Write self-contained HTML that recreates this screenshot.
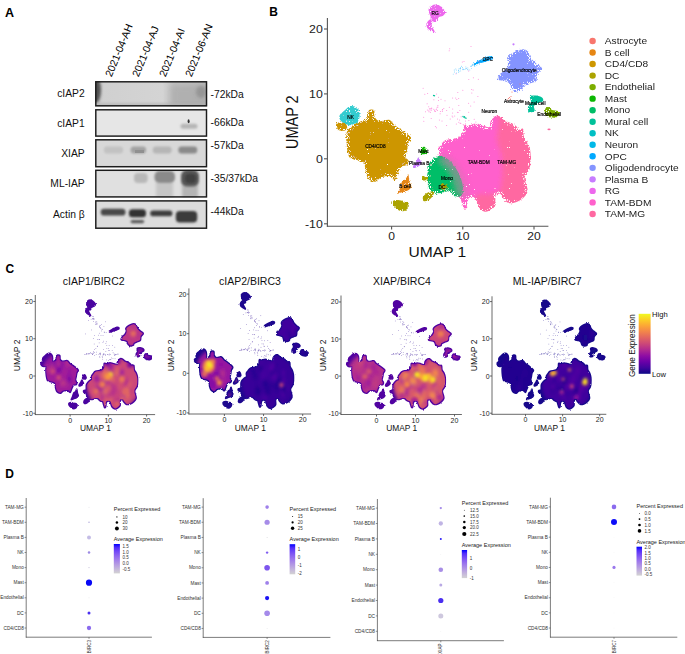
<!DOCTYPE html>
<html><head><meta charset="utf-8"><style>
html,body{margin:0;padding:0;background:#fff;}
body{width:685px;height:654px;overflow:hidden;}
svg{display:block;font-family:"Liberation Sans", sans-serif;}
</style></head><body>
<svg width="685" height="654" viewBox="0 0 685 654">
<defs><filter id="bl1" x="-50%" y="-50%" width="200%" height="200%"><feGaussianBlur stdDeviation="1.0"/></filter><filter id="bl2" x="-50%" y="-50%" width="200%" height="200%"><feGaussianBlur stdDeviation="2.5"/></filter><filter id="bl05" x="-50%" y="-50%" width="200%" height="200%"><feGaussianBlur stdDeviation="0.7"/></filter><linearGradient id="g1" x1="0" x2="1" y1="0" y2="0"><stop offset="0" stop-color="#cccccc"/><stop offset="0.06" stop-color="#d0d0d0"/><stop offset="0.6" stop-color="#d4d4d4"/><stop offset="0.7" stop-color="#c6c6c6"/><stop offset="1" stop-color="#bcbcbc"/></linearGradient><linearGradient id="gl" x1="0" x2="1" y1="0" y2="0"><stop offset="0" stop-color="#6a6a6a"/><stop offset="0.3" stop-color="#8a8a8a" stop-opacity="0.75"/><stop offset="1" stop-color="#c8c8c8" stop-opacity="0"/></linearGradient><filter id="bl15" x="-50%" y="-50%" width="200%" height="200%"><feGaussianBlur stdDeviation="1.5"/></filter><filter id="bl3" x="-50%" y="-50%" width="200%" height="200%"><feGaussianBlur stdDeviation="3"/></filter><filter id="rough" x="-5%" y="-5%" width="110%" height="110%"><feTurbulence type="fractalNoise" baseFrequency="0.7" numOctaves="2" seed="4" result="n"/><feDisplacementMap in="SourceGraphic" in2="n" scale="3.2" xChannelSelector="R" yChannelSelector="G" result="d"/><feMorphology in="d" operator="erode" radius="2.2" result="inner"/><feComposite in="d" in2="inner" operator="out" result="band"/><feTurbulence type="fractalNoise" baseFrequency="0.95" numOctaves="1" seed="9" result="t"/><feColorMatrix in="t" type="matrix" values="0 0 0 0 1  0 0 0 0 1  0 0 0 0 1  28 0 0 0 -20.6" result="spk"/><feComposite in="spk" in2="d" operator="in" result="spk2"/><feColorMatrix in="t" type="matrix" values="0 0 0 0 1  0 0 0 0 1  0 0 0 0 1  16 0 0 0 -9.0" result="spkb"/><feComposite in="spkb" in2="band" operator="in" result="spkb2"/><feMerge><feMergeNode in="d"/><feMergeNode in="spk2"/><feMergeNode in="spkb2"/></feMerge></filter><filter id="rough2" x="-20%" y="-20%" width="140%" height="140%"><feTurbulence type="fractalNoise" baseFrequency="0.8" numOctaves="2" seed="5" result="n"/><feDisplacementMap in="SourceGraphic" in2="n" scale="3.0" xChannelSelector="R" yChannelSelector="G" result="d"/><feTurbulence type="fractalNoise" baseFrequency="0.95" numOctaves="1" seed="12" result="t"/><feColorMatrix in="t" type="matrix" values="0 0 0 0 1  0 0 0 0 1  0 0 0 0 1  20 0 0 0 -13.2" result="spk"/><feComposite in="spk" in2="d" operator="in" result="spk2"/><feMerge><feMergeNode in="d"/><feMergeNode in="spk2"/></feMerge></filter><filter id="roughc" x="-10%" y="-10%" width="120%" height="120%"><feTurbulence type="fractalNoise" baseFrequency="0.22" numOctaves="2" seed="8" result="n"/><feDisplacementMap in="SourceGraphic" in2="n" scale="4.5" xChannelSelector="R" yChannelSelector="G"/></filter><mask id="cclip" maskUnits="userSpaceOnUse" x="0" y="-20" width="700" height="300"><g filter="url(#roughc)"><g fill="#fff" stroke="#fff" stroke-width="3.2" stroke-linejoin="round"><path d="M441.20,145.00 C442.53,143.35 443.18,141.32 446.00,140.10 C448.82,138.88 455.28,139.03 458.10,137.70 C460.92,136.37 461.97,134.23 462.90,132.10 C463.83,129.97 462.77,125.97 463.70,124.90 C464.63,123.83 466.62,125.83 468.50,125.70 C470.38,125.57 472.58,124.10 475.00,124.10 C477.42,124.10 480.60,125.17 483.00,125.70 C485.40,126.23 488.07,128.10 489.40,127.30 C490.73,126.50 489.93,122.77 491.00,120.90 C492.07,119.03 494.18,116.77 495.80,116.10 C497.42,115.43 499.08,116.10 500.70,116.90 C502.32,117.70 503.37,119.70 505.50,120.90 C507.63,122.10 511.23,122.77 513.50,124.10 C515.77,125.43 517.50,128.10 519.10,128.90 C520.70,129.70 522.28,127.55 523.10,128.90 C523.92,130.25 523.18,134.58 524.00,137.00 C524.82,139.42 526.93,141.00 528.00,143.40 C529.07,145.80 530.00,147.93 530.40,151.40 C530.80,154.87 530.63,161.07 530.40,164.20 C530.17,167.33 529.95,167.98 529.00,170.20 C528.05,172.42 525.05,174.82 524.70,177.50 C524.35,180.18 526.42,183.87 526.90,186.30 C527.38,188.73 528.22,190.15 527.60,192.10 C526.98,194.05 525.15,196.30 523.20,198.00 C521.25,199.70 518.33,201.45 515.90,202.30 C513.47,203.15 510.78,203.82 508.60,203.10 C506.42,202.38 504.25,199.58 502.80,198.00 C501.35,196.42 501.12,193.85 499.90,193.60 C498.68,193.35 496.23,194.55 495.50,196.50 C494.77,198.45 496.23,203.12 495.50,205.30 C494.77,207.48 492.80,208.52 491.10,209.60 C489.40,210.68 487.25,212.03 485.30,211.80 C483.35,211.57 480.98,210.27 479.40,208.20 C477.82,206.13 477.02,201.35 475.80,199.40 C474.58,197.45 473.45,196.50 472.10,196.50 C470.75,196.50 468.67,197.45 467.70,199.40 C466.73,201.35 466.90,206.62 466.30,208.20 C465.70,209.78 464.83,209.88 464.10,208.90 C463.37,207.92 462.52,204.12 461.90,202.30 C461.28,200.48 461.13,198.97 460.40,198.00 C459.67,197.03 458.40,197.83 457.50,196.50 C456.60,195.17 456.25,193.58 455.00,190.00 C453.75,186.42 452.33,180.00 450.00,175.00 C447.67,170.00 443.00,164.17 441.00,160.00 C439.00,155.83 437.97,152.50 438.00,150.00 C438.03,147.50 439.87,146.65 441.20,145.00Z"/><path d="M368.50,110.10 C369.63,109.63 372.97,108.95 374.00,110.10 C375.03,111.25 373.78,115.17 374.70,117.00 C375.62,118.83 377.08,120.63 379.50,121.10 C381.92,121.57 386.67,119.10 389.20,119.80 C391.73,120.50 392.42,123.47 394.70,125.30 C396.98,127.13 400.15,128.73 402.90,130.80 C405.65,132.87 410.28,135.63 411.20,137.70 C412.12,139.77 409.08,141.15 408.40,143.20 C407.72,145.25 407.55,147.72 407.10,150.00 C406.65,152.28 405.48,155.07 405.70,156.90 C405.92,158.73 408.17,159.62 408.40,161.00 C408.63,162.38 408.23,164.27 407.10,165.20 C405.97,166.13 403.22,165.00 401.60,166.60 C399.98,168.20 398.55,172.52 397.40,174.80 C396.25,177.08 396.07,180.07 394.70,180.30 C393.33,180.53 391.50,176.65 389.20,176.20 C386.90,175.75 383.20,176.68 380.90,177.60 C378.60,178.52 377.47,181.48 375.40,181.70 C373.33,181.92 370.10,180.50 368.50,178.90 C366.90,177.30 366.48,174.62 365.80,172.10 C365.12,169.58 365.32,165.65 364.40,163.80 C363.48,161.95 362.60,161.92 360.30,161.00 C358.00,160.08 352.67,159.67 350.60,158.30 C348.53,156.93 348.58,155.32 347.90,152.80 C347.22,150.28 346.73,146.42 346.50,143.20 C346.27,139.98 346.03,136.03 346.50,133.50 C346.97,130.97 347.92,129.60 349.30,128.00 C350.68,126.40 352.75,125.05 354.80,123.90 C356.85,122.75 359.65,122.02 361.60,121.10 C363.55,120.18 365.57,119.77 366.50,118.40 C367.43,117.03 366.87,114.28 367.20,112.90 C367.53,111.52 367.37,110.57 368.50,110.10Z"/><path d="M336.20,124.00 C336.70,122.83 339.37,122.50 341.00,122.50 C342.63,122.50 345.00,122.92 346.00,124.00 C347.00,125.08 347.50,127.87 347.00,129.00 C346.50,130.13 344.50,130.72 343.00,130.80 C341.50,130.88 339.13,130.63 338.00,129.50 C336.87,128.37 335.70,125.17 336.20,124.00Z"/><path d="M350.60,106.00 C352.67,105.65 356.00,106.40 357.50,108.00 C359.00,109.60 359.60,113.30 359.60,115.60 C359.60,117.90 359.22,120.18 357.50,121.80 C355.78,123.42 352.05,125.42 349.30,125.30 C346.55,125.18 342.62,122.72 341.00,121.10 C339.38,119.48 338.92,117.43 339.60,115.60 C340.28,113.77 343.27,111.70 345.10,110.10 C346.93,108.50 348.53,106.35 350.60,106.00Z"/><path d="M408.20,174.30 C408.82,174.72 408.98,179.57 409.50,181.60 C410.02,183.63 411.52,185.07 411.30,186.50 C411.08,187.93 409.93,189.18 408.20,190.20 C406.47,191.22 402.73,192.00 400.90,192.60 C399.07,193.20 397.40,194.42 397.20,193.80 C397.00,193.18 398.88,190.93 399.70,188.90 C400.52,186.87 401.08,183.23 402.10,181.60 C403.12,179.97 404.78,180.32 405.80,179.10 C406.82,177.88 407.58,173.88 408.20,174.30Z"/><path d="M393.00,201.00 C393.92,200.33 396.17,199.92 398.00,200.00 C399.83,200.08 402.25,201.00 404.00,201.50 C405.75,202.00 407.83,201.92 408.50,203.00 C409.17,204.08 408.75,206.67 408.00,208.00 C407.25,209.33 405.50,210.58 404.00,211.00 C402.50,211.42 400.50,211.17 399.00,210.50 C397.50,209.83 396.08,208.08 395.00,207.00 C393.92,205.92 392.83,205.00 392.50,204.00 C392.17,203.00 392.08,201.67 393.00,201.00Z"/><path d="M423.00,197.00 C423.58,195.67 425.67,193.92 427.00,193.00 C428.33,192.08 429.83,191.58 431.00,191.50 C432.17,191.42 433.83,191.58 434.00,192.50 C434.17,193.42 433.00,195.67 432.00,197.00 C431.00,198.33 429.42,199.83 428.00,200.50 C426.58,201.17 424.33,201.58 423.50,201.00 C422.67,200.42 422.42,198.33 423.00,197.00Z"/><path d="M422.00,177.50 C422.33,176.85 424.00,176.50 425.00,176.50 C426.00,176.50 427.67,176.92 428.00,177.50 C428.33,178.08 427.83,179.52 427.00,180.00 C426.17,180.48 423.83,180.82 423.00,180.40 C422.17,179.98 421.67,178.15 422.00,177.50Z"/><path d="M423.50,146.70 C424.67,146.45 426.67,150.77 427.00,152.00 C427.33,153.23 426.67,153.85 425.50,154.10 C424.33,154.35 420.33,154.73 420.00,153.50 C419.67,152.27 422.33,146.95 423.50,146.70Z"/><path d="M418.50,157.10 C419.17,156.77 419.47,159.02 420.00,160.00 C420.53,160.98 421.87,162.00 421.70,163.00 C421.53,164.00 420.28,165.15 419.00,166.00 C417.72,166.85 414.98,168.10 414.00,168.10 C413.02,168.10 412.77,167.02 413.10,166.00 C413.43,164.98 415.10,163.48 416.00,162.00 C416.90,160.52 417.83,157.43 418.50,157.10Z"/><path d="M428.00,165.00 C429.08,162.67 432.00,159.50 434.00,158.00 C436.00,156.50 438.00,156.00 440.00,156.00 C442.00,156.00 444.00,156.83 446.00,158.00 C448.00,159.17 450.00,160.67 452.00,163.00 C454.00,165.33 456.33,168.83 458.00,172.00 C459.67,175.17 461.17,178.67 462.00,182.00 C462.83,185.33 463.33,189.58 463.00,192.00 C462.67,194.42 461.33,195.83 460.00,196.50 C458.67,197.17 456.90,196.85 455.00,196.00 C453.10,195.15 451.50,191.77 448.60,191.40 C445.70,191.03 440.45,193.80 437.60,193.80 C434.75,193.80 433.23,193.23 431.50,191.40 C429.77,189.57 427.87,186.03 427.20,182.80 C426.53,179.57 427.37,174.97 427.50,172.00 C427.63,169.03 426.92,167.33 428.00,165.00Z"/><path d="M440.60,185.00 C440.93,184.05 442.93,183.72 444.00,183.80 C445.07,183.88 446.67,184.63 447.00,185.50 C447.33,186.37 446.83,188.33 446.00,189.00 C445.17,189.67 442.90,190.17 442.00,189.50 C441.10,188.83 440.27,185.95 440.60,185.00Z"/><path d="M430.30,6.10 C431.38,5.23 433.42,4.40 435.10,4.40 C436.78,4.40 438.93,5.23 440.40,6.10 C441.87,6.97 443.02,8.57 443.90,9.60 C444.78,10.63 445.85,11.27 445.70,12.30 C445.55,13.33 444.18,14.93 443.00,15.80 C441.82,16.67 439.92,16.33 438.60,17.50 C437.28,18.67 436.12,22.37 435.10,22.80 C434.08,23.23 433.43,21.57 432.50,20.10 C431.57,18.63 430.15,15.75 429.50,14.00 C428.85,12.25 428.47,10.92 428.60,9.60 C428.73,8.28 429.22,6.97 430.30,6.10Z"/><path d="M430.80,19.30 C430.07,19.30 428.83,20.13 428.10,21.00 C427.37,21.87 426.53,23.33 426.40,24.50 C426.27,25.67 426.57,26.97 427.30,28.00 C428.03,29.03 429.63,29.97 430.80,30.70 C431.97,31.43 433.43,31.97 434.30,32.40 C435.17,32.83 436.15,33.88 436.00,33.30 C435.85,32.72 434.13,30.22 433.40,28.90 C432.67,27.58 431.75,26.72 431.60,25.40 C431.45,24.08 432.63,22.02 432.50,21.00 C432.37,19.98 431.53,19.30 430.80,19.30Z"/><path d="M509.40,55.20 C510.97,53.93 514.07,52.08 516.40,51.10 C518.73,50.12 521.45,49.20 523.40,49.30 C525.35,49.40 526.93,50.33 528.10,51.70 C529.27,53.07 529.05,55.55 530.40,57.50 C531.75,59.45 534.25,61.65 536.20,63.40 C538.15,65.15 541.90,66.25 542.10,68.00 C542.30,69.75 538.38,71.75 537.40,73.90 C536.42,76.05 537.37,79.35 536.20,80.90 C535.03,82.45 532.53,82.23 530.40,83.20 C528.27,84.17 524.77,85.53 523.40,86.70 C522.03,87.87 523.37,89.42 522.20,90.20 C521.03,90.98 518.15,91.60 516.40,91.40 C514.65,91.20 512.87,90.37 511.70,89.00 C510.53,87.63 510.77,84.55 509.40,83.20 C508.03,81.85 505.45,81.48 503.50,80.90 C501.55,80.32 498.28,80.87 497.70,79.70 C497.12,78.53 498.83,75.45 500.00,73.90 C501.17,72.35 503.33,72.15 504.70,70.40 C506.07,68.65 507.82,65.35 508.20,63.40 C508.58,61.45 506.80,60.07 507.00,58.70 C507.20,57.33 507.83,56.47 509.40,55.20Z"/><path d="M474.00,63.50 C474.83,62.67 478.17,60.95 480.00,60.00 C481.83,59.05 483.50,58.42 485.00,57.80 C486.50,57.18 487.67,56.43 489.00,56.30 C490.33,56.17 492.50,56.45 493.00,57.00 C493.50,57.55 493.17,58.85 492.00,59.60 C490.83,60.35 488.00,60.88 486.00,61.50 C484.00,62.12 481.83,62.72 480.00,63.30 C478.17,63.88 476.00,64.97 475.00,65.00 C474.00,65.03 473.17,64.33 474.00,63.50Z"/><path d="M530.00,96.50 C530.83,95.42 534.00,95.33 536.00,95.50 C538.00,95.67 540.83,96.58 542.00,97.50 C543.17,98.42 543.67,100.00 543.00,101.00 C542.33,102.00 539.50,102.67 538.00,103.50 C536.50,104.33 534.58,104.75 534.00,106.00 C533.42,107.25 535.33,110.00 534.50,111.00 C533.67,112.00 530.08,112.67 529.00,112.00 C527.92,111.33 527.67,108.67 528.00,107.00 C528.33,105.33 530.67,103.75 531.00,102.00 C531.33,100.25 529.17,97.58 530.00,96.50Z"/><path d="M545.40,108.50 C546.07,107.33 547.90,106.75 549.00,107.00 C550.10,107.25 550.50,109.33 552.00,110.00 C553.50,110.67 556.77,110.33 558.00,111.00 C559.23,111.67 559.73,112.93 559.40,114.00 C559.07,115.07 557.73,116.90 556.00,117.40 C554.27,117.90 550.83,117.57 549.00,117.00 C547.17,116.43 545.60,115.42 545.00,114.00 C544.40,112.58 544.73,109.67 545.40,108.50Z"/></g></g></mask><filter id="erode" x="-10%" y="-10%" width="120%" height="120%"><feMorphology operator="erode" radius="2.6"/><feGaussianBlur stdDeviation="1.2"/></filter><mask id="cinner" maskUnits="userSpaceOnUse" x="0" y="-20" width="700" height="300"><g filter="url(#erode)" fill="#fff" stroke="#fff" stroke-width="3.2" stroke-linejoin="round"><path d="M441.20,145.00 C442.53,143.35 443.18,141.32 446.00,140.10 C448.82,138.88 455.28,139.03 458.10,137.70 C460.92,136.37 461.97,134.23 462.90,132.10 C463.83,129.97 462.77,125.97 463.70,124.90 C464.63,123.83 466.62,125.83 468.50,125.70 C470.38,125.57 472.58,124.10 475.00,124.10 C477.42,124.10 480.60,125.17 483.00,125.70 C485.40,126.23 488.07,128.10 489.40,127.30 C490.73,126.50 489.93,122.77 491.00,120.90 C492.07,119.03 494.18,116.77 495.80,116.10 C497.42,115.43 499.08,116.10 500.70,116.90 C502.32,117.70 503.37,119.70 505.50,120.90 C507.63,122.10 511.23,122.77 513.50,124.10 C515.77,125.43 517.50,128.10 519.10,128.90 C520.70,129.70 522.28,127.55 523.10,128.90 C523.92,130.25 523.18,134.58 524.00,137.00 C524.82,139.42 526.93,141.00 528.00,143.40 C529.07,145.80 530.00,147.93 530.40,151.40 C530.80,154.87 530.63,161.07 530.40,164.20 C530.17,167.33 529.95,167.98 529.00,170.20 C528.05,172.42 525.05,174.82 524.70,177.50 C524.35,180.18 526.42,183.87 526.90,186.30 C527.38,188.73 528.22,190.15 527.60,192.10 C526.98,194.05 525.15,196.30 523.20,198.00 C521.25,199.70 518.33,201.45 515.90,202.30 C513.47,203.15 510.78,203.82 508.60,203.10 C506.42,202.38 504.25,199.58 502.80,198.00 C501.35,196.42 501.12,193.85 499.90,193.60 C498.68,193.35 496.23,194.55 495.50,196.50 C494.77,198.45 496.23,203.12 495.50,205.30 C494.77,207.48 492.80,208.52 491.10,209.60 C489.40,210.68 487.25,212.03 485.30,211.80 C483.35,211.57 480.98,210.27 479.40,208.20 C477.82,206.13 477.02,201.35 475.80,199.40 C474.58,197.45 473.45,196.50 472.10,196.50 C470.75,196.50 468.67,197.45 467.70,199.40 C466.73,201.35 466.90,206.62 466.30,208.20 C465.70,209.78 464.83,209.88 464.10,208.90 C463.37,207.92 462.52,204.12 461.90,202.30 C461.28,200.48 461.13,198.97 460.40,198.00 C459.67,197.03 458.40,197.83 457.50,196.50 C456.60,195.17 456.25,193.58 455.00,190.00 C453.75,186.42 452.33,180.00 450.00,175.00 C447.67,170.00 443.00,164.17 441.00,160.00 C439.00,155.83 437.97,152.50 438.00,150.00 C438.03,147.50 439.87,146.65 441.20,145.00Z"/><path d="M368.50,110.10 C369.63,109.63 372.97,108.95 374.00,110.10 C375.03,111.25 373.78,115.17 374.70,117.00 C375.62,118.83 377.08,120.63 379.50,121.10 C381.92,121.57 386.67,119.10 389.20,119.80 C391.73,120.50 392.42,123.47 394.70,125.30 C396.98,127.13 400.15,128.73 402.90,130.80 C405.65,132.87 410.28,135.63 411.20,137.70 C412.12,139.77 409.08,141.15 408.40,143.20 C407.72,145.25 407.55,147.72 407.10,150.00 C406.65,152.28 405.48,155.07 405.70,156.90 C405.92,158.73 408.17,159.62 408.40,161.00 C408.63,162.38 408.23,164.27 407.10,165.20 C405.97,166.13 403.22,165.00 401.60,166.60 C399.98,168.20 398.55,172.52 397.40,174.80 C396.25,177.08 396.07,180.07 394.70,180.30 C393.33,180.53 391.50,176.65 389.20,176.20 C386.90,175.75 383.20,176.68 380.90,177.60 C378.60,178.52 377.47,181.48 375.40,181.70 C373.33,181.92 370.10,180.50 368.50,178.90 C366.90,177.30 366.48,174.62 365.80,172.10 C365.12,169.58 365.32,165.65 364.40,163.80 C363.48,161.95 362.60,161.92 360.30,161.00 C358.00,160.08 352.67,159.67 350.60,158.30 C348.53,156.93 348.58,155.32 347.90,152.80 C347.22,150.28 346.73,146.42 346.50,143.20 C346.27,139.98 346.03,136.03 346.50,133.50 C346.97,130.97 347.92,129.60 349.30,128.00 C350.68,126.40 352.75,125.05 354.80,123.90 C356.85,122.75 359.65,122.02 361.60,121.10 C363.55,120.18 365.57,119.77 366.50,118.40 C367.43,117.03 366.87,114.28 367.20,112.90 C367.53,111.52 367.37,110.57 368.50,110.10Z"/><path d="M336.20,124.00 C336.70,122.83 339.37,122.50 341.00,122.50 C342.63,122.50 345.00,122.92 346.00,124.00 C347.00,125.08 347.50,127.87 347.00,129.00 C346.50,130.13 344.50,130.72 343.00,130.80 C341.50,130.88 339.13,130.63 338.00,129.50 C336.87,128.37 335.70,125.17 336.20,124.00Z"/><path d="M350.60,106.00 C352.67,105.65 356.00,106.40 357.50,108.00 C359.00,109.60 359.60,113.30 359.60,115.60 C359.60,117.90 359.22,120.18 357.50,121.80 C355.78,123.42 352.05,125.42 349.30,125.30 C346.55,125.18 342.62,122.72 341.00,121.10 C339.38,119.48 338.92,117.43 339.60,115.60 C340.28,113.77 343.27,111.70 345.10,110.10 C346.93,108.50 348.53,106.35 350.60,106.00Z"/><path d="M408.20,174.30 C408.82,174.72 408.98,179.57 409.50,181.60 C410.02,183.63 411.52,185.07 411.30,186.50 C411.08,187.93 409.93,189.18 408.20,190.20 C406.47,191.22 402.73,192.00 400.90,192.60 C399.07,193.20 397.40,194.42 397.20,193.80 C397.00,193.18 398.88,190.93 399.70,188.90 C400.52,186.87 401.08,183.23 402.10,181.60 C403.12,179.97 404.78,180.32 405.80,179.10 C406.82,177.88 407.58,173.88 408.20,174.30Z"/><path d="M393.00,201.00 C393.92,200.33 396.17,199.92 398.00,200.00 C399.83,200.08 402.25,201.00 404.00,201.50 C405.75,202.00 407.83,201.92 408.50,203.00 C409.17,204.08 408.75,206.67 408.00,208.00 C407.25,209.33 405.50,210.58 404.00,211.00 C402.50,211.42 400.50,211.17 399.00,210.50 C397.50,209.83 396.08,208.08 395.00,207.00 C393.92,205.92 392.83,205.00 392.50,204.00 C392.17,203.00 392.08,201.67 393.00,201.00Z"/><path d="M423.00,197.00 C423.58,195.67 425.67,193.92 427.00,193.00 C428.33,192.08 429.83,191.58 431.00,191.50 C432.17,191.42 433.83,191.58 434.00,192.50 C434.17,193.42 433.00,195.67 432.00,197.00 C431.00,198.33 429.42,199.83 428.00,200.50 C426.58,201.17 424.33,201.58 423.50,201.00 C422.67,200.42 422.42,198.33 423.00,197.00Z"/><path d="M422.00,177.50 C422.33,176.85 424.00,176.50 425.00,176.50 C426.00,176.50 427.67,176.92 428.00,177.50 C428.33,178.08 427.83,179.52 427.00,180.00 C426.17,180.48 423.83,180.82 423.00,180.40 C422.17,179.98 421.67,178.15 422.00,177.50Z"/><path d="M423.50,146.70 C424.67,146.45 426.67,150.77 427.00,152.00 C427.33,153.23 426.67,153.85 425.50,154.10 C424.33,154.35 420.33,154.73 420.00,153.50 C419.67,152.27 422.33,146.95 423.50,146.70Z"/><path d="M418.50,157.10 C419.17,156.77 419.47,159.02 420.00,160.00 C420.53,160.98 421.87,162.00 421.70,163.00 C421.53,164.00 420.28,165.15 419.00,166.00 C417.72,166.85 414.98,168.10 414.00,168.10 C413.02,168.10 412.77,167.02 413.10,166.00 C413.43,164.98 415.10,163.48 416.00,162.00 C416.90,160.52 417.83,157.43 418.50,157.10Z"/><path d="M428.00,165.00 C429.08,162.67 432.00,159.50 434.00,158.00 C436.00,156.50 438.00,156.00 440.00,156.00 C442.00,156.00 444.00,156.83 446.00,158.00 C448.00,159.17 450.00,160.67 452.00,163.00 C454.00,165.33 456.33,168.83 458.00,172.00 C459.67,175.17 461.17,178.67 462.00,182.00 C462.83,185.33 463.33,189.58 463.00,192.00 C462.67,194.42 461.33,195.83 460.00,196.50 C458.67,197.17 456.90,196.85 455.00,196.00 C453.10,195.15 451.50,191.77 448.60,191.40 C445.70,191.03 440.45,193.80 437.60,193.80 C434.75,193.80 433.23,193.23 431.50,191.40 C429.77,189.57 427.87,186.03 427.20,182.80 C426.53,179.57 427.37,174.97 427.50,172.00 C427.63,169.03 426.92,167.33 428.00,165.00Z"/><path d="M440.60,185.00 C440.93,184.05 442.93,183.72 444.00,183.80 C445.07,183.88 446.67,184.63 447.00,185.50 C447.33,186.37 446.83,188.33 446.00,189.00 C445.17,189.67 442.90,190.17 442.00,189.50 C441.10,188.83 440.27,185.95 440.60,185.00Z"/><path d="M430.30,6.10 C431.38,5.23 433.42,4.40 435.10,4.40 C436.78,4.40 438.93,5.23 440.40,6.10 C441.87,6.97 443.02,8.57 443.90,9.60 C444.78,10.63 445.85,11.27 445.70,12.30 C445.55,13.33 444.18,14.93 443.00,15.80 C441.82,16.67 439.92,16.33 438.60,17.50 C437.28,18.67 436.12,22.37 435.10,22.80 C434.08,23.23 433.43,21.57 432.50,20.10 C431.57,18.63 430.15,15.75 429.50,14.00 C428.85,12.25 428.47,10.92 428.60,9.60 C428.73,8.28 429.22,6.97 430.30,6.10Z"/><path d="M430.80,19.30 C430.07,19.30 428.83,20.13 428.10,21.00 C427.37,21.87 426.53,23.33 426.40,24.50 C426.27,25.67 426.57,26.97 427.30,28.00 C428.03,29.03 429.63,29.97 430.80,30.70 C431.97,31.43 433.43,31.97 434.30,32.40 C435.17,32.83 436.15,33.88 436.00,33.30 C435.85,32.72 434.13,30.22 433.40,28.90 C432.67,27.58 431.75,26.72 431.60,25.40 C431.45,24.08 432.63,22.02 432.50,21.00 C432.37,19.98 431.53,19.30 430.80,19.30Z"/><path d="M509.40,55.20 C510.97,53.93 514.07,52.08 516.40,51.10 C518.73,50.12 521.45,49.20 523.40,49.30 C525.35,49.40 526.93,50.33 528.10,51.70 C529.27,53.07 529.05,55.55 530.40,57.50 C531.75,59.45 534.25,61.65 536.20,63.40 C538.15,65.15 541.90,66.25 542.10,68.00 C542.30,69.75 538.38,71.75 537.40,73.90 C536.42,76.05 537.37,79.35 536.20,80.90 C535.03,82.45 532.53,82.23 530.40,83.20 C528.27,84.17 524.77,85.53 523.40,86.70 C522.03,87.87 523.37,89.42 522.20,90.20 C521.03,90.98 518.15,91.60 516.40,91.40 C514.65,91.20 512.87,90.37 511.70,89.00 C510.53,87.63 510.77,84.55 509.40,83.20 C508.03,81.85 505.45,81.48 503.50,80.90 C501.55,80.32 498.28,80.87 497.70,79.70 C497.12,78.53 498.83,75.45 500.00,73.90 C501.17,72.35 503.33,72.15 504.70,70.40 C506.07,68.65 507.82,65.35 508.20,63.40 C508.58,61.45 506.80,60.07 507.00,58.70 C507.20,57.33 507.83,56.47 509.40,55.20Z"/><path d="M474.00,63.50 C474.83,62.67 478.17,60.95 480.00,60.00 C481.83,59.05 483.50,58.42 485.00,57.80 C486.50,57.18 487.67,56.43 489.00,56.30 C490.33,56.17 492.50,56.45 493.00,57.00 C493.50,57.55 493.17,58.85 492.00,59.60 C490.83,60.35 488.00,60.88 486.00,61.50 C484.00,62.12 481.83,62.72 480.00,63.30 C478.17,63.88 476.00,64.97 475.00,65.00 C474.00,65.03 473.17,64.33 474.00,63.50Z"/><path d="M530.00,96.50 C530.83,95.42 534.00,95.33 536.00,95.50 C538.00,95.67 540.83,96.58 542.00,97.50 C543.17,98.42 543.67,100.00 543.00,101.00 C542.33,102.00 539.50,102.67 538.00,103.50 C536.50,104.33 534.58,104.75 534.00,106.00 C533.42,107.25 535.33,110.00 534.50,111.00 C533.67,112.00 530.08,112.67 529.00,112.00 C527.92,111.33 527.67,108.67 528.00,107.00 C528.33,105.33 530.67,103.75 531.00,102.00 C531.33,100.25 529.17,97.58 530.00,96.50Z"/><path d="M545.40,108.50 C546.07,107.33 547.90,106.75 549.00,107.00 C550.10,107.25 550.50,109.33 552.00,110.00 C553.50,110.67 556.77,110.33 558.00,111.00 C559.23,111.67 559.73,112.93 559.40,114.00 C559.07,115.07 557.73,116.90 556.00,117.40 C554.27,117.90 550.83,117.57 549.00,117.00 C547.17,116.43 545.60,115.42 545.00,114.00 C544.40,112.58 544.73,109.67 545.40,108.50Z"/></g></mask><filter id="hb" x="-50%" y="-50%" width="200%" height="200%"><feGaussianBlur stdDeviation="3.6"/></filter><filter id="hb2" x="-50%" y="-50%" width="200%" height="200%"><feGaussianBlur stdDeviation="2.8"/></filter><linearGradient id="gexp" x1="0" x2="0" y1="1" y2="0"><stop offset="0.0" stop-color="#0D0887"/><stop offset="0.1" stop-color="#41049D"/><stop offset="0.2" stop-color="#6A00A8"/><stop offset="0.3" stop-color="#8F0DA4"/><stop offset="0.4" stop-color="#B12A90"/><stop offset="0.5" stop-color="#CC4778"/><stop offset="0.6" stop-color="#E16462"/><stop offset="0.7" stop-color="#F2844B"/><stop offset="0.8" stop-color="#FCA636"/><stop offset="0.9" stop-color="#FCCE25"/><stop offset="1.0" stop-color="#F0F921"/></linearGradient><linearGradient id="gavg" x1="0" x2="0" y1="1" y2="0"><stop offset="0.000" stop-color="#D3D3D3"/><stop offset="0.125" stop-color="#C8BCDA"/><stop offset="0.250" stop-color="#BBA5E0"/><stop offset="0.375" stop-color="#AD8EE6"/><stop offset="0.500" stop-color="#9D77EC"/><stop offset="0.625" stop-color="#8A60F1"/><stop offset="0.750" stop-color="#7248F6"/><stop offset="0.875" stop-color="#522DFB"/><stop offset="1.000" stop-color="#0000FF"/></linearGradient></defs>
<rect width="685" height="654" fill="#fff"/>
<text x="5.00" y="16.70" font-size="12.50" text-anchor="start" font-weight="bold" fill="#000" >A</text>
<text transform="translate(111.50,77.6) rotate(-67.5)" font-size="10.4" fill="#000">2021-04-AH</text>
<text transform="translate(138.50,77.6) rotate(-67.5)" font-size="10.4" fill="#000">2021-04-AJ</text>
<text transform="translate(165.50,77.6) rotate(-67.5)" font-size="10.4" fill="#000">2021-04-AI</text>
<text transform="translate(191.50,77.6) rotate(-67.5)" font-size="10.4" fill="#000">2021-06-AN</text>
<rect x="95.20" y="81.20" width="111.90" height="25.20" fill="url(#g1)"/>
<text x="84.70" y="97.40" font-size="10.30" text-anchor="end" font-weight="normal" fill="#111" >cIAP2</text>
<text x="210.50" y="98.20" font-size="10.30" text-anchor="start" font-weight="normal" fill="#111" >-72kDa</text>
<rect x="95.20" y="109.20" width="111.90" height="27.50" fill="#e6e6e6"/>
<text x="84.70" y="126.55" font-size="10.30" text-anchor="end" font-weight="normal" fill="#111" >cIAP1</text>
<text x="210.50" y="125.90" font-size="10.30" text-anchor="start" font-weight="normal" fill="#111" >-66kDa</text>
<rect x="95.20" y="139.20" width="111.90" height="28.10" fill="#d8d8d8"/>
<text x="84.70" y="156.85" font-size="10.30" text-anchor="end" font-weight="normal" fill="#111" >XIAP</text>
<text x="210.50" y="149.20" font-size="10.30" text-anchor="start" font-weight="normal" fill="#111" >-57kDa</text>
<rect x="95.20" y="169.70" width="111.90" height="27.80" fill="#e0e0e0"/>
<text x="84.70" y="187.20" font-size="10.30" text-anchor="end" font-weight="normal" fill="#111" >ML-IAP</text>
<text x="210.50" y="181.50" font-size="10.30" text-anchor="start" font-weight="normal" fill="#111" >-35/37kDa</text>
<rect x="95.20" y="200.30" width="111.90" height="28.50" fill="#dcdcdc"/>
<text x="84.70" y="218.15" font-size="10.30" text-anchor="end" font-weight="normal" fill="#111" >Actin β</text>
<text x="210.50" y="214.80" font-size="10.30" text-anchor="start" font-weight="normal" fill="#111" >-44kDa</text>
<g><clipPath id="c1clip"><rect x="95.2" y="81.2" width="111.9" height="25.2"/></clipPath><g clip-path="url(#c1clip)"><ellipse cx="95.5" cy="90" rx="5.5" ry="13" fill="#505050" filter="url(#bl15)"/><rect x="170" y="84" width="40" height="24" fill="#a8a8a8" opacity="0.7" filter="url(#bl3)"/><ellipse cx="201" cy="92" rx="5" ry="6" fill="#909090" opacity="0.8" filter="url(#bl15)"/><rect x="95" y="103" width="112" height="4" fill="#b0b0b0" opacity="0.6" filter="url(#bl1)"/></g><rect x="180.5" y="123.8" width="17" height="5" rx="2.5" fill="#b6b6b6" filter="url(#bl1)"/><ellipse cx="188.6" cy="121.2" rx="1" ry="2" fill="#333" filter="url(#bl05)"/><rect x="104.0" y="146.6" width="19.0" height="7" rx="3" fill="#c2c2c2" filter="url(#bl1)"/><rect x="130.6" y="146.6" width="15.4" height="7" rx="3" fill="#a2a2a2" filter="url(#bl1)"/><rect x="152.8" y="146.6" width="18.8" height="7" rx="3" fill="#b6b6b6" filter="url(#bl1)"/><rect x="178.4" y="146.6" width="18.8" height="7" rx="3" fill="#8a8a8a" filter="url(#bl1)"/><rect x="135" y="150" width="9" height="3" fill="#909090" filter="url(#bl05)"/><clipPath id="c4clip"><rect x="95.2" y="169.7" width="111.9" height="27.8"/></clipPath><g clip-path="url(#c4clip)"><rect x="156" y="182" width="17" height="16" fill="#c6c6c6" filter="url(#bl15)"/><rect x="182" y="184" width="16" height="14" fill="#b4b4b4" filter="url(#bl15)"/><rect x="134" y="172.9" width="13.7" height="10" rx="4" fill="#b8b8b8" filter="url(#bl1)"/><rect x="154.5" y="171" width="20.5" height="12" rx="5" fill="#8a8a8a" filter="url(#bl1)"/><rect x="181" y="170" width="18" height="16.5" rx="6" fill="#565656" filter="url(#bl1)"/><rect x="185" y="174" width="11" height="9" rx="4" fill="#404040" filter="url(#bl1)"/></g><rect x="100.7" y="208.8" width="24.8" height="6.8" rx="3.4" fill="#484848" filter="url(#bl1)"/><rect x="128.9" y="209.3" width="17.1" height="8" rx="3.5" fill="#303030" filter="url(#bl1)"/><rect x="130.6" y="219.9" width="13.6" height="3.4" rx="1.7" fill="#5a5a5a" filter="url(#bl1)"/><rect x="150.2" y="210.5" width="22.2" height="5.7" rx="2.8" fill="#3c3c3c" filter="url(#bl1)"/><rect x="175.8" y="211" width="21.4" height="11.5" rx="4" fill="#3a3a3a" filter="url(#bl1)"/></g>
<rect x="95.80" y="81.80" width="110.70" height="24.00" fill="none" stroke="#1c1c1c" stroke-width="1.45"/>
<rect x="95.80" y="109.80" width="110.70" height="26.30" fill="none" stroke="#1c1c1c" stroke-width="1.45"/>
<rect x="95.80" y="139.80" width="110.70" height="26.90" fill="none" stroke="#1c1c1c" stroke-width="1.45"/>
<rect x="95.80" y="170.30" width="110.70" height="26.60" fill="none" stroke="#1c1c1c" stroke-width="1.45"/>
<rect x="95.80" y="200.90" width="110.70" height="27.30" fill="none" stroke="#1c1c1c" stroke-width="1.45"/>
<text x="269.30" y="15.90" font-size="12.00" text-anchor="start" font-weight="bold" fill="#000" >B</text>
<line x1="327.40" y1="17.9" x2="327.40" y2="226.85" stroke="#555" stroke-width="1.1"/>
<line x1="326.85" y1="226.30" x2="548.4" y2="226.30" stroke="#555" stroke-width="1.1"/>
<line x1="324.00" y1="29.00" x2="327.40" y2="29.00" stroke="#555" stroke-width="1.1"/>
<text transform="translate(322.80,33.00) scale(1.100,1)" font-size="11.20" text-anchor="end" font-weight="normal" fill="#222" >20</text>
<line x1="324.00" y1="93.90" x2="327.40" y2="93.90" stroke="#555" stroke-width="1.1"/>
<text transform="translate(322.80,97.90) scale(1.100,1)" font-size="11.20" text-anchor="end" font-weight="normal" fill="#222" >10</text>
<line x1="324.00" y1="158.80" x2="327.40" y2="158.80" stroke="#555" stroke-width="1.1"/>
<text transform="translate(322.80,162.80) scale(1.100,1)" font-size="11.20" text-anchor="end" font-weight="normal" fill="#222" >0</text>
<line x1="324.00" y1="223.80" x2="327.40" y2="223.80" stroke="#555" stroke-width="1.1"/>
<text transform="translate(322.80,227.80) scale(1.100,1)" font-size="11.20" text-anchor="end" font-weight="normal" fill="#222" >-10</text>
<line x1="391.60" y1="226.30" x2="391.60" y2="229.50" stroke="#555" stroke-width="1.1"/>
<text transform="translate(391.60,240.30) scale(1.100,1)" font-size="11.00" text-anchor="middle" font-weight="normal" fill="#222" >0</text>
<line x1="462.80" y1="226.30" x2="462.80" y2="229.50" stroke="#555" stroke-width="1.1"/>
<text transform="translate(462.80,240.30) scale(1.100,1)" font-size="11.00" text-anchor="middle" font-weight="normal" fill="#222" >10</text>
<line x1="534.00" y1="226.30" x2="534.00" y2="229.50" stroke="#555" stroke-width="1.1"/>
<text transform="translate(534.00,240.30) scale(1.100,1)" font-size="11.00" text-anchor="middle" font-weight="normal" fill="#222" >20</text>
<text transform="translate(437.40,256.70) scale(1.130,1)" font-size="13.80" text-anchor="middle" font-weight="normal" fill="#111" >UMAP 1</text>
<text transform="translate(297.8,122.2) rotate(-90) scale(1,1.15)" font-size="14.5" text-anchor="middle" fill="#111">UMAP 2</text>
<g id="umapB"><clipPath id="pinkclip"><path d="M441.20,145.00 C442.53,143.35 443.18,141.32 446.00,140.10 C448.82,138.88 455.28,139.03 458.10,137.70 C460.92,136.37 461.97,134.23 462.90,132.10 C463.83,129.97 462.77,125.97 463.70,124.90 C464.63,123.83 466.62,125.83 468.50,125.70 C470.38,125.57 472.58,124.10 475.00,124.10 C477.42,124.10 480.60,125.17 483.00,125.70 C485.40,126.23 488.07,128.10 489.40,127.30 C490.73,126.50 489.93,122.77 491.00,120.90 C492.07,119.03 494.18,116.77 495.80,116.10 C497.42,115.43 499.08,116.10 500.70,116.90 C502.32,117.70 503.37,119.70 505.50,120.90 C507.63,122.10 511.23,122.77 513.50,124.10 C515.77,125.43 517.50,128.10 519.10,128.90 C520.70,129.70 522.28,127.55 523.10,128.90 C523.92,130.25 523.18,134.58 524.00,137.00 C524.82,139.42 526.93,141.00 528.00,143.40 C529.07,145.80 530.00,147.93 530.40,151.40 C530.80,154.87 530.63,161.07 530.40,164.20 C530.17,167.33 529.95,167.98 529.00,170.20 C528.05,172.42 525.05,174.82 524.70,177.50 C524.35,180.18 526.42,183.87 526.90,186.30 C527.38,188.73 528.22,190.15 527.60,192.10 C526.98,194.05 525.15,196.30 523.20,198.00 C521.25,199.70 518.33,201.45 515.90,202.30 C513.47,203.15 510.78,203.82 508.60,203.10 C506.42,202.38 504.25,199.58 502.80,198.00 C501.35,196.42 501.12,193.85 499.90,193.60 C498.68,193.35 496.23,194.55 495.50,196.50 C494.77,198.45 496.23,203.12 495.50,205.30 C494.77,207.48 492.80,208.52 491.10,209.60 C489.40,210.68 487.25,212.03 485.30,211.80 C483.35,211.57 480.98,210.27 479.40,208.20 C477.82,206.13 477.02,201.35 475.80,199.40 C474.58,197.45 473.45,196.50 472.10,196.50 C470.75,196.50 468.67,197.45 467.70,199.40 C466.73,201.35 466.90,206.62 466.30,208.20 C465.70,209.78 464.83,209.88 464.10,208.90 C463.37,207.92 462.52,204.12 461.90,202.30 C461.28,200.48 461.13,198.97 460.40,198.00 C459.67,197.03 458.40,197.83 457.50,196.50 C456.60,195.17 456.25,193.58 455.00,190.00 C453.75,186.42 452.33,180.00 450.00,175.00 C447.67,170.00 443.00,164.17 441.00,160.00 C439.00,155.83 437.97,152.50 438.00,150.00 C438.03,147.50 439.87,146.65 441.20,145.00Z"/></clipPath><clipPath id="pinkclip2"><path d="M441.20,145.00 C442.53,143.35 443.18,141.32 446.00,140.10 C448.82,138.88 455.28,139.03 458.10,137.70 C460.92,136.37 461.97,134.23 462.90,132.10 C463.83,129.97 462.77,125.97 463.70,124.90 C464.63,123.83 466.62,125.83 468.50,125.70 C470.38,125.57 472.58,124.10 475.00,124.10 C477.42,124.10 480.60,125.17 483.00,125.70 C485.40,126.23 488.07,128.10 489.40,127.30 C490.73,126.50 489.93,122.77 491.00,120.90 C492.07,119.03 494.18,116.77 495.80,116.10 C497.42,115.43 499.08,116.10 500.70,116.90 C502.32,117.70 503.37,119.70 505.50,120.90 C507.63,122.10 511.23,122.77 513.50,124.10 C515.77,125.43 517.50,128.10 519.10,128.90 C520.70,129.70 522.28,127.55 523.10,128.90 C523.92,130.25 523.18,134.58 524.00,137.00 C524.82,139.42 526.93,141.00 528.00,143.40 C529.07,145.80 530.00,147.93 530.40,151.40 C530.80,154.87 530.63,161.07 530.40,164.20 C530.17,167.33 529.95,167.98 529.00,170.20 C528.05,172.42 525.05,174.82 524.70,177.50 C524.35,180.18 526.42,183.87 526.90,186.30 C527.38,188.73 528.22,190.15 527.60,192.10 C526.98,194.05 525.15,196.30 523.20,198.00 C521.25,199.70 518.33,201.45 515.90,202.30 C513.47,203.15 510.78,203.82 508.60,203.10 C506.42,202.38 504.25,199.58 502.80,198.00 C501.35,196.42 501.12,193.85 499.90,193.60 C498.68,193.35 496.23,194.55 495.50,196.50 C494.77,198.45 496.23,203.12 495.50,205.30 C494.77,207.48 492.80,208.52 491.10,209.60 C489.40,210.68 487.25,212.03 485.30,211.80 C483.35,211.57 480.98,210.27 479.40,208.20 C477.82,206.13 477.02,201.35 475.80,199.40 C474.58,197.45 473.45,196.50 472.10,196.50 C470.75,196.50 468.67,197.45 467.70,199.40 C466.73,201.35 466.90,206.62 466.30,208.20 C465.70,209.78 464.83,209.88 464.10,208.90 C463.37,207.92 462.52,204.12 461.90,202.30 C461.28,200.48 461.13,198.97 460.40,198.00 C459.67,197.03 458.40,197.83 457.50,196.50 C456.60,195.17 456.25,193.58 455.00,190.00 C453.75,186.42 452.33,180.00 450.00,175.00 C447.67,170.00 443.00,164.17 441.00,160.00 C439.00,155.83 437.97,152.50 438.00,150.00 C438.03,147.50 439.87,146.65 441.20,145.00Z"/><path d="M428.00,165.00 C429.08,162.67 432.00,159.50 434.00,158.00 C436.00,156.50 438.00,156.00 440.00,156.00 C442.00,156.00 444.00,156.83 446.00,158.00 C448.00,159.17 450.00,160.67 452.00,163.00 C454.00,165.33 456.33,168.83 458.00,172.00 C459.67,175.17 461.17,178.67 462.00,182.00 C462.83,185.33 463.33,189.58 463.00,192.00 C462.67,194.42 461.33,195.83 460.00,196.50 C458.67,197.17 456.90,196.85 455.00,196.00 C453.10,195.15 451.50,191.77 448.60,191.40 C445.70,191.03 440.45,193.80 437.60,193.80 C434.75,193.80 433.23,193.23 431.50,191.40 C429.77,189.57 427.87,186.03 427.20,182.80 C426.53,179.57 427.37,174.97 427.50,172.00 C427.63,169.03 426.92,167.33 428.00,165.00Z"/></clipPath><g filter="url(#rough)"><path d="M441.20,145.00 C442.53,143.35 443.18,141.32 446.00,140.10 C448.82,138.88 455.28,139.03 458.10,137.70 C460.92,136.37 461.97,134.23 462.90,132.10 C463.83,129.97 462.77,125.97 463.70,124.90 C464.63,123.83 466.62,125.83 468.50,125.70 C470.38,125.57 472.58,124.10 475.00,124.10 C477.42,124.10 480.60,125.17 483.00,125.70 C485.40,126.23 488.07,128.10 489.40,127.30 C490.73,126.50 489.93,122.77 491.00,120.90 C492.07,119.03 494.18,116.77 495.80,116.10 C497.42,115.43 499.08,116.10 500.70,116.90 C502.32,117.70 503.37,119.70 505.50,120.90 C507.63,122.10 511.23,122.77 513.50,124.10 C515.77,125.43 517.50,128.10 519.10,128.90 C520.70,129.70 522.28,127.55 523.10,128.90 C523.92,130.25 523.18,134.58 524.00,137.00 C524.82,139.42 526.93,141.00 528.00,143.40 C529.07,145.80 530.00,147.93 530.40,151.40 C530.80,154.87 530.63,161.07 530.40,164.20 C530.17,167.33 529.95,167.98 529.00,170.20 C528.05,172.42 525.05,174.82 524.70,177.50 C524.35,180.18 526.42,183.87 526.90,186.30 C527.38,188.73 528.22,190.15 527.60,192.10 C526.98,194.05 525.15,196.30 523.20,198.00 C521.25,199.70 518.33,201.45 515.90,202.30 C513.47,203.15 510.78,203.82 508.60,203.10 C506.42,202.38 504.25,199.58 502.80,198.00 C501.35,196.42 501.12,193.85 499.90,193.60 C498.68,193.35 496.23,194.55 495.50,196.50 C494.77,198.45 496.23,203.12 495.50,205.30 C494.77,207.48 492.80,208.52 491.10,209.60 C489.40,210.68 487.25,212.03 485.30,211.80 C483.35,211.57 480.98,210.27 479.40,208.20 C477.82,206.13 477.02,201.35 475.80,199.40 C474.58,197.45 473.45,196.50 472.10,196.50 C470.75,196.50 468.67,197.45 467.70,199.40 C466.73,201.35 466.90,206.62 466.30,208.20 C465.70,209.78 464.83,209.88 464.10,208.90 C463.37,207.92 462.52,204.12 461.90,202.30 C461.28,200.48 461.13,198.97 460.40,198.00 C459.67,197.03 458.40,197.83 457.50,196.50 C456.60,195.17 456.25,193.58 455.00,190.00 C453.75,186.42 452.33,180.00 450.00,175.00 C447.67,170.00 443.00,164.17 441.00,160.00 C439.00,155.83 437.97,152.50 438.00,150.00 C438.03,147.50 439.87,146.65 441.20,145.00Z" fill="#FF68A1"/><g clip-path="url(#pinkclip)"><path d="M430.00,112.00 C440.50,94.67 481.83,107.33 493.00,112.00 C504.17,116.67 495.50,132.00 497.00,140.00 C498.50,148.00 501.50,151.67 502.00,160.00 C502.50,168.33 502.00,184.33 500.00,190.00 C498.00,195.67 494.00,193.00 490.00,194.00 C486.00,195.00 479.33,192.33 476.00,196.00 C472.67,199.67 477.67,212.67 470.00,216.00 C462.33,219.33 436.67,233.33 430.00,216.00 C423.33,198.67 419.50,129.33 430.00,112.00Z" fill="#FF61CC" filter="url(#bl2)"/></g><path d="M368.50,110.10 C369.63,109.63 372.97,108.95 374.00,110.10 C375.03,111.25 373.78,115.17 374.70,117.00 C375.62,118.83 377.08,120.63 379.50,121.10 C381.92,121.57 386.67,119.10 389.20,119.80 C391.73,120.50 392.42,123.47 394.70,125.30 C396.98,127.13 400.15,128.73 402.90,130.80 C405.65,132.87 410.28,135.63 411.20,137.70 C412.12,139.77 409.08,141.15 408.40,143.20 C407.72,145.25 407.55,147.72 407.10,150.00 C406.65,152.28 405.48,155.07 405.70,156.90 C405.92,158.73 408.17,159.62 408.40,161.00 C408.63,162.38 408.23,164.27 407.10,165.20 C405.97,166.13 403.22,165.00 401.60,166.60 C399.98,168.20 398.55,172.52 397.40,174.80 C396.25,177.08 396.07,180.07 394.70,180.30 C393.33,180.53 391.50,176.65 389.20,176.20 C386.90,175.75 383.20,176.68 380.90,177.60 C378.60,178.52 377.47,181.48 375.40,181.70 C373.33,181.92 370.10,180.50 368.50,178.90 C366.90,177.30 366.48,174.62 365.80,172.10 C365.12,169.58 365.32,165.65 364.40,163.80 C363.48,161.95 362.60,161.92 360.30,161.00 C358.00,160.08 352.67,159.67 350.60,158.30 C348.53,156.93 348.58,155.32 347.90,152.80 C347.22,150.28 346.73,146.42 346.50,143.20 C346.27,139.98 346.03,136.03 346.50,133.50 C346.97,130.97 347.92,129.60 349.30,128.00 C350.68,126.40 352.75,125.05 354.80,123.90 C356.85,122.75 359.65,122.02 361.60,121.10 C363.55,120.18 365.57,119.77 366.50,118.40 C367.43,117.03 366.87,114.28 367.20,112.90 C367.53,111.52 367.37,110.57 368.50,110.10Z" fill="#CD9600"/><path d="M428.00,165.00 C429.08,162.67 432.00,159.50 434.00,158.00 C436.00,156.50 438.00,156.00 440.00,156.00 C442.00,156.00 444.00,156.83 446.00,158.00 C448.00,159.17 450.00,160.67 452.00,163.00 C454.00,165.33 456.33,168.83 458.00,172.00 C459.67,175.17 461.17,178.67 462.00,182.00 C462.83,185.33 463.33,189.58 463.00,192.00 C462.67,194.42 461.33,195.83 460.00,196.50 C458.67,197.17 456.90,196.85 455.00,196.00 C453.10,195.15 451.50,191.77 448.60,191.40 C445.70,191.03 440.45,193.80 437.60,193.80 C434.75,193.80 433.23,193.23 431.50,191.40 C429.77,189.57 427.87,186.03 427.20,182.80 C426.53,179.57 427.37,174.97 427.50,172.00 C427.63,169.03 426.92,167.33 428.00,165.00Z" fill="#00BE67"/><path d="M440.60,185.00 C440.93,184.05 442.93,183.72 444.00,183.80 C445.07,183.88 446.67,184.63 447.00,185.50 C447.33,186.37 446.83,188.33 446.00,189.00 C445.17,189.67 442.90,190.17 442.00,189.50 C441.10,188.83 440.27,185.95 440.60,185.00Z" fill="#ABA300"/><path d="M509.40,55.20 C510.97,53.93 514.07,52.08 516.40,51.10 C518.73,50.12 521.45,49.20 523.40,49.30 C525.35,49.40 526.93,50.33 528.10,51.70 C529.27,53.07 529.05,55.55 530.40,57.50 C531.75,59.45 534.25,61.65 536.20,63.40 C538.15,65.15 541.90,66.25 542.10,68.00 C542.30,69.75 538.38,71.75 537.40,73.90 C536.42,76.05 537.37,79.35 536.20,80.90 C535.03,82.45 532.53,82.23 530.40,83.20 C528.27,84.17 524.77,85.53 523.40,86.70 C522.03,87.87 523.37,89.42 522.20,90.20 C521.03,90.98 518.15,91.60 516.40,91.40 C514.65,91.20 512.87,90.37 511.70,89.00 C510.53,87.63 510.77,84.55 509.40,83.20 C508.03,81.85 505.45,81.48 503.50,80.90 C501.55,80.32 498.28,80.87 497.70,79.70 C497.12,78.53 498.83,75.45 500.00,73.90 C501.17,72.35 503.33,72.15 504.70,70.40 C506.07,68.65 507.82,65.35 508.20,63.40 C508.58,61.45 506.80,60.07 507.00,58.70 C507.20,57.33 507.83,56.47 509.40,55.20Z" fill="#8494FF"/><g clip-path="url(#pinkclip2)"><path d="M440,158 L451,167 L457,180 L461,196" stroke="#b0909e" stroke-width="9" fill="none" opacity="0.55" filter="url(#bl2)"/><path d="M446,158 L457,167 L463,180 L467,196" stroke="#e070b8" stroke-width="6" fill="none" opacity="0.5" filter="url(#bl2)"/></g></g><g filter="url(#rough2)"><path d="M336.20,124.00 C336.70,122.83 339.37,122.50 341.00,122.50 C342.63,122.50 345.00,122.92 346.00,124.00 C347.00,125.08 347.50,127.87 347.00,129.00 C346.50,130.13 344.50,130.72 343.00,130.80 C341.50,130.88 339.13,130.63 338.00,129.50 C336.87,128.37 335.70,125.17 336.20,124.00Z" fill="#CD9600"/><path d="M350.60,106.00 C352.67,105.65 356.00,106.40 357.50,108.00 C359.00,109.60 359.60,113.30 359.60,115.60 C359.60,117.90 359.22,120.18 357.50,121.80 C355.78,123.42 352.05,125.42 349.30,125.30 C346.55,125.18 342.62,122.72 341.00,121.10 C339.38,119.48 338.92,117.43 339.60,115.60 C340.28,113.77 343.27,111.70 345.10,110.10 C346.93,108.50 348.53,106.35 350.60,106.00Z" fill="#00BFC4" opacity="0.8"/><path d="M408.20,174.30 C408.82,174.72 408.98,179.57 409.50,181.60 C410.02,183.63 411.52,185.07 411.30,186.50 C411.08,187.93 409.93,189.18 408.20,190.20 C406.47,191.22 402.73,192.00 400.90,192.60 C399.07,193.20 397.40,194.42 397.20,193.80 C397.00,193.18 398.88,190.93 399.70,188.90 C400.52,186.87 401.08,183.23 402.10,181.60 C403.12,179.97 404.78,180.32 405.80,179.10 C406.82,177.88 407.58,173.88 408.20,174.30Z" fill="#E68613"/><path d="M393.00,201.00 C393.92,200.33 396.17,199.92 398.00,200.00 C399.83,200.08 402.25,201.00 404.00,201.50 C405.75,202.00 407.83,201.92 408.50,203.00 C409.17,204.08 408.75,206.67 408.00,208.00 C407.25,209.33 405.50,210.58 404.00,211.00 C402.50,211.42 400.50,211.17 399.00,210.50 C397.50,209.83 396.08,208.08 395.00,207.00 C393.92,205.92 392.83,205.00 392.50,204.00 C392.17,203.00 392.08,201.67 393.00,201.00Z" fill="#ABA300"/><path d="M423.00,197.00 C423.58,195.67 425.67,193.92 427.00,193.00 C428.33,192.08 429.83,191.58 431.00,191.50 C432.17,191.42 433.83,191.58 434.00,192.50 C434.17,193.42 433.00,195.67 432.00,197.00 C431.00,198.33 429.42,199.83 428.00,200.50 C426.58,201.17 424.33,201.58 423.50,201.00 C422.67,200.42 422.42,198.33 423.00,197.00Z" fill="#ABA300"/><path d="M422.00,177.50 C422.33,176.85 424.00,176.50 425.00,176.50 C426.00,176.50 427.67,176.92 428.00,177.50 C428.33,178.08 427.83,179.52 427.00,180.00 C426.17,180.48 423.83,180.82 423.00,180.40 C422.17,179.98 421.67,178.15 422.00,177.50Z" fill="#ABA300"/><path d="M423.50,146.70 C424.67,146.45 426.67,150.77 427.00,152.00 C427.33,153.23 426.67,153.85 425.50,154.10 C424.33,154.35 420.33,154.73 420.00,153.50 C419.67,152.27 422.33,146.95 423.50,146.70Z" fill="#0CB702"/><path d="M418.50,157.10 C419.17,156.77 419.47,159.02 420.00,160.00 C420.53,160.98 421.87,162.00 421.70,163.00 C421.53,164.00 420.28,165.15 419.00,166.00 C417.72,166.85 414.98,168.10 414.00,168.10 C413.02,168.10 412.77,167.02 413.10,166.00 C413.43,164.98 415.10,163.48 416.00,162.00 C416.90,160.52 417.83,157.43 418.50,157.10Z" fill="#C77CFF"/><path d="M430.30,6.10 C431.38,5.23 433.42,4.40 435.10,4.40 C436.78,4.40 438.93,5.23 440.40,6.10 C441.87,6.97 443.02,8.57 443.90,9.60 C444.78,10.63 445.85,11.27 445.70,12.30 C445.55,13.33 444.18,14.93 443.00,15.80 C441.82,16.67 439.92,16.33 438.60,17.50 C437.28,18.67 436.12,22.37 435.10,22.80 C434.08,23.23 433.43,21.57 432.50,20.10 C431.57,18.63 430.15,15.75 429.50,14.00 C428.85,12.25 428.47,10.92 428.60,9.60 C428.73,8.28 429.22,6.97 430.30,6.10Z" fill="#ED68ED"/><path d="M430.80,19.30 C430.07,19.30 428.83,20.13 428.10,21.00 C427.37,21.87 426.53,23.33 426.40,24.50 C426.27,25.67 426.57,26.97 427.30,28.00 C428.03,29.03 429.63,29.97 430.80,30.70 C431.97,31.43 433.43,31.97 434.30,32.40 C435.17,32.83 436.15,33.88 436.00,33.30 C435.85,32.72 434.13,30.22 433.40,28.90 C432.67,27.58 431.75,26.72 431.60,25.40 C431.45,24.08 432.63,22.02 432.50,21.00 C432.37,19.98 431.53,19.30 430.80,19.30Z" fill="#ED68ED"/><path d="M474.00,63.50 C474.83,62.67 478.17,60.95 480.00,60.00 C481.83,59.05 483.50,58.42 485.00,57.80 C486.50,57.18 487.67,56.43 489.00,56.30 C490.33,56.17 492.50,56.45 493.00,57.00 C493.50,57.55 493.17,58.85 492.00,59.60 C490.83,60.35 488.00,60.88 486.00,61.50 C484.00,62.12 481.83,62.72 480.00,63.30 C478.17,63.88 476.00,64.97 475.00,65.00 C474.00,65.03 473.17,64.33 474.00,63.50Z" fill="#00A9FF"/><path d="M530.00,96.50 C530.83,95.42 534.00,95.33 536.00,95.50 C538.00,95.67 540.83,96.58 542.00,97.50 C543.17,98.42 543.67,100.00 543.00,101.00 C542.33,102.00 539.50,102.67 538.00,103.50 C536.50,104.33 534.58,104.75 534.00,106.00 C533.42,107.25 535.33,110.00 534.50,111.00 C533.67,112.00 530.08,112.67 529.00,112.00 C527.92,111.33 527.67,108.67 528.00,107.00 C528.33,105.33 530.67,103.75 531.00,102.00 C531.33,100.25 529.17,97.58 530.00,96.50Z" fill="#00C19A"/><path d="M545.40,108.50 C546.07,107.33 547.90,106.75 549.00,107.00 C550.10,107.25 550.50,109.33 552.00,110.00 C553.50,110.67 556.77,110.33 558.00,111.00 C559.23,111.67 559.73,112.93 559.40,114.00 C559.07,115.07 557.73,116.90 556.00,117.40 C554.27,117.90 550.83,117.57 549.00,117.00 C547.17,116.43 545.60,115.42 545.00,114.00 C544.40,112.58 544.73,109.67 545.40,108.50Z" fill="#7CAE00"/></g><circle cx="436.6" cy="108.9" r="0.5" fill="#FF61CC" opacity="0.75"/><circle cx="457.4" cy="112.3" r="0.5" fill="#FF61CC" opacity="0.75"/><circle cx="423.8" cy="121.2" r="0.5" fill="#FF61CC" opacity="0.75"/><circle cx="436.4" cy="127.8" r="0.5" fill="#FF61CC" opacity="0.75"/><circle cx="470.7" cy="106.0" r="0.5" fill="#FF61CC" opacity="0.75"/><circle cx="452.8" cy="117.1" r="0.5" fill="#FF61CC" opacity="0.75"/><circle cx="463.7" cy="124.7" r="0.5" fill="#FF61CC" opacity="0.75"/><circle cx="473.1" cy="90.1" r="0.5" fill="#FF61CC" opacity="0.75"/><circle cx="435.4" cy="126.6" r="0.5" fill="#FF61CC" opacity="0.75"/><circle cx="458.7" cy="98.6" r="0.5" fill="#FF61CC" opacity="0.75"/><circle cx="445.0" cy="100.7" r="0.5" fill="#FF61CC" opacity="0.75"/><circle cx="456.3" cy="124.0" r="0.5" fill="#FF61CC" opacity="0.75"/><circle cx="475.9" cy="122.0" r="0.5" fill="#FF61CC" opacity="0.75"/><circle cx="478.0" cy="124.0" r="0.5" fill="#FF61CC" opacity="0.75"/><circle cx="455.7" cy="98.0" r="0.5" fill="#FF61CC" opacity="0.75"/><circle cx="471.7" cy="127.6" r="0.5" fill="#FF61CC" opacity="0.75"/><circle cx="468.6" cy="103.2" r="0.5" fill="#FF61CC" opacity="0.75"/><circle cx="425.5" cy="111.8" r="0.5" fill="#FF61CC" opacity="0.75"/><circle cx="424.8" cy="94.3" r="0.5" fill="#FF61CC" opacity="0.75"/><circle cx="457.8" cy="92.6" r="0.5" fill="#FF61CC" opacity="0.75"/><circle cx="474.1" cy="101.9" r="0.5" fill="#FF61CC" opacity="0.75"/><circle cx="452.6" cy="113.0" r="0.5" fill="#FF61CC" opacity="0.75"/><circle cx="452.7" cy="109.0" r="0.5" fill="#FF61CC" opacity="0.75"/><circle cx="446.7" cy="110.4" r="0.5" fill="#FF61CC" opacity="0.75"/><circle cx="458.1" cy="112.6" r="0.5" fill="#FF61CC" opacity="0.75"/><circle cx="458.8" cy="105.6" r="0.5" fill="#FF61CC" opacity="0.75"/><circle cx="477.9" cy="96.5" r="0.5" fill="#FF61CC" opacity="0.75"/><circle cx="456.8" cy="99.4" r="0.5" fill="#FF61CC" opacity="0.75"/><circle cx="436.6" cy="93.9" r="0.5" fill="#FF61CC" opacity="0.75"/><circle cx="462.8" cy="90.3" r="0.5" fill="#FF61CC" opacity="0.75"/><circle cx="442.0" cy="121.0" r="0.5" fill="#FF61CC" opacity="0.75"/><circle cx="471.8" cy="93.1" r="0.5" fill="#FF61CC" opacity="0.75"/><circle cx="460.1" cy="123.2" r="0.5" fill="#FF61CC" opacity="0.75"/><circle cx="459.6" cy="119.9" r="0.5" fill="#FF61CC" opacity="0.75"/><circle cx="438.5" cy="100.5" r="0.5" fill="#FF61CC" opacity="0.75"/><circle cx="473.2" cy="127.5" r="0.5" fill="#FF61CC" opacity="0.75"/><circle cx="477.2" cy="124.9" r="0.5" fill="#FF61CC" opacity="0.75"/><circle cx="465.5" cy="121.1" r="0.5" fill="#FF61CC" opacity="0.75"/><circle cx="452.6" cy="98.1" r="0.5" fill="#FF61CC" opacity="0.75"/><circle cx="439.4" cy="120.0" r="0.5" fill="#FF61CC" opacity="0.75"/><circle cx="474.1" cy="123.8" r="0.5" fill="#FF61CC" opacity="0.75"/><circle cx="423.7" cy="117.3" r="0.5" fill="#FF61CC" opacity="0.75"/><circle cx="440.1" cy="113.8" r="0.5" fill="#FF61CC" opacity="0.75"/><circle cx="446.6" cy="125.4" r="0.5" fill="#FF61CC" opacity="0.75"/><circle cx="450.2" cy="118.9" r="0.5" fill="#FF61CC" opacity="0.75"/><circle cx="468.9" cy="120.6" r="0.5" fill="#FF61CC" opacity="0.75"/><circle cx="458.8" cy="122.2" r="0.5" fill="#FF61CC" opacity="0.75"/><circle cx="438.5" cy="97.3" r="0.5" fill="#FF61CC" opacity="0.75"/><circle cx="423.1" cy="88.3" r="0.5" fill="#FF61CC" opacity="0.75"/><circle cx="471.7" cy="89.6" r="0.5" fill="#FF61CC" opacity="0.75"/><circle cx="441.0" cy="99.2" r="0.5" fill="#FF61CC" opacity="0.75"/><circle cx="459.9" cy="110.6" r="0.5" fill="#FF61CC" opacity="0.75"/><circle cx="433.9" cy="99.8" r="0.5" fill="#FF61CC" opacity="0.75"/><circle cx="454.7" cy="116.1" r="0.5" fill="#FF61CC" opacity="0.75"/><circle cx="427.6" cy="93.5" r="0.5" fill="#FF61CC" opacity="0.75"/><circle cx="457.5" cy="118.9" r="0.5" fill="#FF61CC" opacity="0.75"/><circle cx="468.7" cy="112.2" r="0.5" fill="#FF61CC" opacity="0.75"/><circle cx="447.0" cy="115.2" r="0.5" fill="#FF61CC" opacity="0.75"/><circle cx="427.1" cy="103.8" r="0.5" fill="#FF61CC" opacity="0.75"/><circle cx="473.1" cy="125.3" r="0.5" fill="#FF61CC" opacity="0.75"/><circle cx="474.2" cy="119.2" r="0.5" fill="#FF61CC" opacity="0.75"/><circle cx="460.8" cy="123.3" r="0.5" fill="#FF61CC" opacity="0.75"/><circle cx="461.1" cy="116.8" r="0.5" fill="#FF61CC" opacity="0.75"/><circle cx="428.9" cy="110.7" r="0.5" fill="#FF61CC" opacity="0.75"/><circle cx="431.2" cy="118.5" r="0.5" fill="#FF61CC" opacity="0.75"/><circle cx="470.7" cy="126.0" r="0.5" fill="#FF61CC" opacity="0.75"/><circle cx="452.1" cy="116.0" r="0.5" fill="#FF61CC" opacity="0.75"/><circle cx="465.7" cy="125.3" r="0.5" fill="#FF61CC" opacity="0.75"/><circle cx="431.1" cy="110.6" r="0.5" fill="#FF61CC" opacity="0.75"/><circle cx="440.4" cy="111.4" r="0.5" fill="#FF61CC" opacity="0.75"/><circle cx="443.8" cy="108.5" r="0.5" fill="#FF61CC" opacity="0.75"/><circle cx="434.9" cy="111.2" r="0.5" fill="#FF61CC" opacity="0.75"/><circle cx="433.8" cy="109.3" r="0.5" fill="#FF61CC" opacity="0.75"/><circle cx="437.5" cy="110.4" r="0.5" fill="#FF61CC" opacity="0.75"/><circle cx="449.3" cy="107.2" r="0.5" fill="#FF61CC" opacity="0.75"/><circle cx="429.0" cy="111.7" r="0.5" fill="#FF61CC" opacity="0.75"/><circle cx="442.3" cy="110.1" r="0.5" fill="#FF61CC" opacity="0.75"/><circle cx="437.9" cy="107.0" r="0.5" fill="#FF61CC" opacity="0.75"/><circle cx="437.1" cy="107.3" r="0.5" fill="#FF61CC" opacity="0.75"/><circle cx="428.7" cy="106.7" r="0.5" fill="#FF61CC" opacity="0.75"/><circle cx="427.4" cy="109.9" r="0.5" fill="#FF61CC" opacity="0.75"/><circle cx="437.9" cy="105.5" r="0.5" fill="#FF61CC" opacity="0.75"/><circle cx="436.1" cy="109.8" r="0.5" fill="#FF61CC" opacity="0.75"/><circle cx="431.7" cy="108.7" r="0.5" fill="#FF61CC" opacity="0.75"/><circle cx="430.0" cy="108.5" r="0.5" fill="#FF61CC" opacity="0.75"/><circle cx="430.8" cy="109.1" r="0.5" fill="#FF61CC" opacity="0.75"/><circle cx="442.3" cy="111.6" r="0.5" fill="#FF61CC" opacity="0.75"/><circle cx="442.6" cy="109.5" r="0.5" fill="#FF61CC" opacity="0.75"/><circle cx="435.3" cy="111.6" r="0.5" fill="#FF61CC" opacity="0.75"/><circle cx="431.7" cy="107.9" r="0.5" fill="#FF61CC" opacity="0.75"/><circle cx="430.4" cy="112.3" r="0.5" fill="#FF61CC" opacity="0.75"/><circle cx="434.6" cy="110.3" r="0.5" fill="#FF61CC" opacity="0.75"/><circle cx="429.3" cy="108.9" r="0.5" fill="#FF61CC" opacity="0.75"/><circle cx="471.0" cy="46.6" r="0.5" fill="#FF61CC" opacity="0.75"/><circle cx="479.6" cy="62.1" r="0.5" fill="#FF61CC" opacity="0.75"/><circle cx="464.0" cy="61.5" r="0.5" fill="#FF61CC" opacity="0.75"/><circle cx="473.4" cy="77.8" r="0.5" fill="#FF61CC" opacity="0.75"/><circle cx="462.3" cy="62.1" r="0.5" fill="#FF61CC" opacity="0.75"/><circle cx="468.8" cy="79.4" r="0.5" fill="#FF61CC" opacity="0.75"/><circle cx="456.0" cy="73.7" r="0.5" fill="#FF61CC" opacity="0.75"/><circle cx="478.4" cy="61.5" r="0.5" fill="#FF61CC" opacity="0.75"/><circle cx="449.2" cy="50.8" r="0.5" fill="#FF61CC" opacity="0.75"/><circle cx="468.7" cy="71.1" r="0.5" fill="#FF61CC" opacity="0.75"/><circle cx="478.3" cy="79.3" r="0.5" fill="#FF61CC" opacity="0.75"/><circle cx="449.7" cy="48.7" r="0.5" fill="#FF61CC" opacity="0.75"/><circle cx="433.6" cy="95.5" r="0.7" fill="#00C19A"/><circle cx="434.5" cy="95.8" r="0.7" fill="#00C19A"/><circle cx="463.0" cy="116.5" r="0.7" fill="#00C19A"/><circle cx="464.0" cy="117.2" r="0.7" fill="#00C19A"/><circle cx="465.0" cy="117.8" r="0.7" fill="#00C19A"/><circle cx="466.0" cy="118.2" r="0.7" fill="#00C19A"/><circle cx="464.5" cy="116.8" r="0.7" fill="#00C19A"/><circle cx="473.6" cy="62.5" r="0.45" fill="#00A9FF" opacity="0.8"/><circle cx="468.0" cy="69.9" r="0.45" fill="#00A9FF" opacity="0.8"/><circle cx="458.5" cy="70.1" r="0.45" fill="#00A9FF" opacity="0.8"/><circle cx="474.3" cy="65.2" r="0.45" fill="#00A9FF" opacity="0.8"/><circle cx="467.5" cy="69.4" r="0.45" fill="#00A9FF" opacity="0.8"/><circle cx="472.9" cy="65.5" r="0.45" fill="#00A9FF" opacity="0.8"/><circle cx="455.8" cy="68.9" r="0.45" fill="#00A9FF" opacity="0.8"/><circle cx="465.8" cy="68.8" r="0.45" fill="#00A9FF" opacity="0.8"/><circle cx="469.8" cy="69.9" r="0.45" fill="#00A9FF" opacity="0.8"/><circle cx="471.5" cy="68.6" r="0.45" fill="#00A9FF" opacity="0.8"/><circle cx="476.7" cy="63.4" r="0.45" fill="#00A9FF" opacity="0.8"/><circle cx="464.9" cy="69.4" r="0.45" fill="#00A9FF" opacity="0.8"/><circle cx="476.8" cy="65.4" r="0.45" fill="#00A9FF" opacity="0.8"/><circle cx="473.0" cy="64.1" r="0.45" fill="#00A9FF" opacity="0.8"/><circle cx="458.7" cy="70.2" r="0.45" fill="#00A9FF" opacity="0.8"/><circle cx="459.1" cy="68.7" r="0.45" fill="#00A9FF" opacity="0.8"/><circle cx="472.5" cy="64.5" r="0.45" fill="#00A9FF" opacity="0.8"/><circle cx="476.4" cy="63.4" r="0.45" fill="#00A9FF" opacity="0.8"/><circle cx="467.9" cy="67.9" r="0.45" fill="#00A9FF" opacity="0.8"/><circle cx="471.0" cy="66.4" r="0.45" fill="#00A9FF" opacity="0.8"/><circle cx="479.4" cy="64.6" r="0.45" fill="#00A9FF" opacity="0.8"/><circle cx="454.4" cy="72.0" r="0.45" fill="#00A9FF" opacity="0.8"/><circle cx="465.9" cy="66.9" r="0.45" fill="#00A9FF" opacity="0.8"/><circle cx="462.6" cy="67.8" r="0.45" fill="#00A9FF" opacity="0.8"/><circle cx="474.7" cy="65.8" r="0.45" fill="#00A9FF" opacity="0.8"/><circle cx="456.5" cy="73.0" r="0.45" fill="#00A9FF" opacity="0.8"/><circle cx="471.7" cy="66.1" r="0.45" fill="#00A9FF" opacity="0.8"/><circle cx="460.3" cy="68.9" r="0.45" fill="#00A9FF" opacity="0.8"/><circle cx="461.5" cy="66.3" r="0.45" fill="#00A9FF" opacity="0.8"/><circle cx="453.2" cy="74.1" r="0.45" fill="#00A9FF" opacity="0.8"/><circle cx="454.2" cy="70.0" r="0.45" fill="#00A9FF" opacity="0.8"/><circle cx="466.4" cy="68.2" r="0.45" fill="#00A9FF" opacity="0.8"/><circle cx="459.0" cy="71.4" r="0.45" fill="#00A9FF" opacity="0.8"/><circle cx="460.5" cy="68.5" r="0.45" fill="#00A9FF" opacity="0.8"/><circle cx="460.7" cy="70.9" r="0.45" fill="#00A9FF" opacity="0.8"/><circle cx="470.8" cy="66.1" r="0.45" fill="#00A9FF" opacity="0.8"/><circle cx="474.8" cy="66.4" r="0.45" fill="#00A9FF" opacity="0.8"/><circle cx="456.3" cy="70.1" r="0.45" fill="#00A9FF" opacity="0.8"/><circle cx="474.2" cy="64.8" r="0.45" fill="#00A9FF" opacity="0.8"/><circle cx="463.0" cy="69.7" r="0.45" fill="#00A9FF" opacity="0.8"/><circle cx="460.4" cy="67.6" r="0.45" fill="#00A9FF" opacity="0.8"/><circle cx="463.0" cy="69.3" r="0.45" fill="#00A9FF" opacity="0.8"/><circle cx="458.7" cy="72.4" r="0.45" fill="#00A9FF" opacity="0.8"/><circle cx="472.0" cy="65.3" r="0.45" fill="#00A9FF" opacity="0.8"/><circle cx="463.2" cy="69.1" r="0.45" fill="#00A9FF" opacity="0.8"/><ellipse cx="549" cy="129.3" rx="1.6" ry="0.9" fill="#FF68A1"/><circle cx="513.5" cy="44.3" r="1.1" fill="#C77CFF"/><circle cx="508.5" cy="98.5" r="0.6" fill="#F8766D"/><circle cx="509.5" cy="97.5" r="0.6" fill="#F8766D"/><circle cx="510.5" cy="99.0" r="0.6" fill="#F8766D"/><circle cx="507.5" cy="100.0" r="0.6" fill="#F8766D"/><circle cx="511.0" cy="96.5" r="0.6" fill="#F8766D"/><circle cx="520.0" cy="84.0" r="0.6" fill="#F8766D"/><circle cx="512.0" cy="92.0" r="0.6" fill="#F8766D"/></g>
<text x="375.40" y="147.50" font-size="4.80" text-anchor="middle" font-weight="normal" fill="#000" stroke="#000" stroke-width="0.18">CD4/CD8</text>
<text x="350.60" y="118.70" font-size="4.80" text-anchor="middle" font-weight="normal" fill="#000" stroke="#000" stroke-width="0.18">NK</text>
<text x="478.70" y="163.60" font-size="4.80" text-anchor="middle" font-weight="normal" fill="#000" stroke="#000" stroke-width="0.18">TAM-BDM</text>
<text x="506.70" y="163.60" font-size="4.80" text-anchor="middle" font-weight="normal" fill="#000" stroke="#000" stroke-width="0.18">TAM-MG</text>
<text x="447.00" y="179.50" font-size="4.80" text-anchor="middle" font-weight="normal" fill="#000" stroke="#000" stroke-width="0.18">Mono</text>
<text x="441.90" y="188.80" font-size="4.80" text-anchor="middle" font-weight="normal" fill="#000" stroke="#000" stroke-width="0.18">DC</text>
<text x="405.00" y="188.00" font-size="4.80" text-anchor="middle" font-weight="normal" fill="#000" stroke="#000" stroke-width="0.18">B cell</text>
<text x="419.30" y="164.60" font-size="4.80" text-anchor="middle" font-weight="normal" fill="#000" stroke="#000" stroke-width="0.18">Plasma B</text>
<text x="423.50" y="153.30" font-size="4.80" text-anchor="middle" font-weight="normal" fill="#000" stroke="#000" stroke-width="0.18">Mast</text>
<text x="435.10" y="14.80" font-size="4.80" text-anchor="middle" font-weight="normal" fill="#000" stroke="#000" stroke-width="0.18">RG</text>
<text x="487.80" y="61.00" font-size="4.80" text-anchor="middle" font-weight="normal" fill="#000" stroke="#000" stroke-width="0.18">OPC</text>
<text x="519.30" y="71.50" font-size="4.80" text-anchor="middle" font-weight="normal" fill="#000" stroke="#000" stroke-width="0.18">Oligodendrocyte</text>
<text x="514.00" y="102.60" font-size="4.80" text-anchor="middle" font-weight="normal" fill="#000" stroke="#000" stroke-width="0.18">Astrocyte</text>
<text x="535.20" y="105.00" font-size="4.80" text-anchor="middle" font-weight="normal" fill="#000" stroke="#000" stroke-width="0.18">Mural cell</text>
<text x="549.20" y="116.30" font-size="4.80" text-anchor="middle" font-weight="normal" fill="#000" stroke="#000" stroke-width="0.18">Endothelial</text>
<text x="489.30" y="112.70" font-size="4.80" text-anchor="middle" font-weight="normal" fill="#000" stroke="#000" stroke-width="0.18">Neuron</text>
<circle cx="592.6" cy="41.00" r="3.2" fill="#F8766D"/>
<text transform="translate(604.80,44.20) scale(1.140,1)" font-size="8.90" text-anchor="start" font-weight="normal" fill="#222" >Astrocyte</text>
<circle cx="592.6" cy="52.53" r="3.2" fill="#E68613"/>
<text transform="translate(604.80,55.73) scale(1.140,1)" font-size="8.90" text-anchor="start" font-weight="normal" fill="#222" >B cell</text>
<circle cx="592.6" cy="64.06" r="3.2" fill="#CD9600"/>
<text transform="translate(604.80,67.26) scale(1.140,1)" font-size="8.90" text-anchor="start" font-weight="normal" fill="#222" >CD4/CD8</text>
<circle cx="592.6" cy="75.59" r="3.2" fill="#ABA300"/>
<text transform="translate(604.80,78.79) scale(1.140,1)" font-size="8.90" text-anchor="start" font-weight="normal" fill="#222" >DC</text>
<circle cx="592.6" cy="87.12" r="3.2" fill="#7CAE00"/>
<text transform="translate(604.80,90.32) scale(1.140,1)" font-size="8.90" text-anchor="start" font-weight="normal" fill="#222" >Endothelial</text>
<circle cx="592.6" cy="98.65" r="3.2" fill="#0CB702"/>
<text transform="translate(604.80,101.85) scale(1.140,1)" font-size="8.90" text-anchor="start" font-weight="normal" fill="#222" >Mast</text>
<circle cx="592.6" cy="110.18" r="3.2" fill="#00BE67"/>
<text transform="translate(604.80,113.38) scale(1.140,1)" font-size="8.90" text-anchor="start" font-weight="normal" fill="#222" >Mono</text>
<circle cx="592.6" cy="121.71" r="3.2" fill="#00C19A"/>
<text transform="translate(604.80,124.91) scale(1.140,1)" font-size="8.90" text-anchor="start" font-weight="normal" fill="#222" >Mural cell</text>
<circle cx="592.6" cy="133.24" r="3.2" fill="#00BFC4"/>
<text transform="translate(604.80,136.44) scale(1.140,1)" font-size="8.90" text-anchor="start" font-weight="normal" fill="#222" >NK</text>
<circle cx="592.6" cy="144.77" r="3.2" fill="#00B8E7"/>
<text transform="translate(604.80,147.97) scale(1.140,1)" font-size="8.90" text-anchor="start" font-weight="normal" fill="#222" >Neuron</text>
<circle cx="592.6" cy="156.30" r="3.2" fill="#00A9FF"/>
<text transform="translate(604.80,159.50) scale(1.140,1)" font-size="8.90" text-anchor="start" font-weight="normal" fill="#222" >OPC</text>
<circle cx="592.6" cy="167.83" r="3.2" fill="#8494FF"/>
<text transform="translate(604.80,171.03) scale(1.140,1)" font-size="8.90" text-anchor="start" font-weight="normal" fill="#222" >Oligodendrocyte</text>
<circle cx="592.6" cy="179.36" r="3.2" fill="#C77CFF"/>
<text transform="translate(604.80,182.56) scale(1.140,1)" font-size="8.90" text-anchor="start" font-weight="normal" fill="#222" >Plasma B</text>
<circle cx="592.6" cy="190.89" r="3.2" fill="#ED68ED"/>
<text transform="translate(604.80,194.09) scale(1.140,1)" font-size="8.90" text-anchor="start" font-weight="normal" fill="#222" >RG</text>
<circle cx="592.6" cy="202.42" r="3.2" fill="#FF61CC"/>
<text transform="translate(604.80,205.62) scale(1.140,1)" font-size="8.90" text-anchor="start" font-weight="normal" fill="#222" >TAM-BDM</text>
<circle cx="592.6" cy="213.95" r="3.2" fill="#FF68A1"/>
<text transform="translate(604.80,217.15) scale(1.140,1)" font-size="8.90" text-anchor="start" font-weight="normal" fill="#222" >TAM-MG</text>
<text x="5.50" y="273.40" font-size="12.00" text-anchor="start" font-weight="bold" fill="#000" >C</text>
<line x1="35.30" y1="295.00" x2="35.30" y2="415.00" stroke="#444" stroke-width="0.8"/>
<line x1="34.90" y1="414.60" x2="155.10" y2="414.60" stroke="#444" stroke-width="0.8"/>
<line x1="33.30" y1="301.46" x2="35.30" y2="301.46" stroke="#444" stroke-width="0.8"/>
<text x="32.90" y="303.96" font-size="7.00" text-anchor="end" font-weight="normal" fill="#222" >20</text>
<line x1="33.30" y1="338.73" x2="35.30" y2="338.73" stroke="#444" stroke-width="0.8"/>
<text x="32.90" y="341.23" font-size="7.00" text-anchor="end" font-weight="normal" fill="#222" >10</text>
<line x1="33.30" y1="376.00" x2="35.30" y2="376.00" stroke="#444" stroke-width="0.8"/>
<text x="32.90" y="378.50" font-size="7.00" text-anchor="end" font-weight="normal" fill="#222" >0</text>
<line x1="33.30" y1="413.27" x2="35.30" y2="413.27" stroke="#444" stroke-width="0.8"/>
<text x="32.90" y="415.77" font-size="7.00" text-anchor="end" font-weight="normal" fill="#222" >-10</text>
<line x1="70.10" y1="414.60" x2="70.10" y2="416.60" stroke="#444" stroke-width="0.8"/>
<text x="70.10" y="422.70" font-size="7.00" text-anchor="middle" font-weight="normal" fill="#222" >0</text>
<line x1="108.35" y1="414.60" x2="108.35" y2="416.60" stroke="#444" stroke-width="0.8"/>
<text x="108.35" y="422.70" font-size="7.00" text-anchor="middle" font-weight="normal" fill="#222" >10</text>
<line x1="146.60" y1="414.60" x2="146.60" y2="416.60" stroke="#444" stroke-width="0.8"/>
<text x="146.60" y="422.70" font-size="7.00" text-anchor="middle" font-weight="normal" fill="#222" >20</text>
<text x="93.70" y="285.30" font-size="10.50" text-anchor="middle" font-weight="normal" fill="#111" >cIAP1/BIRC2</text>
<text x="95.50" y="431.30" font-size="8.40" text-anchor="middle" font-weight="normal" fill="#111" >UMAP 1</text>
<text transform="translate(19.80,355.3) rotate(-90)" font-size="8.6" text-anchor="middle" fill="#111">UMAP 2</text>
<g transform="matrix(0.49687,0,0,0.52409,-126.084,297.901)"><g mask="url(#cclip)"><rect x="320" y="0" width="250" height="220" fill="#49039F"/><g mask="url(#cinner)"><g filter="url(#hb)"><ellipse cx="376.0" cy="146.0" rx="38.0" ry="40.0" fill="#A01C9A"/><circle cx="386.9" cy="161.0" r="5.5" fill="#B8318A"/><circle cx="374.0" cy="127.7" r="4.9" fill="#BA3488"/><circle cx="391.7" cy="155.1" r="6.3" fill="#7303A7"/><circle cx="390.6" cy="140.7" r="5.7" fill="#8E0DA4"/><circle cx="379.2" cy="157.3" r="4.2" fill="#8108A5"/><circle cx="357.7" cy="126.4" r="6.3" fill="#8409A5"/><circle cx="352.3" cy="136.9" r="3.6" fill="#BC3587"/><circle cx="370.4" cy="138.1" r="4.4" fill="#6E02A8"/><circle cx="378.9" cy="125.2" r="5.9" fill="#8208A5"/><circle cx="387.1" cy="139.0" r="5.2" fill="#9B179D"/><circle cx="383.7" cy="140.3" r="6.4" fill="#A52097"/><circle cx="358.6" cy="131.0" r="4.8" fill="#B8328A"/><circle cx="370.9" cy="166.8" r="4.2" fill="#A31E98"/><circle cx="385.8" cy="132.6" r="5.7" fill="#9E1A9B"/><circle cx="385.8" cy="121.7" r="3.9" fill="#AE2892"/><circle cx="390.6" cy="124.1" r="5.7" fill="#B42D8E"/><circle cx="357.4" cy="144.3" r="3.5" fill="#A82295"/><circle cx="364.9" cy="122.8" r="5.6" fill="#7F07A6"/><circle cx="373.5" cy="136.6" r="5.1" fill="#7303A7"/><circle cx="378.9" cy="161.3" r="5.3" fill="#AC2593"/><circle cx="375.8" cy="124.9" r="3.0" fill="#900EA3"/><circle cx="384.8" cy="154.1" r="5.5" fill="#A21E99"/><circle cx="380.2" cy="162.9" r="4.4" fill="#C43F7F"/><circle cx="371.2" cy="124.6" r="4.7" fill="#AF2891"/><ellipse cx="482.0" cy="164.0" rx="54.0" ry="52.0" fill="#CC4778"/><circle cx="451.6" cy="155.5" r="5.8" fill="#A52097"/><circle cx="487.7" cy="158.3" r="3.9" fill="#AA2494"/><circle cx="493.7" cy="171.6" r="3.4" fill="#D8576C"/><circle cx="515.6" cy="178.4" r="4.9" fill="#C13C81"/><circle cx="460.1" cy="167.5" r="3.7" fill="#C7427C"/><circle cx="465.4" cy="155.2" r="3.7" fill="#A31E98"/><circle cx="450.9" cy="182.3" r="6.4" fill="#D4526F"/><circle cx="466.3" cy="174.8" r="3.7" fill="#DE5F65"/><circle cx="505.6" cy="163.7" r="3.9" fill="#B32C8E"/><circle cx="469.7" cy="197.2" r="5.0" fill="#F1834C"/><circle cx="482.4" cy="167.6" r="4.0" fill="#9A169E"/><circle cx="463.3" cy="141.5" r="5.9" fill="#E87158"/><circle cx="463.4" cy="187.9" r="5.5" fill="#C6417D"/><circle cx="497.0" cy="196.9" r="5.2" fill="#9210A2"/><circle cx="461.7" cy="190.1" r="6.1" fill="#A31E99"/><circle cx="514.4" cy="164.6" r="4.8" fill="#DD5F66"/><circle cx="492.7" cy="184.0" r="3.7" fill="#C6417D"/><circle cx="500.4" cy="192.3" r="3.9" fill="#D04D74"/><circle cx="460.8" cy="143.5" r="5.0" fill="#A21D99"/><circle cx="471.1" cy="157.9" r="6.0" fill="#B6308B"/><circle cx="466.3" cy="155.8" r="4.6" fill="#C13B82"/><circle cx="472.9" cy="131.4" r="3.2" fill="#9B179D"/><circle cx="477.0" cy="165.8" r="3.4" fill="#A41F98"/><circle cx="507.4" cy="179.2" r="5.0" fill="#9C189C"/><circle cx="495.8" cy="161.1" r="5.0" fill="#E26561"/><circle cx="499.7" cy="195.1" r="4.3" fill="#E06263"/><circle cx="491.3" cy="156.4" r="5.9" fill="#E76F5A"/><circle cx="509.0" cy="187.2" r="6.2" fill="#E3685F"/><circle cx="475.6" cy="194.7" r="4.2" fill="#E3685F"/><circle cx="486.4" cy="164.9" r="4.9" fill="#CD4877"/><circle cx="503.2" cy="184.4" r="4.7" fill="#9613A0"/><circle cx="465.0" cy="162.9" r="6.2" fill="#9513A0"/><circle cx="499.4" cy="141.7" r="4.8" fill="#9310A2"/><circle cx="514.2" cy="156.7" r="3.1" fill="#DC5D67"/><circle cx="465.9" cy="155.7" r="3.0" fill="#F1824C"/><circle cx="488.0" cy="197.6" r="4.1" fill="#9F1B9A"/><circle cx="469.7" cy="196.1" r="6.3" fill="#DC5E67"/><circle cx="486.0" cy="174.1" r="5.7" fill="#BB3587"/><circle cx="455.2" cy="140.0" r="3.3" fill="#DE6065"/><circle cx="475.2" cy="179.1" r="5.3" fill="#B32C8E"/><circle cx="451.2" cy="175.0" r="6.2" fill="#910FA3"/><circle cx="499.1" cy="190.7" r="3.1" fill="#E77059"/><circle cx="446.0" cy="154.5" r="4.7" fill="#900EA3"/><circle cx="461.2" cy="174.2" r="3.6" fill="#A92494"/><circle cx="480.2" cy="180.9" r="6.2" fill="#B62F8C"/><circle cx="500.3" cy="158.2" r="3.9" fill="#9310A2"/><circle cx="491.8" cy="152.0" r="3.3" fill="#DA5A6A"/><circle cx="472.7" cy="176.0" r="4.3" fill="#D6556E"/><circle cx="486.1" cy="138.1" r="3.1" fill="#C23C81"/><circle cx="485.9" cy="157.9" r="6.5" fill="#CC4778"/><circle cx="487.7" cy="143.0" r="3.9" fill="#ED7B51"/><circle cx="457.0" cy="150.5" r="4.0" fill="#DF6165"/><circle cx="464.8" cy="176.4" r="5.6" fill="#EC7A52"/><circle cx="464.2" cy="191.0" r="3.9" fill="#D6556E"/><circle cx="470.2" cy="164.1" r="3.3" fill="#AC2693"/><circle cx="507.9" cy="177.9" r="5.9" fill="#E66E5B"/><circle cx="489.1" cy="198.8" r="5.4" fill="#BA3488"/><circle cx="460.5" cy="149.8" r="6.1" fill="#DC5D67"/><circle cx="473.0" cy="139.5" r="5.6" fill="#E97258"/><circle cx="455.6" cy="189.6" r="3.1" fill="#C23C81"/><circle cx="517.7" cy="156.0" r="5.6" fill="#CF4B75"/><circle cx="478.0" cy="153.2" r="5.2" fill="#E46A5E"/><circle cx="507.5" cy="158.6" r="5.7" fill="#B42D8D"/><circle cx="448.6" cy="152.9" r="5.4" fill="#9512A1"/><circle cx="495.6" cy="155.6" r="4.7" fill="#9B189D"/><circle cx="464.9" cy="140.2" r="4.2" fill="#CE4A75"/><circle cx="472.8" cy="128.9" r="4.4" fill="#CD4877"/><circle cx="497.6" cy="161.0" r="5.9" fill="#D14E72"/><circle cx="490.2" cy="133.5" r="4.6" fill="#DB5C68"/><circle cx="483.5" cy="163.7" r="4.6" fill="#C43E7F"/><circle cx="477.9" cy="144.9" r="4.6" fill="#AA2494"/><circle cx="464.0" cy="144.0" r="4.7" fill="#E97457"/><circle cx="490.4" cy="192.0" r="3.1" fill="#C03A83"/><circle cx="471.8" cy="171.1" r="6.2" fill="#D8576C"/><circle cx="478.0" cy="128.6" r="5.9" fill="#A21E99"/><circle cx="483.6" cy="146.2" r="3.6" fill="#C9447B"/><circle cx="472.0" cy="188.6" r="4.4" fill="#C03A83"/><circle cx="474.5" cy="134.9" r="5.0" fill="#9F1A9B"/><circle cx="483.2" cy="157.6" r="3.1" fill="#E16462"/><circle cx="461.0" cy="173.8" r="3.3" fill="#920FA2"/><ellipse cx="520.0" cy="70.0" rx="25.0" ry="24.0" fill="#BE3884"/><circle cx="515.6" cy="62.4" r="3.6" fill="#C03A83"/><circle cx="507.4" cy="59.2" r="4.3" fill="#CC4778"/><circle cx="530.0" cy="67.4" r="4.5" fill="#B32C8F"/><circle cx="530.8" cy="69.0" r="4.9" fill="#B32C8E"/><circle cx="510.0" cy="58.9" r="5.4" fill="#CA457A"/><ellipse cx="543.0" cy="106.0" rx="16.0" ry="10.0" fill="#880AA5"/><circle cx="536.7" cy="108.4" r="4.7" fill="#99159E"/><circle cx="543.5" cy="101.8" r="4.4" fill="#7604A7"/></g><g filter="url(#hb2)"><circle cx="470.0" cy="124.0" r="6.0" fill="#6A00A8"/><circle cx="490.0" cy="121.0" r="6.0" fill="#7103A7"/><circle cx="455.0" cy="135.0" r="5.0" fill="#7C06A6"/><circle cx="515.0" cy="128.0" r="5.0" fill="#7C06A6"/><circle cx="476.0" cy="146.0" r="5.0" fill="#F6E423"/><circle cx="471.0" cy="150.0" r="7.0" fill="#F79540"/><circle cx="460.0" cy="165.0" r="6.0" fill="#EF7E50"/><circle cx="499.0" cy="155.0" r="6.0" fill="#EB7754"/><circle cx="447.0" cy="178.0" r="6.0" fill="#E46A5D"/><circle cx="505.0" cy="180.0" r="6.0" fill="#E16462"/><circle cx="489.0" cy="202.0" r="5.0" fill="#E16462"/><circle cx="522.0" cy="68.0" r="6.0" fill="#E46A5D"/><circle cx="360.0" cy="140.0" r="5.0" fill="#CC4778"/><circle cx="372.0" cy="152.0" r="5.0" fill="#CC4778"/></g></g></g><rect x="445.5" y="47.2" width="1.2" height="1.0" fill="#2A0693" opacity="0.85"/><rect x="447.0" y="48.8" width="1.2" height="1.0" fill="#2A0693" opacity="0.85"/><rect x="439.1" y="39.8" width="1.2" height="1.0" fill="#2A0693" opacity="0.85"/><rect x="459.3" y="60.1" width="1.2" height="1.0" fill="#2A0693" opacity="0.85"/><rect x="439.4" y="34.8" width="1.2" height="1.0" fill="#2A0693" opacity="0.85"/><rect x="441.0" y="34.9" width="1.2" height="1.0" fill="#2A0693" opacity="0.85"/><rect x="453.7" y="54.3" width="1.2" height="1.0" fill="#2A0693" opacity="0.85"/><rect x="435.9" y="34.4" width="1.2" height="1.0" fill="#2A0693" opacity="0.85"/><rect x="441.3" y="40.5" width="1.2" height="1.0" fill="#2A0693" opacity="0.85"/><rect x="446.3" y="49.9" width="1.2" height="1.0" fill="#2A0693" opacity="0.85"/><rect x="449.4" y="49.2" width="1.2" height="1.0" fill="#2A0693" opacity="0.85"/><rect x="453.4" y="55.5" width="1.2" height="1.0" fill="#2A0693" opacity="0.85"/><rect x="466.8" y="65.8" width="1.2" height="1.0" fill="#2A0693" opacity="0.85"/><rect x="455.4" y="57.6" width="1.2" height="1.0" fill="#2A0693" opacity="0.85"/><rect x="446.4" y="44.3" width="1.2" height="1.0" fill="#2A0693" opacity="0.85"/><rect x="448.1" y="45.6" width="1.2" height="1.0" fill="#2A0693" opacity="0.85"/><rect x="462.9" y="64.6" width="1.2" height="1.0" fill="#2A0693" opacity="0.85"/><rect x="443.3" y="39.8" width="1.2" height="1.0" fill="#2A0693" opacity="0.85"/><rect x="463.0" y="65.7" width="1.2" height="1.0" fill="#2A0693" opacity="0.85"/><rect x="453.8" y="53.0" width="1.2" height="1.0" fill="#2A0693" opacity="0.85"/><rect x="436.5" y="40.1" width="1.2" height="1.0" fill="#2A0693" opacity="0.85"/><rect x="458.1" y="59.0" width="1.2" height="1.0" fill="#2A0693" opacity="0.85"/><rect x="441.3" y="38.2" width="1.2" height="1.0" fill="#2A0693" opacity="0.85"/><rect x="439.5" y="39.1" width="1.2" height="1.0" fill="#2A0693" opacity="0.85"/><rect x="441.2" y="39.3" width="1.2" height="1.0" fill="#2A0693" opacity="0.85"/><rect x="455.2" y="55.6" width="1.2" height="1.0" fill="#2A0693" opacity="0.85"/><rect x="441.5" y="44.8" width="1.2" height="1.0" fill="#2A0693" opacity="0.85"/><rect x="457.5" y="62.6" width="1.2" height="1.0" fill="#2A0693" opacity="0.85"/><rect x="435.7" y="104.0" width="1.2" height="1.0" fill="#2A0693" opacity="0.85"/><rect x="465.9" y="109.3" width="1.2" height="1.0" fill="#2A0693" opacity="0.85"/><rect x="428.0" y="107.3" width="1.2" height="1.0" fill="#2A0693" opacity="0.85"/><rect x="439.1" y="106.5" width="1.2" height="1.0" fill="#2A0693" opacity="0.85"/><rect x="475.1" y="107.0" width="1.2" height="1.0" fill="#2A0693" opacity="0.85"/><rect x="426.1" y="107.3" width="1.2" height="1.0" fill="#2A0693" opacity="0.85"/><rect x="427.3" y="105.2" width="1.2" height="1.0" fill="#2A0693" opacity="0.85"/><rect x="463.1" y="106.7" width="1.2" height="1.0" fill="#2A0693" opacity="0.85"/><rect x="447.0" y="102.9" width="1.2" height="1.0" fill="#2A0693" opacity="0.85"/><rect x="454.9" y="108.2" width="1.2" height="1.0" fill="#2A0693" opacity="0.85"/><rect x="461.2" y="107.9" width="1.2" height="1.0" fill="#2A0693" opacity="0.85"/><rect x="431.8" y="105.6" width="1.2" height="1.0" fill="#2A0693" opacity="0.85"/><rect x="484.6" y="108.4" width="1.2" height="1.0" fill="#2A0693" opacity="0.85"/><rect x="434.3" y="105.3" width="1.2" height="1.0" fill="#2A0693" opacity="0.85"/><rect x="472.8" y="108.5" width="1.2" height="1.0" fill="#2A0693" opacity="0.85"/><rect x="487.5" y="107.6" width="1.2" height="1.0" fill="#2A0693" opacity="0.85"/><rect x="482.8" y="106.5" width="1.2" height="1.0" fill="#2A0693" opacity="0.85"/><rect x="428.3" y="105.2" width="1.2" height="1.0" fill="#2A0693" opacity="0.85"/><rect x="423.7" y="107.2" width="1.2" height="1.0" fill="#2A0693" opacity="0.85"/><rect x="470.3" y="107.2" width="1.2" height="1.0" fill="#2A0693" opacity="0.85"/><rect x="439.0" y="107.5" width="1.2" height="1.0" fill="#2A0693" opacity="0.85"/><rect x="441.5" y="104.7" width="1.2" height="1.0" fill="#2A0693" opacity="0.85"/><rect x="433.3" y="106.3" width="1.2" height="1.0" fill="#2A0693" opacity="0.85"/><rect x="437.0" y="105.9" width="1.2" height="1.0" fill="#2A0693" opacity="0.85"/><rect x="460.2" y="108.5" width="1.2" height="1.0" fill="#2A0693" opacity="0.85"/><rect x="440.6" y="104.8" width="1.2" height="1.0" fill="#2A0693" opacity="0.85"/><rect x="485.2" y="108.0" width="1.2" height="1.0" fill="#2A0693" opacity="0.85"/><rect x="439.8" y="106.8" width="1.2" height="1.0" fill="#2A0693" opacity="0.85"/><rect x="452.2" y="107.9" width="1.2" height="1.0" fill="#2A0693" opacity="0.85"/><rect x="446.8" y="107.1" width="1.2" height="1.0" fill="#2A0693" opacity="0.85"/><rect x="461.1" y="108.2" width="1.2" height="1.0" fill="#2A0693" opacity="0.85"/><rect x="483.4" y="109.0" width="1.2" height="1.0" fill="#2A0693" opacity="0.85"/><rect x="489.6" y="106.7" width="1.2" height="1.0" fill="#2A0693" opacity="0.85"/><rect x="461.9" y="105.2" width="1.2" height="1.0" fill="#2A0693" opacity="0.85"/><rect x="430.8" y="106.6" width="1.2" height="1.0" fill="#2A0693" opacity="0.85"/><rect x="484.7" y="108.0" width="1.2" height="1.0" fill="#2A0693" opacity="0.85"/><rect x="470.1" y="107.8" width="1.2" height="1.0" fill="#2A0693" opacity="0.85"/><rect x="465.5" y="107.3" width="1.2" height="1.0" fill="#2A0693" opacity="0.85"/><rect x="454.8" y="106.8" width="1.2" height="1.0" fill="#2A0693" opacity="0.85"/><rect x="491.0" y="106.7" width="1.2" height="1.0" fill="#2A0693" opacity="0.85"/><rect x="443.4" y="98.4" width="1.2" height="1.0" fill="#2A0693" opacity="0.85"/><rect x="473.2" y="116.8" width="1.2" height="1.0" fill="#2A0693" opacity="0.85"/><rect x="473.2" y="106.6" width="1.2" height="1.0" fill="#2A0693" opacity="0.85"/><rect x="475.7" y="117.6" width="1.2" height="1.0" fill="#2A0693" opacity="0.85"/><rect x="455.8" y="105.6" width="1.2" height="1.0" fill="#2A0693" opacity="0.85"/><rect x="480.5" y="115.3" width="1.2" height="1.0" fill="#2A0693" opacity="0.85"/><rect x="458.8" y="111.1" width="1.2" height="1.0" fill="#2A0693" opacity="0.85"/><rect x="478.9" y="99.8" width="1.2" height="1.0" fill="#2A0693" opacity="0.85"/><rect x="468.1" y="89.9" width="1.2" height="1.0" fill="#2A0693" opacity="0.85"/><rect x="466.2" y="101.7" width="1.2" height="1.0" fill="#2A0693" opacity="0.85"/><rect x="443.6" y="103.2" width="1.2" height="1.0" fill="#2A0693" opacity="0.85"/><rect x="484.7" y="115.7" width="1.2" height="1.0" fill="#2A0693" opacity="0.85"/><rect x="472.8" y="90.2" width="1.2" height="1.0" fill="#2A0693" opacity="0.85"/><rect x="473.1" y="100.2" width="1.2" height="1.0" fill="#2A0693" opacity="0.85"/><rect x="459.8" y="113.6" width="1.2" height="1.0" fill="#2A0693" opacity="0.85"/><rect x="443.8" y="109.0" width="1.2" height="1.0" fill="#2A0693" opacity="0.85"/><rect x="441.3" y="101.3" width="1.2" height="1.0" fill="#2A0693" opacity="0.85"/><rect x="461.6" y="82.0" width="1.2" height="1.0" fill="#2A0693" opacity="0.85"/><rect x="471.4" y="95.9" width="1.2" height="1.0" fill="#2A0693" opacity="0.85"/><rect x="467.7" y="117.9" width="1.2" height="1.0" fill="#2A0693" opacity="0.85"/><rect x="451.5" y="70.6" width="1.2" height="1.0" fill="#2A0693" opacity="0.85"/><rect x="453.5" y="105.3" width="1.2" height="1.0" fill="#2A0693" opacity="0.85"/><rect x="449.1" y="78.8" width="1.2" height="1.0" fill="#2A0693" opacity="0.85"/><rect x="480.8" y="104.3" width="1.2" height="1.0" fill="#2A0693" opacity="0.85"/><rect x="459.9" y="116.4" width="1.2" height="1.0" fill="#2A0693" opacity="0.85"/><rect x="454.7" y="104.6" width="1.2" height="1.0" fill="#2A0693" opacity="0.85"/><rect x="448.9" y="92.4" width="1.2" height="1.0" fill="#2A0693" opacity="0.85"/><rect x="476.3" y="117.5" width="1.2" height="1.0" fill="#2A0693" opacity="0.85"/><rect x="479.6" y="90.0" width="1.2" height="1.0" fill="#2A0693" opacity="0.85"/><rect x="466.2" y="86.5" width="1.2" height="1.0" fill="#2A0693" opacity="0.85"/><rect x="446.1" y="95.8" width="1.2" height="1.0" fill="#2A0693" opacity="0.85"/><rect x="477.7" y="114.1" width="1.2" height="1.0" fill="#2A0693" opacity="0.85"/><rect x="472.0" y="119.4" width="1.2" height="1.0" fill="#2A0693" opacity="0.85"/><rect x="452.5" y="78.8" width="1.2" height="1.0" fill="#2A0693" opacity="0.85"/><rect x="460.3" y="84.3" width="1.2" height="1.0" fill="#2A0693" opacity="0.85"/><rect x="449.6" y="91.5" width="1.2" height="1.0" fill="#2A0693" opacity="0.85"/><rect x="468.2" y="95.7" width="1.2" height="1.0" fill="#2A0693" opacity="0.85"/><rect x="454.2" y="113.6" width="1.2" height="1.0" fill="#2A0693" opacity="0.85"/><rect x="484.2" y="93.5" width="1.2" height="1.0" fill="#2A0693" opacity="0.85"/><rect x="443.4" y="71.6" width="1.2" height="1.0" fill="#2A0693" opacity="0.85"/><rect x="479.3" y="72.2" width="1.2" height="1.0" fill="#2A0693" opacity="0.85"/><rect x="471.9" y="99.7" width="1.2" height="1.0" fill="#2A0693" opacity="0.85"/><rect x="453.9" y="111.2" width="1.2" height="1.0" fill="#2A0693" opacity="0.85"/><rect x="440.9" y="77.1" width="1.2" height="1.0" fill="#2A0693" opacity="0.85"/><rect x="460.5" y="71.3" width="1.2" height="1.0" fill="#2A0693" opacity="0.85"/><rect x="462.3" y="54.2" width="1.2" height="1.0" fill="#2A0693" opacity="0.85"/><rect x="431.3" y="42.8" width="1.2" height="1.0" fill="#2A0693" opacity="0.85"/><rect x="453.3" y="66.8" width="1.2" height="1.0" fill="#2A0693" opacity="0.85"/><rect x="453.3" y="79.3" width="1.2" height="1.0" fill="#2A0693" opacity="0.85"/><rect x="461.3" y="97.5" width="1.2" height="1.0" fill="#2A0693" opacity="0.85"/><rect x="455.8" y="52.0" width="1.2" height="1.0" fill="#2A0693" opacity="0.85"/><rect x="446.4" y="50.7" width="1.2" height="1.0" fill="#2A0693" opacity="0.85"/><rect x="425.5" y="68.3" width="1.2" height="1.0" fill="#2A0693" opacity="0.85"/><rect x="457.1" y="50.7" width="1.2" height="1.0" fill="#2A0693" opacity="0.85"/><rect x="437.3" y="60.7" width="1.2" height="1.0" fill="#2A0693" opacity="0.85"/><rect x="456.4" y="71.2" width="1.2" height="1.0" fill="#2A0693" opacity="0.85"/><rect x="452.7" y="85.4" width="1.2" height="1.0" fill="#2A0693" opacity="0.85"/><rect x="442.7" y="87.5" width="1.2" height="1.0" fill="#2A0693" opacity="0.85"/><rect x="465.8" y="45.2" width="1.2" height="1.0" fill="#2A0693" opacity="0.85"/><rect x="467.0" y="83.3" width="1.2" height="1.0" fill="#2A0693" opacity="0.85"/></g>
<line x1="188.90" y1="288.40" x2="188.90" y2="414.40" stroke="#444" stroke-width="0.8"/>
<line x1="188.50" y1="414.00" x2="311.10" y2="414.00" stroke="#444" stroke-width="0.8"/>
<line x1="186.90" y1="294.10" x2="188.90" y2="294.10" stroke="#444" stroke-width="0.8"/>
<text x="186.50" y="296.60" font-size="7.00" text-anchor="end" font-weight="normal" fill="#222" >20</text>
<line x1="186.90" y1="333.70" x2="188.90" y2="333.70" stroke="#444" stroke-width="0.8"/>
<text x="186.50" y="336.20" font-size="7.00" text-anchor="end" font-weight="normal" fill="#222" >10</text>
<line x1="186.90" y1="373.30" x2="188.90" y2="373.30" stroke="#444" stroke-width="0.8"/>
<text x="186.50" y="375.80" font-size="7.00" text-anchor="end" font-weight="normal" fill="#222" >0</text>
<line x1="186.90" y1="412.90" x2="188.90" y2="412.90" stroke="#444" stroke-width="0.8"/>
<text x="186.50" y="415.40" font-size="7.00" text-anchor="end" font-weight="normal" fill="#222" >-10</text>
<line x1="224.40" y1="414.00" x2="224.40" y2="416.00" stroke="#444" stroke-width="0.8"/>
<text x="224.40" y="422.10" font-size="7.00" text-anchor="middle" font-weight="normal" fill="#222" >0</text>
<line x1="263.55" y1="414.00" x2="263.55" y2="416.00" stroke="#444" stroke-width="0.8"/>
<text x="263.55" y="422.10" font-size="7.00" text-anchor="middle" font-weight="normal" fill="#222" >10</text>
<line x1="302.70" y1="414.00" x2="302.70" y2="416.00" stroke="#444" stroke-width="0.8"/>
<text x="302.70" y="422.10" font-size="7.00" text-anchor="middle" font-weight="normal" fill="#222" >20</text>
<text x="249.90" y="285.30" font-size="10.50" text-anchor="middle" font-weight="normal" fill="#111" >cIAP2/BIRC3</text>
<text x="250.30" y="431.30" font-size="8.40" text-anchor="middle" font-weight="normal" fill="#111" >UMAP 1</text>
<text transform="translate(173.60,355.3) rotate(-90)" font-size="8.6" text-anchor="middle" fill="#111">UMAP 2</text>
<g transform="matrix(0.50856,0,0,0.55686,23.600,290.318)"><g mask="url(#cclip)"><rect x="320" y="0" width="250" height="220" fill="#1D078E"/><g mask="url(#cinner)"><g filter="url(#hb)"><ellipse cx="376.0" cy="146.0" rx="38.0" ry="40.0" fill="#9613A0"/><circle cx="365.8" cy="140.0" r="6.2" fill="#B52E8D"/><circle cx="354.8" cy="150.7" r="3.8" fill="#8108A5"/><circle cx="370.7" cy="168.6" r="6.4" fill="#8108A6"/><circle cx="386.6" cy="151.3" r="5.7" fill="#7805A6"/><circle cx="363.8" cy="160.3" r="5.2" fill="#8A0BA5"/><circle cx="366.0" cy="153.3" r="4.1" fill="#910FA3"/><circle cx="394.5" cy="162.3" r="5.3" fill="#A21D99"/><circle cx="388.4" cy="134.2" r="4.5" fill="#8D0CA4"/><circle cx="358.0" cy="158.9" r="4.6" fill="#7203A7"/><circle cx="360.7" cy="142.4" r="5.5" fill="#7303A7"/><circle cx="395.9" cy="147.2" r="3.1" fill="#7D07A6"/><circle cx="378.9" cy="152.5" r="5.4" fill="#7D07A6"/><circle cx="373.8" cy="129.3" r="4.7" fill="#A01C9A"/><circle cx="351.1" cy="146.3" r="6.0" fill="#880BA5"/><circle cx="368.0" cy="124.4" r="3.3" fill="#7203A7"/><circle cx="391.3" cy="149.3" r="6.1" fill="#B32D8E"/><ellipse cx="482.0" cy="164.0" rx="54.0" ry="52.0" fill="#370599"/><circle cx="488.9" cy="153.3" r="5.7" fill="#43049E"/><circle cx="494.2" cy="133.8" r="3.6" fill="#20078F"/><circle cx="490.6" cy="133.8" r="4.6" fill="#4C03A0"/><circle cx="492.9" cy="155.3" r="6.1" fill="#4F03A1"/><circle cx="476.9" cy="172.1" r="5.4" fill="#3A059A"/><circle cx="476.7" cy="171.0" r="5.9" fill="#290693"/><circle cx="512.8" cy="183.0" r="3.7" fill="#270692"/><circle cx="510.5" cy="187.4" r="4.1" fill="#4D03A0"/><circle cx="507.2" cy="180.6" r="3.0" fill="#4C03A0"/><circle cx="458.5" cy="139.0" r="5.0" fill="#340598"/><circle cx="488.2" cy="147.2" r="5.3" fill="#280693"/><circle cx="455.8" cy="155.4" r="6.3" fill="#2C0694"/><circle cx="474.6" cy="193.1" r="4.4" fill="#4C03A0"/><circle cx="498.7" cy="169.7" r="3.5" fill="#1C078D"/><circle cx="498.1" cy="178.6" r="4.6" fill="#2E0595"/><circle cx="466.2" cy="138.2" r="4.3" fill="#42049D"/><circle cx="467.4" cy="141.0" r="4.9" fill="#1F078F"/><circle cx="469.1" cy="191.2" r="3.8" fill="#44049E"/><circle cx="458.6" cy="173.7" r="3.1" fill="#2A0693"/><circle cx="517.8" cy="175.1" r="4.5" fill="#45049E"/><circle cx="472.2" cy="147.7" r="6.3" fill="#43049E"/><circle cx="485.7" cy="139.4" r="6.2" fill="#5102A1"/><circle cx="504.7" cy="172.4" r="4.0" fill="#340597"/><circle cx="471.3" cy="154.8" r="6.0" fill="#45049E"/><circle cx="511.1" cy="175.4" r="5.2" fill="#280692"/><circle cx="468.5" cy="130.5" r="4.2" fill="#47039F"/><circle cx="480.2" cy="150.2" r="4.5" fill="#43049E"/><circle cx="480.2" cy="181.7" r="5.8" fill="#250691"/><circle cx="497.0" cy="174.0" r="3.6" fill="#230690"/><circle cx="478.4" cy="136.3" r="6.2" fill="#41049D"/><circle cx="475.0" cy="166.2" r="4.8" fill="#230690"/><circle cx="474.2" cy="129.9" r="3.8" fill="#370599"/><circle cx="451.5" cy="144.6" r="6.3" fill="#2C0694"/><circle cx="505.6" cy="148.3" r="3.5" fill="#350598"/><circle cx="487.9" cy="168.7" r="5.5" fill="#3E049C"/><circle cx="511.3" cy="162.8" r="4.4" fill="#5102A1"/><circle cx="488.1" cy="170.6" r="4.9" fill="#290693"/><circle cx="502.5" cy="162.3" r="5.5" fill="#260692"/><circle cx="460.4" cy="181.5" r="6.0" fill="#21068F"/><circle cx="510.7" cy="148.7" r="4.2" fill="#4E03A1"/><ellipse cx="520.0" cy="70.0" rx="25.0" ry="24.0" fill="#41049D"/><circle cx="529.5" cy="71.9" r="4.6" fill="#5102A1"/><circle cx="522.1" cy="76.2" r="4.5" fill="#300596"/><circle cx="534.7" cy="62.9" r="5.6" fill="#4C03A0"/><circle cx="525.6" cy="83.8" r="4.8" fill="#330597"/><circle cx="536.2" cy="73.3" r="5.1" fill="#2E0595"/><ellipse cx="543.0" cy="106.0" rx="16.0" ry="10.0" fill="#2C0694"/><circle cx="538.3" cy="101.2" r="4.3" fill="#320597"/><circle cx="545.8" cy="99.5" r="6.4" fill="#300596"/></g><g filter="url(#hb2)"><circle cx="364.0" cy="136.0" r="12.0" fill="#F48B47"/><circle cx="366.0" cy="133.0" r="6.0" fill="#F4EC22"/><circle cx="360.0" cy="142.0" r="6.0" fill="#FCBA2E"/><circle cx="372.0" cy="128.0" r="5.0" fill="#F2844B"/><circle cx="385.0" cy="166.0" r="5.0" fill="#F48B47"/><circle cx="380.0" cy="158.0" r="4.0" fill="#E46A5D"/><circle cx="356.0" cy="150.0" r="6.0" fill="#E46A5D"/><circle cx="507.0" cy="170.0" r="4.0" fill="#CC4778"/><circle cx="405.0" cy="188.0" r="3.0" fill="#A01C9A"/><circle cx="418.0" cy="162.0" r="3.0" fill="#BE3884"/></g></g></g><rect x="445.5" y="47.2" width="1.2" height="1.0" fill="#2A0693" opacity="0.85"/><rect x="447.0" y="48.8" width="1.2" height="1.0" fill="#2A0693" opacity="0.85"/><rect x="439.1" y="39.8" width="1.2" height="1.0" fill="#2A0693" opacity="0.85"/><rect x="459.3" y="60.1" width="1.2" height="1.0" fill="#2A0693" opacity="0.85"/><rect x="439.4" y="34.8" width="1.2" height="1.0" fill="#2A0693" opacity="0.85"/><rect x="441.0" y="34.9" width="1.2" height="1.0" fill="#2A0693" opacity="0.85"/><rect x="453.7" y="54.3" width="1.2" height="1.0" fill="#2A0693" opacity="0.85"/><rect x="435.9" y="34.4" width="1.2" height="1.0" fill="#2A0693" opacity="0.85"/><rect x="441.3" y="40.5" width="1.2" height="1.0" fill="#2A0693" opacity="0.85"/><rect x="446.3" y="49.9" width="1.2" height="1.0" fill="#2A0693" opacity="0.85"/><rect x="449.4" y="49.2" width="1.2" height="1.0" fill="#2A0693" opacity="0.85"/><rect x="453.4" y="55.5" width="1.2" height="1.0" fill="#2A0693" opacity="0.85"/><rect x="466.8" y="65.8" width="1.2" height="1.0" fill="#2A0693" opacity="0.85"/><rect x="455.4" y="57.6" width="1.2" height="1.0" fill="#2A0693" opacity="0.85"/><rect x="446.4" y="44.3" width="1.2" height="1.0" fill="#2A0693" opacity="0.85"/><rect x="448.1" y="45.6" width="1.2" height="1.0" fill="#2A0693" opacity="0.85"/><rect x="462.9" y="64.6" width="1.2" height="1.0" fill="#2A0693" opacity="0.85"/><rect x="443.3" y="39.8" width="1.2" height="1.0" fill="#2A0693" opacity="0.85"/><rect x="463.0" y="65.7" width="1.2" height="1.0" fill="#2A0693" opacity="0.85"/><rect x="453.8" y="53.0" width="1.2" height="1.0" fill="#2A0693" opacity="0.85"/><rect x="436.5" y="40.1" width="1.2" height="1.0" fill="#2A0693" opacity="0.85"/><rect x="458.1" y="59.0" width="1.2" height="1.0" fill="#2A0693" opacity="0.85"/><rect x="441.3" y="38.2" width="1.2" height="1.0" fill="#2A0693" opacity="0.85"/><rect x="439.5" y="39.1" width="1.2" height="1.0" fill="#2A0693" opacity="0.85"/><rect x="441.2" y="39.3" width="1.2" height="1.0" fill="#2A0693" opacity="0.85"/><rect x="455.2" y="55.6" width="1.2" height="1.0" fill="#2A0693" opacity="0.85"/><rect x="441.5" y="44.8" width="1.2" height="1.0" fill="#2A0693" opacity="0.85"/><rect x="457.5" y="62.6" width="1.2" height="1.0" fill="#2A0693" opacity="0.85"/><rect x="435.7" y="104.0" width="1.2" height="1.0" fill="#2A0693" opacity="0.85"/><rect x="465.9" y="109.3" width="1.2" height="1.0" fill="#2A0693" opacity="0.85"/><rect x="428.0" y="107.3" width="1.2" height="1.0" fill="#2A0693" opacity="0.85"/><rect x="439.1" y="106.5" width="1.2" height="1.0" fill="#2A0693" opacity="0.85"/><rect x="475.1" y="107.0" width="1.2" height="1.0" fill="#2A0693" opacity="0.85"/><rect x="426.1" y="107.3" width="1.2" height="1.0" fill="#2A0693" opacity="0.85"/><rect x="427.3" y="105.2" width="1.2" height="1.0" fill="#2A0693" opacity="0.85"/><rect x="463.1" y="106.7" width="1.2" height="1.0" fill="#2A0693" opacity="0.85"/><rect x="447.0" y="102.9" width="1.2" height="1.0" fill="#2A0693" opacity="0.85"/><rect x="454.9" y="108.2" width="1.2" height="1.0" fill="#2A0693" opacity="0.85"/><rect x="461.2" y="107.9" width="1.2" height="1.0" fill="#2A0693" opacity="0.85"/><rect x="431.8" y="105.6" width="1.2" height="1.0" fill="#2A0693" opacity="0.85"/><rect x="484.6" y="108.4" width="1.2" height="1.0" fill="#2A0693" opacity="0.85"/><rect x="434.3" y="105.3" width="1.2" height="1.0" fill="#2A0693" opacity="0.85"/><rect x="472.8" y="108.5" width="1.2" height="1.0" fill="#2A0693" opacity="0.85"/><rect x="487.5" y="107.6" width="1.2" height="1.0" fill="#2A0693" opacity="0.85"/><rect x="482.8" y="106.5" width="1.2" height="1.0" fill="#2A0693" opacity="0.85"/><rect x="428.3" y="105.2" width="1.2" height="1.0" fill="#2A0693" opacity="0.85"/><rect x="423.7" y="107.2" width="1.2" height="1.0" fill="#2A0693" opacity="0.85"/><rect x="470.3" y="107.2" width="1.2" height="1.0" fill="#2A0693" opacity="0.85"/><rect x="439.0" y="107.5" width="1.2" height="1.0" fill="#2A0693" opacity="0.85"/><rect x="441.5" y="104.7" width="1.2" height="1.0" fill="#2A0693" opacity="0.85"/><rect x="433.3" y="106.3" width="1.2" height="1.0" fill="#2A0693" opacity="0.85"/><rect x="437.0" y="105.9" width="1.2" height="1.0" fill="#2A0693" opacity="0.85"/><rect x="460.2" y="108.5" width="1.2" height="1.0" fill="#2A0693" opacity="0.85"/><rect x="440.6" y="104.8" width="1.2" height="1.0" fill="#2A0693" opacity="0.85"/><rect x="485.2" y="108.0" width="1.2" height="1.0" fill="#2A0693" opacity="0.85"/><rect x="439.8" y="106.8" width="1.2" height="1.0" fill="#2A0693" opacity="0.85"/><rect x="452.2" y="107.9" width="1.2" height="1.0" fill="#2A0693" opacity="0.85"/><rect x="446.8" y="107.1" width="1.2" height="1.0" fill="#2A0693" opacity="0.85"/><rect x="461.1" y="108.2" width="1.2" height="1.0" fill="#2A0693" opacity="0.85"/><rect x="483.4" y="109.0" width="1.2" height="1.0" fill="#2A0693" opacity="0.85"/><rect x="489.6" y="106.7" width="1.2" height="1.0" fill="#2A0693" opacity="0.85"/><rect x="461.9" y="105.2" width="1.2" height="1.0" fill="#2A0693" opacity="0.85"/><rect x="430.8" y="106.6" width="1.2" height="1.0" fill="#2A0693" opacity="0.85"/><rect x="484.7" y="108.0" width="1.2" height="1.0" fill="#2A0693" opacity="0.85"/><rect x="470.1" y="107.8" width="1.2" height="1.0" fill="#2A0693" opacity="0.85"/><rect x="465.5" y="107.3" width="1.2" height="1.0" fill="#2A0693" opacity="0.85"/><rect x="454.8" y="106.8" width="1.2" height="1.0" fill="#2A0693" opacity="0.85"/><rect x="491.0" y="106.7" width="1.2" height="1.0" fill="#2A0693" opacity="0.85"/><rect x="443.4" y="98.4" width="1.2" height="1.0" fill="#2A0693" opacity="0.85"/><rect x="473.2" y="116.8" width="1.2" height="1.0" fill="#2A0693" opacity="0.85"/><rect x="473.2" y="106.6" width="1.2" height="1.0" fill="#2A0693" opacity="0.85"/><rect x="475.7" y="117.6" width="1.2" height="1.0" fill="#2A0693" opacity="0.85"/><rect x="455.8" y="105.6" width="1.2" height="1.0" fill="#2A0693" opacity="0.85"/><rect x="480.5" y="115.3" width="1.2" height="1.0" fill="#2A0693" opacity="0.85"/><rect x="458.8" y="111.1" width="1.2" height="1.0" fill="#2A0693" opacity="0.85"/><rect x="478.9" y="99.8" width="1.2" height="1.0" fill="#2A0693" opacity="0.85"/><rect x="468.1" y="89.9" width="1.2" height="1.0" fill="#2A0693" opacity="0.85"/><rect x="466.2" y="101.7" width="1.2" height="1.0" fill="#2A0693" opacity="0.85"/><rect x="443.6" y="103.2" width="1.2" height="1.0" fill="#2A0693" opacity="0.85"/><rect x="484.7" y="115.7" width="1.2" height="1.0" fill="#2A0693" opacity="0.85"/><rect x="472.8" y="90.2" width="1.2" height="1.0" fill="#2A0693" opacity="0.85"/><rect x="473.1" y="100.2" width="1.2" height="1.0" fill="#2A0693" opacity="0.85"/><rect x="459.8" y="113.6" width="1.2" height="1.0" fill="#2A0693" opacity="0.85"/><rect x="443.8" y="109.0" width="1.2" height="1.0" fill="#2A0693" opacity="0.85"/><rect x="441.3" y="101.3" width="1.2" height="1.0" fill="#2A0693" opacity="0.85"/><rect x="461.6" y="82.0" width="1.2" height="1.0" fill="#2A0693" opacity="0.85"/><rect x="471.4" y="95.9" width="1.2" height="1.0" fill="#2A0693" opacity="0.85"/><rect x="467.7" y="117.9" width="1.2" height="1.0" fill="#2A0693" opacity="0.85"/><rect x="451.5" y="70.6" width="1.2" height="1.0" fill="#2A0693" opacity="0.85"/><rect x="453.5" y="105.3" width="1.2" height="1.0" fill="#2A0693" opacity="0.85"/><rect x="449.1" y="78.8" width="1.2" height="1.0" fill="#2A0693" opacity="0.85"/><rect x="480.8" y="104.3" width="1.2" height="1.0" fill="#2A0693" opacity="0.85"/><rect x="459.9" y="116.4" width="1.2" height="1.0" fill="#2A0693" opacity="0.85"/><rect x="454.7" y="104.6" width="1.2" height="1.0" fill="#2A0693" opacity="0.85"/><rect x="448.9" y="92.4" width="1.2" height="1.0" fill="#2A0693" opacity="0.85"/><rect x="476.3" y="117.5" width="1.2" height="1.0" fill="#2A0693" opacity="0.85"/><rect x="479.6" y="90.0" width="1.2" height="1.0" fill="#2A0693" opacity="0.85"/><rect x="466.2" y="86.5" width="1.2" height="1.0" fill="#2A0693" opacity="0.85"/><rect x="446.1" y="95.8" width="1.2" height="1.0" fill="#2A0693" opacity="0.85"/><rect x="477.7" y="114.1" width="1.2" height="1.0" fill="#2A0693" opacity="0.85"/><rect x="472.0" y="119.4" width="1.2" height="1.0" fill="#2A0693" opacity="0.85"/><rect x="452.5" y="78.8" width="1.2" height="1.0" fill="#2A0693" opacity="0.85"/><rect x="460.3" y="84.3" width="1.2" height="1.0" fill="#2A0693" opacity="0.85"/><rect x="449.6" y="91.5" width="1.2" height="1.0" fill="#2A0693" opacity="0.85"/><rect x="468.2" y="95.7" width="1.2" height="1.0" fill="#2A0693" opacity="0.85"/><rect x="454.2" y="113.6" width="1.2" height="1.0" fill="#2A0693" opacity="0.85"/><rect x="484.2" y="93.5" width="1.2" height="1.0" fill="#2A0693" opacity="0.85"/><rect x="443.4" y="71.6" width="1.2" height="1.0" fill="#2A0693" opacity="0.85"/><rect x="479.3" y="72.2" width="1.2" height="1.0" fill="#2A0693" opacity="0.85"/><rect x="471.9" y="99.7" width="1.2" height="1.0" fill="#2A0693" opacity="0.85"/><rect x="453.9" y="111.2" width="1.2" height="1.0" fill="#2A0693" opacity="0.85"/><rect x="440.9" y="77.1" width="1.2" height="1.0" fill="#2A0693" opacity="0.85"/><rect x="460.5" y="71.3" width="1.2" height="1.0" fill="#2A0693" opacity="0.85"/><rect x="462.3" y="54.2" width="1.2" height="1.0" fill="#2A0693" opacity="0.85"/><rect x="431.3" y="42.8" width="1.2" height="1.0" fill="#2A0693" opacity="0.85"/><rect x="453.3" y="66.8" width="1.2" height="1.0" fill="#2A0693" opacity="0.85"/><rect x="453.3" y="79.3" width="1.2" height="1.0" fill="#2A0693" opacity="0.85"/><rect x="461.3" y="97.5" width="1.2" height="1.0" fill="#2A0693" opacity="0.85"/><rect x="455.8" y="52.0" width="1.2" height="1.0" fill="#2A0693" opacity="0.85"/><rect x="446.4" y="50.7" width="1.2" height="1.0" fill="#2A0693" opacity="0.85"/><rect x="425.5" y="68.3" width="1.2" height="1.0" fill="#2A0693" opacity="0.85"/><rect x="457.1" y="50.7" width="1.2" height="1.0" fill="#2A0693" opacity="0.85"/><rect x="437.3" y="60.7" width="1.2" height="1.0" fill="#2A0693" opacity="0.85"/><rect x="456.4" y="71.2" width="1.2" height="1.0" fill="#2A0693" opacity="0.85"/><rect x="452.7" y="85.4" width="1.2" height="1.0" fill="#2A0693" opacity="0.85"/><rect x="442.7" y="87.5" width="1.2" height="1.0" fill="#2A0693" opacity="0.85"/><rect x="465.8" y="45.2" width="1.2" height="1.0" fill="#2A0693" opacity="0.85"/><rect x="467.0" y="83.3" width="1.2" height="1.0" fill="#2A0693" opacity="0.85"/></g>
<line x1="341.00" y1="295.50" x2="341.00" y2="414.90" stroke="#444" stroke-width="0.8"/>
<line x1="340.60" y1="414.50" x2="461.90" y2="414.50" stroke="#444" stroke-width="0.8"/>
<line x1="339.00" y1="301.96" x2="341.00" y2="301.96" stroke="#444" stroke-width="0.8"/>
<text x="338.60" y="304.46" font-size="7.00" text-anchor="end" font-weight="normal" fill="#222" >20</text>
<line x1="339.00" y1="339.03" x2="341.00" y2="339.03" stroke="#444" stroke-width="0.8"/>
<text x="338.60" y="341.53" font-size="7.00" text-anchor="end" font-weight="normal" fill="#222" >10</text>
<line x1="339.00" y1="376.10" x2="341.00" y2="376.10" stroke="#444" stroke-width="0.8"/>
<text x="338.60" y="378.60" font-size="7.00" text-anchor="end" font-weight="normal" fill="#222" >0</text>
<line x1="339.00" y1="413.17" x2="341.00" y2="413.17" stroke="#444" stroke-width="0.8"/>
<text x="338.60" y="415.67" font-size="7.00" text-anchor="end" font-weight="normal" fill="#222" >-10</text>
<line x1="376.50" y1="414.50" x2="376.50" y2="416.50" stroke="#444" stroke-width="0.8"/>
<text x="376.50" y="422.60" font-size="7.00" text-anchor="middle" font-weight="normal" fill="#222" >0</text>
<line x1="415.50" y1="414.50" x2="415.50" y2="416.50" stroke="#444" stroke-width="0.8"/>
<text x="415.50" y="422.60" font-size="7.00" text-anchor="middle" font-weight="normal" fill="#222" >10</text>
<line x1="454.50" y1="414.50" x2="454.50" y2="416.50" stroke="#444" stroke-width="0.8"/>
<text x="454.50" y="422.60" font-size="7.00" text-anchor="middle" font-weight="normal" fill="#222" >20</text>
<text x="402.00" y="285.30" font-size="10.50" text-anchor="middle" font-weight="normal" fill="#111" >XIAP/BIRC4</text>
<text x="401.75" y="431.30" font-size="8.40" text-anchor="middle" font-weight="normal" fill="#111" >UMAP 1</text>
<text transform="translate(326.00,355.3) rotate(-90)" font-size="8.6" text-anchor="middle" fill="#111">UMAP 2</text>
<g transform="matrix(0.50661,0,0,0.52128,176.469,298.420)"><g mask="url(#cclip)"><rect x="320" y="0" width="250" height="220" fill="#5102A1"/><g mask="url(#cinner)"><g filter="url(#hb)"><ellipse cx="376.0" cy="146.0" rx="38.0" ry="40.0" fill="#B6308B"/><circle cx="388.5" cy="163.6" r="5.5" fill="#98159E"/><circle cx="363.2" cy="135.1" r="5.0" fill="#BF3983"/><circle cx="394.7" cy="151.5" r="4.8" fill="#BF3A83"/><circle cx="392.6" cy="129.5" r="3.8" fill="#AC2693"/><circle cx="392.6" cy="164.2" r="5.1" fill="#C53F7E"/><circle cx="358.4" cy="153.1" r="4.9" fill="#9D199C"/><circle cx="388.8" cy="163.5" r="5.3" fill="#C03A82"/><circle cx="376.2" cy="154.5" r="5.4" fill="#A82295"/><circle cx="353.0" cy="144.5" r="4.4" fill="#B12A90"/><circle cx="385.1" cy="139.7" r="5.1" fill="#9C189C"/><circle cx="364.1" cy="132.5" r="4.5" fill="#BB3587"/><circle cx="363.7" cy="123.0" r="5.2" fill="#CE4A76"/><circle cx="350.6" cy="151.1" r="5.2" fill="#B22C8F"/><circle cx="390.9" cy="129.0" r="5.6" fill="#AD2792"/><circle cx="355.4" cy="130.2" r="4.9" fill="#C03A83"/><circle cx="395.1" cy="142.7" r="6.3" fill="#AE2892"/><circle cx="386.4" cy="142.0" r="6.0" fill="#8F0DA4"/><circle cx="388.2" cy="134.3" r="5.4" fill="#A01C9A"/><circle cx="387.4" cy="141.3" r="5.3" fill="#B22C8F"/><circle cx="379.1" cy="163.7" r="4.7" fill="#9613A0"/><circle cx="377.0" cy="153.9" r="3.5" fill="#AD2792"/><circle cx="383.6" cy="153.4" r="4.1" fill="#B02991"/><circle cx="373.7" cy="128.1" r="3.7" fill="#9F1B9A"/><circle cx="369.3" cy="169.1" r="4.6" fill="#9B189D"/><ellipse cx="482.0" cy="164.0" rx="54.0" ry="52.0" fill="#D6566D"/><circle cx="494.0" cy="132.9" r="5.9" fill="#D35170"/><circle cx="470.7" cy="150.5" r="3.6" fill="#AD2693"/><circle cx="487.9" cy="142.0" r="6.4" fill="#EF7F4E"/><circle cx="504.6" cy="151.9" r="4.0" fill="#A11C99"/><circle cx="487.9" cy="192.8" r="6.2" fill="#E66E5B"/><circle cx="471.7" cy="129.7" r="4.7" fill="#E26661"/><circle cx="492.3" cy="147.7" r="5.5" fill="#EB7854"/><circle cx="488.2" cy="157.4" r="6.3" fill="#B8318A"/><circle cx="497.9" cy="183.0" r="4.7" fill="#DF6164"/><circle cx="508.8" cy="139.5" r="3.5" fill="#C8437B"/><circle cx="503.9" cy="151.5" r="3.5" fill="#BE3884"/><circle cx="510.8" cy="165.6" r="4.9" fill="#C23C81"/><circle cx="505.4" cy="152.4" r="3.2" fill="#F58F44"/><circle cx="483.7" cy="132.4" r="3.1" fill="#F58F44"/><circle cx="453.8" cy="162.9" r="4.6" fill="#DF6164"/><circle cx="476.8" cy="198.2" r="5.5" fill="#F2844B"/><circle cx="509.2" cy="157.1" r="5.4" fill="#AB2594"/><circle cx="507.9" cy="183.3" r="3.7" fill="#E36760"/><circle cx="487.7" cy="171.7" r="6.4" fill="#B7308B"/><circle cx="486.9" cy="197.9" r="4.2" fill="#B22B8F"/><circle cx="459.7" cy="167.8" r="3.8" fill="#F69043"/><circle cx="465.0" cy="165.7" r="5.4" fill="#AF2891"/><circle cx="468.0" cy="185.5" r="3.3" fill="#E66D5C"/><circle cx="511.5" cy="174.1" r="3.1" fill="#F79441"/><circle cx="446.0" cy="174.7" r="6.5" fill="#EF7F4F"/><circle cx="445.4" cy="157.5" r="4.7" fill="#A82296"/><circle cx="495.6" cy="145.4" r="4.6" fill="#D24F72"/><circle cx="457.2" cy="186.5" r="3.8" fill="#F69143"/><circle cx="467.1" cy="193.3" r="5.9" fill="#E97357"/><circle cx="467.0" cy="132.3" r="5.2" fill="#F0804E"/><circle cx="479.7" cy="174.4" r="6.0" fill="#F1824C"/><circle cx="497.1" cy="152.2" r="6.3" fill="#E97358"/><circle cx="483.6" cy="169.4" r="3.8" fill="#B6308B"/><circle cx="467.4" cy="134.2" r="5.4" fill="#EE7D50"/><circle cx="518.9" cy="159.1" r="6.2" fill="#D14E72"/><circle cx="478.4" cy="146.3" r="3.6" fill="#DE5F65"/><circle cx="454.4" cy="183.3" r="4.9" fill="#A11D99"/><circle cx="463.5" cy="171.6" r="4.8" fill="#A92395"/><circle cx="476.1" cy="173.8" r="5.4" fill="#CE4A76"/><circle cx="511.4" cy="179.5" r="4.6" fill="#AB2593"/><circle cx="458.6" cy="189.1" r="5.6" fill="#F38649"/><circle cx="476.1" cy="183.9" r="4.8" fill="#EF7E50"/><circle cx="460.8" cy="140.7" r="4.3" fill="#B8328A"/><circle cx="502.9" cy="158.1" r="3.5" fill="#F0814D"/><circle cx="508.7" cy="166.3" r="5.1" fill="#C23C81"/><circle cx="482.9" cy="156.9" r="4.3" fill="#D6556D"/><circle cx="510.8" cy="145.4" r="5.6" fill="#F2854A"/><circle cx="465.0" cy="187.5" r="4.3" fill="#DA5B69"/><circle cx="474.4" cy="192.4" r="3.8" fill="#F38749"/><circle cx="472.7" cy="175.4" r="4.4" fill="#CB4679"/><circle cx="507.3" cy="180.2" r="5.8" fill="#C9437B"/><circle cx="483.5" cy="195.2" r="3.6" fill="#F69242"/><circle cx="456.4" cy="190.1" r="4.2" fill="#CE4A75"/><circle cx="501.6" cy="191.2" r="6.1" fill="#C7417D"/><circle cx="467.0" cy="158.5" r="6.2" fill="#F79441"/><circle cx="481.8" cy="135.8" r="6.3" fill="#EA7456"/><circle cx="488.0" cy="180.9" r="4.5" fill="#EA7655"/><circle cx="516.4" cy="160.9" r="3.6" fill="#D8586B"/><circle cx="459.6" cy="145.7" r="5.7" fill="#DD5F66"/><circle cx="446.6" cy="168.9" r="3.6" fill="#DF6165"/><circle cx="488.7" cy="150.5" r="6.2" fill="#F38848"/><circle cx="487.7" cy="179.4" r="4.6" fill="#E66E5B"/><circle cx="458.9" cy="186.3" r="3.5" fill="#C8427C"/><circle cx="448.4" cy="153.2" r="3.4" fill="#F59044"/><circle cx="481.5" cy="143.3" r="4.4" fill="#F69143"/><circle cx="499.4" cy="176.6" r="3.6" fill="#D8576C"/><circle cx="484.7" cy="143.3" r="3.8" fill="#E97357"/><circle cx="451.3" cy="165.6" r="4.0" fill="#BA3388"/><circle cx="494.7" cy="144.7" r="5.2" fill="#C9447B"/><circle cx="469.3" cy="132.4" r="6.0" fill="#DC5D67"/><circle cx="510.5" cy="142.2" r="5.4" fill="#F48A47"/><circle cx="474.1" cy="142.6" r="6.2" fill="#AE2891"/><circle cx="463.1" cy="174.8" r="5.6" fill="#DB5B69"/><circle cx="488.1" cy="153.2" r="6.3" fill="#EC7853"/><circle cx="518.3" cy="159.2" r="6.1" fill="#DD5E67"/><circle cx="452.7" cy="145.9" r="4.3" fill="#F79441"/><circle cx="505.3" cy="186.1" r="6.2" fill="#F58D46"/><circle cx="457.4" cy="169.7" r="6.0" fill="#B12A90"/><circle cx="480.2" cy="176.6" r="6.3" fill="#AE2792"/><circle cx="453.0" cy="180.4" r="4.7" fill="#AA2494"/><ellipse cx="520.0" cy="70.0" rx="25.0" ry="24.0" fill="#CC4778"/><circle cx="519.6" cy="55.2" r="4.7" fill="#BB3587"/><circle cx="526.4" cy="55.2" r="5.1" fill="#B62F8B"/><circle cx="530.6" cy="61.5" r="4.0" fill="#D8586B"/><circle cx="517.9" cy="70.1" r="5.0" fill="#D9586B"/><circle cx="527.1" cy="84.8" r="3.1" fill="#BC3686"/><ellipse cx="543.0" cy="106.0" rx="16.0" ry="10.0" fill="#A01C9A"/><circle cx="542.5" cy="104.0" r="3.5" fill="#A52097"/><circle cx="552.5" cy="106.9" r="5.3" fill="#A41F98"/></g><g filter="url(#hb2)"><circle cx="470.0" cy="124.0" r="6.0" fill="#7C06A6"/><circle cx="490.0" cy="121.0" r="6.0" fill="#8F0DA4"/><circle cx="455.0" cy="135.0" r="5.0" fill="#8F0DA4"/><circle cx="470.0" cy="197.0" r="8.0" fill="#AA2494"/><circle cx="500.0" cy="200.0" r="7.0" fill="#A31E98"/><circle cx="445.0" cy="188.0" r="6.0" fill="#B6308B"/><circle cx="520.0" cy="190.0" r="6.0" fill="#B12A90"/><circle cx="475.0" cy="146.0" r="6.0" fill="#F6E423"/><circle cx="491.0" cy="152.0" r="7.0" fill="#F6E423"/><circle cx="506.0" cy="156.0" r="6.0" fill="#FAD724"/><circle cx="498.0" cy="148.0" r="5.0" fill="#FCBA2E"/><circle cx="483.0" cy="150.0" r="5.0" fill="#FCA636"/><circle cx="455.0" cy="165.0" r="6.0" fill="#F2844B"/><circle cx="372.0" cy="150.0" r="5.0" fill="#DD5E66"/><circle cx="380.0" cy="140.0" r="5.0" fill="#D6566D"/><circle cx="522.0" cy="68.0" r="6.0" fill="#EF7E50"/></g></g></g><rect x="445.5" y="47.2" width="1.2" height="1.0" fill="#2A0693" opacity="0.85"/><rect x="447.0" y="48.8" width="1.2" height="1.0" fill="#2A0693" opacity="0.85"/><rect x="439.1" y="39.8" width="1.2" height="1.0" fill="#2A0693" opacity="0.85"/><rect x="459.3" y="60.1" width="1.2" height="1.0" fill="#2A0693" opacity="0.85"/><rect x="439.4" y="34.8" width="1.2" height="1.0" fill="#2A0693" opacity="0.85"/><rect x="441.0" y="34.9" width="1.2" height="1.0" fill="#2A0693" opacity="0.85"/><rect x="453.7" y="54.3" width="1.2" height="1.0" fill="#2A0693" opacity="0.85"/><rect x="435.9" y="34.4" width="1.2" height="1.0" fill="#2A0693" opacity="0.85"/><rect x="441.3" y="40.5" width="1.2" height="1.0" fill="#2A0693" opacity="0.85"/><rect x="446.3" y="49.9" width="1.2" height="1.0" fill="#2A0693" opacity="0.85"/><rect x="449.4" y="49.2" width="1.2" height="1.0" fill="#2A0693" opacity="0.85"/><rect x="453.4" y="55.5" width="1.2" height="1.0" fill="#2A0693" opacity="0.85"/><rect x="466.8" y="65.8" width="1.2" height="1.0" fill="#2A0693" opacity="0.85"/><rect x="455.4" y="57.6" width="1.2" height="1.0" fill="#2A0693" opacity="0.85"/><rect x="446.4" y="44.3" width="1.2" height="1.0" fill="#2A0693" opacity="0.85"/><rect x="448.1" y="45.6" width="1.2" height="1.0" fill="#2A0693" opacity="0.85"/><rect x="462.9" y="64.6" width="1.2" height="1.0" fill="#2A0693" opacity="0.85"/><rect x="443.3" y="39.8" width="1.2" height="1.0" fill="#2A0693" opacity="0.85"/><rect x="463.0" y="65.7" width="1.2" height="1.0" fill="#2A0693" opacity="0.85"/><rect x="453.8" y="53.0" width="1.2" height="1.0" fill="#2A0693" opacity="0.85"/><rect x="436.5" y="40.1" width="1.2" height="1.0" fill="#2A0693" opacity="0.85"/><rect x="458.1" y="59.0" width="1.2" height="1.0" fill="#2A0693" opacity="0.85"/><rect x="441.3" y="38.2" width="1.2" height="1.0" fill="#2A0693" opacity="0.85"/><rect x="439.5" y="39.1" width="1.2" height="1.0" fill="#2A0693" opacity="0.85"/><rect x="441.2" y="39.3" width="1.2" height="1.0" fill="#2A0693" opacity="0.85"/><rect x="455.2" y="55.6" width="1.2" height="1.0" fill="#2A0693" opacity="0.85"/><rect x="441.5" y="44.8" width="1.2" height="1.0" fill="#2A0693" opacity="0.85"/><rect x="457.5" y="62.6" width="1.2" height="1.0" fill="#2A0693" opacity="0.85"/><rect x="435.7" y="104.0" width="1.2" height="1.0" fill="#2A0693" opacity="0.85"/><rect x="465.9" y="109.3" width="1.2" height="1.0" fill="#2A0693" opacity="0.85"/><rect x="428.0" y="107.3" width="1.2" height="1.0" fill="#2A0693" opacity="0.85"/><rect x="439.1" y="106.5" width="1.2" height="1.0" fill="#2A0693" opacity="0.85"/><rect x="475.1" y="107.0" width="1.2" height="1.0" fill="#2A0693" opacity="0.85"/><rect x="426.1" y="107.3" width="1.2" height="1.0" fill="#2A0693" opacity="0.85"/><rect x="427.3" y="105.2" width="1.2" height="1.0" fill="#2A0693" opacity="0.85"/><rect x="463.1" y="106.7" width="1.2" height="1.0" fill="#2A0693" opacity="0.85"/><rect x="447.0" y="102.9" width="1.2" height="1.0" fill="#2A0693" opacity="0.85"/><rect x="454.9" y="108.2" width="1.2" height="1.0" fill="#2A0693" opacity="0.85"/><rect x="461.2" y="107.9" width="1.2" height="1.0" fill="#2A0693" opacity="0.85"/><rect x="431.8" y="105.6" width="1.2" height="1.0" fill="#2A0693" opacity="0.85"/><rect x="484.6" y="108.4" width="1.2" height="1.0" fill="#2A0693" opacity="0.85"/><rect x="434.3" y="105.3" width="1.2" height="1.0" fill="#2A0693" opacity="0.85"/><rect x="472.8" y="108.5" width="1.2" height="1.0" fill="#2A0693" opacity="0.85"/><rect x="487.5" y="107.6" width="1.2" height="1.0" fill="#2A0693" opacity="0.85"/><rect x="482.8" y="106.5" width="1.2" height="1.0" fill="#2A0693" opacity="0.85"/><rect x="428.3" y="105.2" width="1.2" height="1.0" fill="#2A0693" opacity="0.85"/><rect x="423.7" y="107.2" width="1.2" height="1.0" fill="#2A0693" opacity="0.85"/><rect x="470.3" y="107.2" width="1.2" height="1.0" fill="#2A0693" opacity="0.85"/><rect x="439.0" y="107.5" width="1.2" height="1.0" fill="#2A0693" opacity="0.85"/><rect x="441.5" y="104.7" width="1.2" height="1.0" fill="#2A0693" opacity="0.85"/><rect x="433.3" y="106.3" width="1.2" height="1.0" fill="#2A0693" opacity="0.85"/><rect x="437.0" y="105.9" width="1.2" height="1.0" fill="#2A0693" opacity="0.85"/><rect x="460.2" y="108.5" width="1.2" height="1.0" fill="#2A0693" opacity="0.85"/><rect x="440.6" y="104.8" width="1.2" height="1.0" fill="#2A0693" opacity="0.85"/><rect x="485.2" y="108.0" width="1.2" height="1.0" fill="#2A0693" opacity="0.85"/><rect x="439.8" y="106.8" width="1.2" height="1.0" fill="#2A0693" opacity="0.85"/><rect x="452.2" y="107.9" width="1.2" height="1.0" fill="#2A0693" opacity="0.85"/><rect x="446.8" y="107.1" width="1.2" height="1.0" fill="#2A0693" opacity="0.85"/><rect x="461.1" y="108.2" width="1.2" height="1.0" fill="#2A0693" opacity="0.85"/><rect x="483.4" y="109.0" width="1.2" height="1.0" fill="#2A0693" opacity="0.85"/><rect x="489.6" y="106.7" width="1.2" height="1.0" fill="#2A0693" opacity="0.85"/><rect x="461.9" y="105.2" width="1.2" height="1.0" fill="#2A0693" opacity="0.85"/><rect x="430.8" y="106.6" width="1.2" height="1.0" fill="#2A0693" opacity="0.85"/><rect x="484.7" y="108.0" width="1.2" height="1.0" fill="#2A0693" opacity="0.85"/><rect x="470.1" y="107.8" width="1.2" height="1.0" fill="#2A0693" opacity="0.85"/><rect x="465.5" y="107.3" width="1.2" height="1.0" fill="#2A0693" opacity="0.85"/><rect x="454.8" y="106.8" width="1.2" height="1.0" fill="#2A0693" opacity="0.85"/><rect x="491.0" y="106.7" width="1.2" height="1.0" fill="#2A0693" opacity="0.85"/><rect x="443.4" y="98.4" width="1.2" height="1.0" fill="#2A0693" opacity="0.85"/><rect x="473.2" y="116.8" width="1.2" height="1.0" fill="#2A0693" opacity="0.85"/><rect x="473.2" y="106.6" width="1.2" height="1.0" fill="#2A0693" opacity="0.85"/><rect x="475.7" y="117.6" width="1.2" height="1.0" fill="#2A0693" opacity="0.85"/><rect x="455.8" y="105.6" width="1.2" height="1.0" fill="#2A0693" opacity="0.85"/><rect x="480.5" y="115.3" width="1.2" height="1.0" fill="#2A0693" opacity="0.85"/><rect x="458.8" y="111.1" width="1.2" height="1.0" fill="#2A0693" opacity="0.85"/><rect x="478.9" y="99.8" width="1.2" height="1.0" fill="#2A0693" opacity="0.85"/><rect x="468.1" y="89.9" width="1.2" height="1.0" fill="#2A0693" opacity="0.85"/><rect x="466.2" y="101.7" width="1.2" height="1.0" fill="#2A0693" opacity="0.85"/><rect x="443.6" y="103.2" width="1.2" height="1.0" fill="#2A0693" opacity="0.85"/><rect x="484.7" y="115.7" width="1.2" height="1.0" fill="#2A0693" opacity="0.85"/><rect x="472.8" y="90.2" width="1.2" height="1.0" fill="#2A0693" opacity="0.85"/><rect x="473.1" y="100.2" width="1.2" height="1.0" fill="#2A0693" opacity="0.85"/><rect x="459.8" y="113.6" width="1.2" height="1.0" fill="#2A0693" opacity="0.85"/><rect x="443.8" y="109.0" width="1.2" height="1.0" fill="#2A0693" opacity="0.85"/><rect x="441.3" y="101.3" width="1.2" height="1.0" fill="#2A0693" opacity="0.85"/><rect x="461.6" y="82.0" width="1.2" height="1.0" fill="#2A0693" opacity="0.85"/><rect x="471.4" y="95.9" width="1.2" height="1.0" fill="#2A0693" opacity="0.85"/><rect x="467.7" y="117.9" width="1.2" height="1.0" fill="#2A0693" opacity="0.85"/><rect x="451.5" y="70.6" width="1.2" height="1.0" fill="#2A0693" opacity="0.85"/><rect x="453.5" y="105.3" width="1.2" height="1.0" fill="#2A0693" opacity="0.85"/><rect x="449.1" y="78.8" width="1.2" height="1.0" fill="#2A0693" opacity="0.85"/><rect x="480.8" y="104.3" width="1.2" height="1.0" fill="#2A0693" opacity="0.85"/><rect x="459.9" y="116.4" width="1.2" height="1.0" fill="#2A0693" opacity="0.85"/><rect x="454.7" y="104.6" width="1.2" height="1.0" fill="#2A0693" opacity="0.85"/><rect x="448.9" y="92.4" width="1.2" height="1.0" fill="#2A0693" opacity="0.85"/><rect x="476.3" y="117.5" width="1.2" height="1.0" fill="#2A0693" opacity="0.85"/><rect x="479.6" y="90.0" width="1.2" height="1.0" fill="#2A0693" opacity="0.85"/><rect x="466.2" y="86.5" width="1.2" height="1.0" fill="#2A0693" opacity="0.85"/><rect x="446.1" y="95.8" width="1.2" height="1.0" fill="#2A0693" opacity="0.85"/><rect x="477.7" y="114.1" width="1.2" height="1.0" fill="#2A0693" opacity="0.85"/><rect x="472.0" y="119.4" width="1.2" height="1.0" fill="#2A0693" opacity="0.85"/><rect x="452.5" y="78.8" width="1.2" height="1.0" fill="#2A0693" opacity="0.85"/><rect x="460.3" y="84.3" width="1.2" height="1.0" fill="#2A0693" opacity="0.85"/><rect x="449.6" y="91.5" width="1.2" height="1.0" fill="#2A0693" opacity="0.85"/><rect x="468.2" y="95.7" width="1.2" height="1.0" fill="#2A0693" opacity="0.85"/><rect x="454.2" y="113.6" width="1.2" height="1.0" fill="#2A0693" opacity="0.85"/><rect x="484.2" y="93.5" width="1.2" height="1.0" fill="#2A0693" opacity="0.85"/><rect x="443.4" y="71.6" width="1.2" height="1.0" fill="#2A0693" opacity="0.85"/><rect x="479.3" y="72.2" width="1.2" height="1.0" fill="#2A0693" opacity="0.85"/><rect x="471.9" y="99.7" width="1.2" height="1.0" fill="#2A0693" opacity="0.85"/><rect x="453.9" y="111.2" width="1.2" height="1.0" fill="#2A0693" opacity="0.85"/><rect x="440.9" y="77.1" width="1.2" height="1.0" fill="#2A0693" opacity="0.85"/><rect x="460.5" y="71.3" width="1.2" height="1.0" fill="#2A0693" opacity="0.85"/><rect x="462.3" y="54.2" width="1.2" height="1.0" fill="#2A0693" opacity="0.85"/><rect x="431.3" y="42.8" width="1.2" height="1.0" fill="#2A0693" opacity="0.85"/><rect x="453.3" y="66.8" width="1.2" height="1.0" fill="#2A0693" opacity="0.85"/><rect x="453.3" y="79.3" width="1.2" height="1.0" fill="#2A0693" opacity="0.85"/><rect x="461.3" y="97.5" width="1.2" height="1.0" fill="#2A0693" opacity="0.85"/><rect x="455.8" y="52.0" width="1.2" height="1.0" fill="#2A0693" opacity="0.85"/><rect x="446.4" y="50.7" width="1.2" height="1.0" fill="#2A0693" opacity="0.85"/><rect x="425.5" y="68.3" width="1.2" height="1.0" fill="#2A0693" opacity="0.85"/><rect x="457.1" y="50.7" width="1.2" height="1.0" fill="#2A0693" opacity="0.85"/><rect x="437.3" y="60.7" width="1.2" height="1.0" fill="#2A0693" opacity="0.85"/><rect x="456.4" y="71.2" width="1.2" height="1.0" fill="#2A0693" opacity="0.85"/><rect x="452.7" y="85.4" width="1.2" height="1.0" fill="#2A0693" opacity="0.85"/><rect x="442.7" y="87.5" width="1.2" height="1.0" fill="#2A0693" opacity="0.85"/><rect x="465.8" y="45.2" width="1.2" height="1.0" fill="#2A0693" opacity="0.85"/><rect x="467.0" y="83.3" width="1.2" height="1.0" fill="#2A0693" opacity="0.85"/></g>
<line x1="492.00" y1="296.30" x2="492.00" y2="414.70" stroke="#444" stroke-width="0.8"/>
<line x1="491.60" y1="414.30" x2="606.30" y2="414.30" stroke="#444" stroke-width="0.8"/>
<line x1="490.00" y1="301.60" x2="492.00" y2="301.60" stroke="#444" stroke-width="0.8"/>
<text x="489.60" y="304.10" font-size="7.00" text-anchor="end" font-weight="normal" fill="#222" >20</text>
<line x1="490.00" y1="338.80" x2="492.00" y2="338.80" stroke="#444" stroke-width="0.8"/>
<text x="489.60" y="341.30" font-size="7.00" text-anchor="end" font-weight="normal" fill="#222" >10</text>
<line x1="490.00" y1="376.00" x2="492.00" y2="376.00" stroke="#444" stroke-width="0.8"/>
<text x="489.60" y="378.50" font-size="7.00" text-anchor="end" font-weight="normal" fill="#222" >0</text>
<line x1="490.00" y1="413.20" x2="492.00" y2="413.20" stroke="#444" stroke-width="0.8"/>
<text x="489.60" y="415.70" font-size="7.00" text-anchor="end" font-weight="normal" fill="#222" >-10</text>
<line x1="525.50" y1="414.30" x2="525.50" y2="416.30" stroke="#444" stroke-width="0.8"/>
<text x="525.50" y="422.40" font-size="7.00" text-anchor="middle" font-weight="normal" fill="#222" >0</text>
<line x1="562.60" y1="414.30" x2="562.60" y2="416.30" stroke="#444" stroke-width="0.8"/>
<text x="562.60" y="422.40" font-size="7.00" text-anchor="middle" font-weight="normal" fill="#222" >10</text>
<line x1="599.70" y1="414.30" x2="599.70" y2="416.30" stroke="#444" stroke-width="0.8"/>
<text x="599.70" y="422.40" font-size="7.00" text-anchor="middle" font-weight="normal" fill="#222" >20</text>
<text x="547.30" y="285.30" font-size="10.50" text-anchor="middle" font-weight="normal" fill="#111" >ML-IAP/BIRC7</text>
<text x="549.45" y="431.30" font-size="8.40" text-anchor="middle" font-weight="normal" fill="#111" >UMAP 1</text>
<text transform="translate(477.20,355.3) rotate(-90)" font-size="8.6" text-anchor="middle" fill="#111">UMAP 2</text>
<g transform="matrix(0.48193,0,0,0.52311,335.214,298.047)"><g mask="url(#cclip)"><rect x="320" y="0" width="250" height="220" fill="#17078B"/><g mask="url(#cinner)"><g filter="url(#hb)"><ellipse cx="376.0" cy="146.0" rx="38.0" ry="40.0" fill="#220690"/><circle cx="393.8" cy="143.5" r="5.6" fill="#290693"/><circle cx="377.6" cy="153.6" r="3.4" fill="#250691"/><circle cx="357.5" cy="163.8" r="3.4" fill="#2D0695"/><circle cx="386.9" cy="152.5" r="3.1" fill="#2C0694"/><circle cx="377.4" cy="155.1" r="4.8" fill="#16078B"/><circle cx="382.9" cy="162.4" r="5.5" fill="#290693"/><circle cx="355.7" cy="158.6" r="5.9" fill="#240691"/><circle cx="376.1" cy="163.0" r="6.3" fill="#240691"/><circle cx="362.5" cy="132.9" r="4.0" fill="#1A078D"/><circle cx="381.6" cy="173.2" r="6.1" fill="#2E0595"/><ellipse cx="482.0" cy="164.0" rx="54.0" ry="52.0" fill="#41049D"/><circle cx="450.7" cy="158.5" r="4.7" fill="#300596"/><circle cx="497.0" cy="182.7" r="3.3" fill="#2C0694"/><circle cx="492.3" cy="158.5" r="5.4" fill="#5602A3"/><circle cx="504.2" cy="177.6" r="6.5" fill="#6201A6"/><circle cx="451.4" cy="151.6" r="4.0" fill="#4F03A1"/><circle cx="454.2" cy="155.3" r="5.9" fill="#380599"/><circle cx="451.3" cy="174.8" r="4.6" fill="#1D078E"/><circle cx="511.2" cy="172.1" r="4.9" fill="#5902A4"/><circle cx="454.7" cy="152.5" r="4.4" fill="#2A0693"/><circle cx="455.2" cy="150.1" r="4.7" fill="#370599"/><circle cx="468.3" cy="187.7" r="4.1" fill="#4D03A0"/><circle cx="468.2" cy="133.2" r="6.4" fill="#43049E"/><circle cx="468.8" cy="196.5" r="4.3" fill="#270692"/><circle cx="484.8" cy="158.0" r="6.0" fill="#49039F"/><circle cx="511.3" cy="153.6" r="4.2" fill="#340598"/><circle cx="475.4" cy="157.1" r="6.1" fill="#1A078C"/><circle cx="471.3" cy="153.5" r="4.0" fill="#3B049A"/><circle cx="495.8" cy="149.7" r="5.6" fill="#5003A1"/><circle cx="474.1" cy="180.6" r="4.4" fill="#42049D"/><circle cx="464.0" cy="152.4" r="4.5" fill="#5402A2"/><circle cx="503.8" cy="188.2" r="5.4" fill="#5B01A4"/><circle cx="448.2" cy="154.2" r="3.0" fill="#5D01A5"/><circle cx="476.8" cy="164.4" r="3.8" fill="#330597"/><circle cx="451.8" cy="171.2" r="3.9" fill="#5902A3"/><circle cx="519.7" cy="166.7" r="4.9" fill="#5402A2"/><circle cx="488.6" cy="169.4" r="4.9" fill="#5D01A5"/><circle cx="503.3" cy="139.2" r="5.8" fill="#5102A1"/><circle cx="481.6" cy="182.1" r="5.7" fill="#3B049B"/><circle cx="491.0" cy="133.5" r="4.7" fill="#46039E"/><circle cx="492.6" cy="191.9" r="4.8" fill="#4B03A0"/><circle cx="476.6" cy="128.4" r="3.4" fill="#5E01A5"/><circle cx="475.1" cy="191.7" r="4.0" fill="#4D03A0"/><circle cx="505.3" cy="153.6" r="3.2" fill="#5202A2"/><circle cx="481.0" cy="169.4" r="4.8" fill="#5402A2"/><circle cx="510.2" cy="155.7" r="4.2" fill="#320597"/><circle cx="470.1" cy="175.5" r="5.3" fill="#20078F"/><circle cx="472.1" cy="186.6" r="4.0" fill="#4F03A1"/><circle cx="462.0" cy="171.7" r="5.3" fill="#320597"/><circle cx="501.5" cy="177.4" r="5.3" fill="#21068F"/><circle cx="471.0" cy="198.2" r="5.3" fill="#40049C"/><ellipse cx="520.0" cy="70.0" rx="25.0" ry="24.0" fill="#220690"/><circle cx="504.3" cy="67.7" r="5.2" fill="#280692"/><circle cx="526.5" cy="71.3" r="4.4" fill="#2A0693"/><circle cx="533.8" cy="68.0" r="5.6" fill="#2C0694"/><circle cx="533.8" cy="66.9" r="4.5" fill="#2F0596"/><circle cx="519.4" cy="75.5" r="6.1" fill="#1A078D"/><ellipse cx="543.0" cy="106.0" rx="16.0" ry="10.0" fill="#1D078E"/><circle cx="541.7" cy="104.8" r="4.6" fill="#130889"/><circle cx="536.5" cy="104.8" r="3.9" fill="#130889"/></g><g filter="url(#hb2)"><circle cx="451.0" cy="144.0" r="5.5" fill="#FCAE33"/><circle cx="456.0" cy="143.0" r="4.0" fill="#FCBA2E"/><circle cx="518.0" cy="161.0" r="5.5" fill="#FAD724"/><circle cx="519.0" cy="157.0" r="4.0" fill="#F6E423"/><circle cx="486.0" cy="137.0" r="3.0" fill="#F48B47"/><circle cx="473.0" cy="155.0" r="3.0" fill="#D6566D"/><circle cx="491.0" cy="169.0" r="4.0" fill="#CC4778"/><circle cx="470.0" cy="180.0" r="4.0" fill="#B12A90"/><circle cx="500.0" cy="190.0" r="4.0" fill="#A01C9A"/></g></g></g><rect x="445.5" y="47.2" width="1.2" height="1.0" fill="#160790" opacity="0.85"/><rect x="447.0" y="48.8" width="1.2" height="1.0" fill="#160790" opacity="0.85"/><rect x="439.1" y="39.8" width="1.2" height="1.0" fill="#160790" opacity="0.85"/><rect x="459.3" y="60.1" width="1.2" height="1.0" fill="#160790" opacity="0.85"/><rect x="439.4" y="34.8" width="1.2" height="1.0" fill="#160790" opacity="0.85"/><rect x="441.0" y="34.9" width="1.2" height="1.0" fill="#160790" opacity="0.85"/><rect x="453.7" y="54.3" width="1.2" height="1.0" fill="#160790" opacity="0.85"/><rect x="435.9" y="34.4" width="1.2" height="1.0" fill="#160790" opacity="0.85"/><rect x="441.3" y="40.5" width="1.2" height="1.0" fill="#160790" opacity="0.85"/><rect x="446.3" y="49.9" width="1.2" height="1.0" fill="#160790" opacity="0.85"/><rect x="449.4" y="49.2" width="1.2" height="1.0" fill="#160790" opacity="0.85"/><rect x="453.4" y="55.5" width="1.2" height="1.0" fill="#160790" opacity="0.85"/><rect x="466.8" y="65.8" width="1.2" height="1.0" fill="#160790" opacity="0.85"/><rect x="455.4" y="57.6" width="1.2" height="1.0" fill="#160790" opacity="0.85"/><rect x="446.4" y="44.3" width="1.2" height="1.0" fill="#160790" opacity="0.85"/><rect x="448.1" y="45.6" width="1.2" height="1.0" fill="#160790" opacity="0.85"/><rect x="462.9" y="64.6" width="1.2" height="1.0" fill="#160790" opacity="0.85"/><rect x="443.3" y="39.8" width="1.2" height="1.0" fill="#160790" opacity="0.85"/><rect x="463.0" y="65.7" width="1.2" height="1.0" fill="#160790" opacity="0.85"/><rect x="453.8" y="53.0" width="1.2" height="1.0" fill="#160790" opacity="0.85"/><rect x="436.5" y="40.1" width="1.2" height="1.0" fill="#160790" opacity="0.85"/><rect x="458.1" y="59.0" width="1.2" height="1.0" fill="#160790" opacity="0.85"/><rect x="441.3" y="38.2" width="1.2" height="1.0" fill="#160790" opacity="0.85"/><rect x="439.5" y="39.1" width="1.2" height="1.0" fill="#160790" opacity="0.85"/><rect x="441.2" y="39.3" width="1.2" height="1.0" fill="#160790" opacity="0.85"/><rect x="455.2" y="55.6" width="1.2" height="1.0" fill="#160790" opacity="0.85"/><rect x="441.5" y="44.8" width="1.2" height="1.0" fill="#160790" opacity="0.85"/><rect x="457.5" y="62.6" width="1.2" height="1.0" fill="#160790" opacity="0.85"/><rect x="435.7" y="104.0" width="1.2" height="1.0" fill="#160790" opacity="0.85"/><rect x="465.9" y="109.3" width="1.2" height="1.0" fill="#160790" opacity="0.85"/><rect x="428.0" y="107.3" width="1.2" height="1.0" fill="#160790" opacity="0.85"/><rect x="439.1" y="106.5" width="1.2" height="1.0" fill="#160790" opacity="0.85"/><rect x="475.1" y="107.0" width="1.2" height="1.0" fill="#160790" opacity="0.85"/><rect x="426.1" y="107.3" width="1.2" height="1.0" fill="#160790" opacity="0.85"/><rect x="427.3" y="105.2" width="1.2" height="1.0" fill="#160790" opacity="0.85"/><rect x="463.1" y="106.7" width="1.2" height="1.0" fill="#160790" opacity="0.85"/><rect x="447.0" y="102.9" width="1.2" height="1.0" fill="#160790" opacity="0.85"/><rect x="454.9" y="108.2" width="1.2" height="1.0" fill="#160790" opacity="0.85"/><rect x="461.2" y="107.9" width="1.2" height="1.0" fill="#160790" opacity="0.85"/><rect x="431.8" y="105.6" width="1.2" height="1.0" fill="#160790" opacity="0.85"/><rect x="484.6" y="108.4" width="1.2" height="1.0" fill="#160790" opacity="0.85"/><rect x="434.3" y="105.3" width="1.2" height="1.0" fill="#160790" opacity="0.85"/><rect x="472.8" y="108.5" width="1.2" height="1.0" fill="#160790" opacity="0.85"/><rect x="487.5" y="107.6" width="1.2" height="1.0" fill="#160790" opacity="0.85"/><rect x="482.8" y="106.5" width="1.2" height="1.0" fill="#160790" opacity="0.85"/><rect x="428.3" y="105.2" width="1.2" height="1.0" fill="#160790" opacity="0.85"/><rect x="423.7" y="107.2" width="1.2" height="1.0" fill="#160790" opacity="0.85"/><rect x="470.3" y="107.2" width="1.2" height="1.0" fill="#160790" opacity="0.85"/><rect x="439.0" y="107.5" width="1.2" height="1.0" fill="#160790" opacity="0.85"/><rect x="441.5" y="104.7" width="1.2" height="1.0" fill="#160790" opacity="0.85"/><rect x="433.3" y="106.3" width="1.2" height="1.0" fill="#160790" opacity="0.85"/><rect x="437.0" y="105.9" width="1.2" height="1.0" fill="#160790" opacity="0.85"/><rect x="460.2" y="108.5" width="1.2" height="1.0" fill="#160790" opacity="0.85"/><rect x="440.6" y="104.8" width="1.2" height="1.0" fill="#160790" opacity="0.85"/><rect x="485.2" y="108.0" width="1.2" height="1.0" fill="#160790" opacity="0.85"/><rect x="439.8" y="106.8" width="1.2" height="1.0" fill="#160790" opacity="0.85"/><rect x="452.2" y="107.9" width="1.2" height="1.0" fill="#160790" opacity="0.85"/><rect x="446.8" y="107.1" width="1.2" height="1.0" fill="#160790" opacity="0.85"/><rect x="461.1" y="108.2" width="1.2" height="1.0" fill="#160790" opacity="0.85"/><rect x="483.4" y="109.0" width="1.2" height="1.0" fill="#160790" opacity="0.85"/><rect x="489.6" y="106.7" width="1.2" height="1.0" fill="#160790" opacity="0.85"/><rect x="461.9" y="105.2" width="1.2" height="1.0" fill="#160790" opacity="0.85"/><rect x="430.8" y="106.6" width="1.2" height="1.0" fill="#160790" opacity="0.85"/><rect x="484.7" y="108.0" width="1.2" height="1.0" fill="#160790" opacity="0.85"/><rect x="470.1" y="107.8" width="1.2" height="1.0" fill="#160790" opacity="0.85"/><rect x="465.5" y="107.3" width="1.2" height="1.0" fill="#160790" opacity="0.85"/><rect x="454.8" y="106.8" width="1.2" height="1.0" fill="#160790" opacity="0.85"/><rect x="491.0" y="106.7" width="1.2" height="1.0" fill="#160790" opacity="0.85"/><rect x="443.4" y="98.4" width="1.2" height="1.0" fill="#160790" opacity="0.85"/><rect x="473.2" y="116.8" width="1.2" height="1.0" fill="#160790" opacity="0.85"/><rect x="473.2" y="106.6" width="1.2" height="1.0" fill="#160790" opacity="0.85"/><rect x="475.7" y="117.6" width="1.2" height="1.0" fill="#160790" opacity="0.85"/><rect x="455.8" y="105.6" width="1.2" height="1.0" fill="#160790" opacity="0.85"/><rect x="480.5" y="115.3" width="1.2" height="1.0" fill="#160790" opacity="0.85"/><rect x="458.8" y="111.1" width="1.2" height="1.0" fill="#160790" opacity="0.85"/><rect x="478.9" y="99.8" width="1.2" height="1.0" fill="#160790" opacity="0.85"/><rect x="468.1" y="89.9" width="1.2" height="1.0" fill="#160790" opacity="0.85"/><rect x="466.2" y="101.7" width="1.2" height="1.0" fill="#160790" opacity="0.85"/><rect x="443.6" y="103.2" width="1.2" height="1.0" fill="#160790" opacity="0.85"/><rect x="484.7" y="115.7" width="1.2" height="1.0" fill="#160790" opacity="0.85"/><rect x="472.8" y="90.2" width="1.2" height="1.0" fill="#160790" opacity="0.85"/><rect x="473.1" y="100.2" width="1.2" height="1.0" fill="#160790" opacity="0.85"/><rect x="459.8" y="113.6" width="1.2" height="1.0" fill="#160790" opacity="0.85"/><rect x="443.8" y="109.0" width="1.2" height="1.0" fill="#160790" opacity="0.85"/><rect x="441.3" y="101.3" width="1.2" height="1.0" fill="#160790" opacity="0.85"/><rect x="461.6" y="82.0" width="1.2" height="1.0" fill="#160790" opacity="0.85"/><rect x="471.4" y="95.9" width="1.2" height="1.0" fill="#160790" opacity="0.85"/><rect x="467.7" y="117.9" width="1.2" height="1.0" fill="#160790" opacity="0.85"/><rect x="451.5" y="70.6" width="1.2" height="1.0" fill="#160790" opacity="0.85"/><rect x="453.5" y="105.3" width="1.2" height="1.0" fill="#160790" opacity="0.85"/><rect x="449.1" y="78.8" width="1.2" height="1.0" fill="#160790" opacity="0.85"/><rect x="480.8" y="104.3" width="1.2" height="1.0" fill="#160790" opacity="0.85"/><rect x="459.9" y="116.4" width="1.2" height="1.0" fill="#160790" opacity="0.85"/><rect x="454.7" y="104.6" width="1.2" height="1.0" fill="#160790" opacity="0.85"/><rect x="448.9" y="92.4" width="1.2" height="1.0" fill="#160790" opacity="0.85"/><rect x="476.3" y="117.5" width="1.2" height="1.0" fill="#160790" opacity="0.85"/><rect x="479.6" y="90.0" width="1.2" height="1.0" fill="#160790" opacity="0.85"/><rect x="466.2" y="86.5" width="1.2" height="1.0" fill="#160790" opacity="0.85"/><rect x="446.1" y="95.8" width="1.2" height="1.0" fill="#160790" opacity="0.85"/><rect x="477.7" y="114.1" width="1.2" height="1.0" fill="#160790" opacity="0.85"/><rect x="472.0" y="119.4" width="1.2" height="1.0" fill="#160790" opacity="0.85"/><rect x="452.5" y="78.8" width="1.2" height="1.0" fill="#160790" opacity="0.85"/><rect x="460.3" y="84.3" width="1.2" height="1.0" fill="#160790" opacity="0.85"/><rect x="449.6" y="91.5" width="1.2" height="1.0" fill="#160790" opacity="0.85"/><rect x="468.2" y="95.7" width="1.2" height="1.0" fill="#160790" opacity="0.85"/><rect x="454.2" y="113.6" width="1.2" height="1.0" fill="#160790" opacity="0.85"/><rect x="484.2" y="93.5" width="1.2" height="1.0" fill="#160790" opacity="0.85"/><rect x="443.4" y="71.6" width="1.2" height="1.0" fill="#160790" opacity="0.85"/><rect x="479.3" y="72.2" width="1.2" height="1.0" fill="#160790" opacity="0.85"/><rect x="471.9" y="99.7" width="1.2" height="1.0" fill="#160790" opacity="0.85"/><rect x="453.9" y="111.2" width="1.2" height="1.0" fill="#160790" opacity="0.85"/><rect x="440.9" y="77.1" width="1.2" height="1.0" fill="#160790" opacity="0.85"/><rect x="460.5" y="71.3" width="1.2" height="1.0" fill="#160790" opacity="0.85"/><rect x="462.3" y="54.2" width="1.2" height="1.0" fill="#160790" opacity="0.85"/><rect x="431.3" y="42.8" width="1.2" height="1.0" fill="#160790" opacity="0.85"/><rect x="453.3" y="66.8" width="1.2" height="1.0" fill="#160790" opacity="0.85"/><rect x="453.3" y="79.3" width="1.2" height="1.0" fill="#160790" opacity="0.85"/><rect x="461.3" y="97.5" width="1.2" height="1.0" fill="#160790" opacity="0.85"/><rect x="455.8" y="52.0" width="1.2" height="1.0" fill="#160790" opacity="0.85"/><rect x="446.4" y="50.7" width="1.2" height="1.0" fill="#160790" opacity="0.85"/><rect x="425.5" y="68.3" width="1.2" height="1.0" fill="#160790" opacity="0.85"/><rect x="457.1" y="50.7" width="1.2" height="1.0" fill="#160790" opacity="0.85"/><rect x="437.3" y="60.7" width="1.2" height="1.0" fill="#160790" opacity="0.85"/><rect x="456.4" y="71.2" width="1.2" height="1.0" fill="#160790" opacity="0.85"/><rect x="452.7" y="85.4" width="1.2" height="1.0" fill="#160790" opacity="0.85"/><rect x="442.7" y="87.5" width="1.2" height="1.0" fill="#160790" opacity="0.85"/><rect x="465.8" y="45.2" width="1.2" height="1.0" fill="#160790" opacity="0.85"/><rect x="467.0" y="83.3" width="1.2" height="1.0" fill="#160790" opacity="0.85"/></g>
<rect x="638.7" y="313.8" width="11.9" height="60" fill="url(#gexp)"/>
<text x="652.00" y="317.20" font-size="7.60" text-anchor="start" font-weight="normal" fill="#111" >High</text>
<text x="652.00" y="376.50" font-size="7.60" text-anchor="start" font-weight="normal" fill="#111" >Low</text>
<text transform="translate(635.2,345.7) rotate(-90)" font-size="8.2" text-anchor="middle" fill="#111">Gene Expression</text>
<text x="5.30" y="478.40" font-size="12.00" text-anchor="start" font-weight="bold" fill="#000" >D</text>
<line x1="26.20" y1="498.00" x2="26.20" y2="637.55" stroke="#444" stroke-width="0.7"/>
<line x1="25.85" y1="637.20" x2="151.90" y2="637.20" stroke="#444" stroke-width="0.7"/>
<line x1="24.60" y1="507.20" x2="26.20" y2="507.20" stroke="#444" stroke-width="0.6"/>
<text x="23.80" y="508.85" font-size="4.75" text-anchor="end" font-weight="normal" fill="#333" >TAM-MG</text>
<circle cx="89.00" cy="507.20" r="0.50" fill="#e4e4ea"/>
<line x1="24.60" y1="522.30" x2="26.20" y2="522.30" stroke="#444" stroke-width="0.6"/>
<text x="23.80" y="523.95" font-size="4.75" text-anchor="end" font-weight="normal" fill="#333" >TAM-BDM</text>
<circle cx="89.00" cy="522.30" r="0.75" fill="#b4acdc"/>
<line x1="24.60" y1="537.40" x2="26.20" y2="537.40" stroke="#444" stroke-width="0.6"/>
<text x="23.80" y="539.05" font-size="4.75" text-anchor="end" font-weight="normal" fill="#333" >Plasma B</text>
<circle cx="89.00" cy="537.40" r="2.00" fill="#c4bce6"/>
<line x1="24.60" y1="552.50" x2="26.20" y2="552.50" stroke="#444" stroke-width="0.6"/>
<text x="23.80" y="554.15" font-size="4.75" text-anchor="end" font-weight="normal" fill="#333" >NK</text>
<circle cx="89.00" cy="552.50" r="1.25" fill="#9d8ae4"/>
<line x1="24.60" y1="567.60" x2="26.20" y2="567.60" stroke="#444" stroke-width="0.6"/>
<text x="23.80" y="569.25" font-size="4.75" text-anchor="end" font-weight="normal" fill="#333" >Mono</text>
<circle cx="89.00" cy="567.60" r="0.60" fill="#c8c2dc"/>
<line x1="24.60" y1="582.70" x2="26.20" y2="582.70" stroke="#444" stroke-width="0.6"/>
<text x="23.80" y="584.35" font-size="4.75" text-anchor="end" font-weight="normal" fill="#333" >Mast</text>
<circle cx="89.00" cy="582.70" r="3.10" fill="#0808f6"/>
<line x1="24.60" y1="597.80" x2="26.20" y2="597.80" stroke="#444" stroke-width="0.6"/>
<text x="23.80" y="599.45" font-size="4.75" text-anchor="end" font-weight="normal" fill="#333" >Endothelial</text>
<circle cx="89.00" cy="597.80" r="0.50" fill="#e8e8ec"/>
<line x1="24.60" y1="612.90" x2="26.20" y2="612.90" stroke="#444" stroke-width="0.6"/>
<text x="23.80" y="614.55" font-size="4.75" text-anchor="end" font-weight="normal" fill="#333" >DC</text>
<circle cx="89.00" cy="612.90" r="1.50" fill="#4a30f0"/>
<line x1="24.60" y1="628.00" x2="26.20" y2="628.00" stroke="#444" stroke-width="0.6"/>
<text x="23.80" y="629.65" font-size="4.75" text-anchor="end" font-weight="normal" fill="#333" >CD4/CD8</text>
<circle cx="89.00" cy="628.00" r="2.15" fill="#8a6aee"/>
<line x1="89.00" y1="637.20" x2="89.00" y2="638.80" stroke="#444" stroke-width="0.6"/>
<text transform="translate(90.60,640.00) rotate(-90)" font-size="4.5" text-anchor="end" fill="#333">BIRC3</text>
<text x="113.80" y="511.10" font-size="5.50" text-anchor="start" font-weight="normal" fill="#222" >Percent Expressed</text>
<circle cx="116.90" cy="516.90" r="0.60" fill="#000"/>
<text x="122.40" y="518.50" font-size="4.50" text-anchor="start" font-weight="normal" fill="#333" >10</text>
<circle cx="116.90" cy="522.60" r="1.25" fill="#000"/>
<text x="122.40" y="524.20" font-size="4.50" text-anchor="start" font-weight="normal" fill="#333" >20</text>
<circle cx="116.90" cy="528.50" r="1.95" fill="#000"/>
<text x="122.40" y="530.10" font-size="4.50" text-anchor="start" font-weight="normal" fill="#333" >30</text>
<text x="113.80" y="541.30" font-size="5.50" text-anchor="start" font-weight="normal" fill="#222" >Average Expression</text>
<rect x="113.80" y="544.00" width="6.10" height="29.40" fill="url(#gavg)"/>
<text x="122.50" y="547.90" font-size="4.50" text-anchor="start" font-weight="normal" fill="#333" >1.5</text>
<text x="122.50" y="553.60" font-size="4.50" text-anchor="start" font-weight="normal" fill="#333" >1.0</text>
<text x="122.50" y="559.10" font-size="4.50" text-anchor="start" font-weight="normal" fill="#333" >0.5</text>
<text x="122.50" y="564.80" font-size="4.50" text-anchor="start" font-weight="normal" fill="#333" >0.0</text>
<text x="122.50" y="570.50" font-size="4.50" text-anchor="start" font-weight="normal" fill="#333" >-0.5</text>
<line x1="203.20" y1="498.20" x2="203.20" y2="637.75" stroke="#444" stroke-width="0.7"/>
<line x1="202.85" y1="637.40" x2="330.40" y2="637.40" stroke="#444" stroke-width="0.7"/>
<line x1="201.60" y1="507.10" x2="203.20" y2="507.10" stroke="#444" stroke-width="0.6"/>
<text x="200.80" y="508.75" font-size="4.75" text-anchor="end" font-weight="normal" fill="#333" >TAM-MG</text>
<circle cx="267.10" cy="507.10" r="1.80" fill="#9f80ea"/>
<line x1="201.60" y1="522.27" x2="203.20" y2="522.27" stroke="#444" stroke-width="0.6"/>
<text x="200.80" y="523.92" font-size="4.75" text-anchor="end" font-weight="normal" fill="#333" >TAM-BDM</text>
<circle cx="267.10" cy="522.27" r="2.60" fill="#a68ce8"/>
<line x1="201.60" y1="537.44" x2="203.20" y2="537.44" stroke="#444" stroke-width="0.6"/>
<text x="200.80" y="539.09" font-size="4.75" text-anchor="end" font-weight="normal" fill="#333" >Plasma B</text>
<circle cx="267.10" cy="537.44" r="0.50" fill="#d8d8dc"/>
<line x1="201.60" y1="552.61" x2="203.20" y2="552.61" stroke="#444" stroke-width="0.6"/>
<text x="200.80" y="554.26" font-size="4.75" text-anchor="end" font-weight="normal" fill="#333" >NK</text>
<circle cx="267.10" cy="552.61" r="1.20" fill="#7f5cf0"/>
<line x1="201.60" y1="567.78" x2="203.20" y2="567.78" stroke="#444" stroke-width="0.6"/>
<text x="200.80" y="569.43" font-size="4.75" text-anchor="end" font-weight="normal" fill="#333" >Mono</text>
<circle cx="267.10" cy="567.78" r="2.80" fill="#7d55ee"/>
<line x1="201.60" y1="582.95" x2="203.20" y2="582.95" stroke="#444" stroke-width="0.6"/>
<text x="200.80" y="584.60" font-size="4.75" text-anchor="end" font-weight="normal" fill="#333" >Mast</text>
<circle cx="267.10" cy="582.95" r="1.90" fill="#9e80ea"/>
<line x1="201.60" y1="598.12" x2="203.20" y2="598.12" stroke="#444" stroke-width="0.6"/>
<text x="200.80" y="599.77" font-size="4.75" text-anchor="end" font-weight="normal" fill="#333" >Endothelial</text>
<circle cx="267.10" cy="598.12" r="2.10" fill="#1a12f5"/>
<line x1="201.60" y1="613.29" x2="203.20" y2="613.29" stroke="#444" stroke-width="0.6"/>
<text x="200.80" y="614.94" font-size="4.75" text-anchor="end" font-weight="normal" fill="#333" >DC</text>
<circle cx="267.10" cy="613.29" r="2.80" fill="#a58aea"/>
<line x1="201.60" y1="628.46" x2="203.20" y2="628.46" stroke="#444" stroke-width="0.6"/>
<text x="200.80" y="630.11" font-size="4.75" text-anchor="end" font-weight="normal" fill="#333" >CD4/CD8</text>
<circle cx="267.10" cy="628.46" r="0.45" fill="#e0e0e4"/>
<line x1="267.10" y1="637.40" x2="267.10" y2="639.00" stroke="#444" stroke-width="0.6"/>
<text transform="translate(268.70,640.20) rotate(-90)" font-size="4.5" text-anchor="end" fill="#333">BIRC2</text>
<text x="289.60" y="510.80" font-size="5.50" text-anchor="start" font-weight="normal" fill="#222" >Percent Expressed</text>
<circle cx="292.60" cy="516.60" r="0.50" fill="#000"/>
<text x="297.70" y="518.20" font-size="4.50" text-anchor="start" font-weight="normal" fill="#333" >15</text>
<circle cx="292.60" cy="522.40" r="1.10" fill="#000"/>
<text x="297.70" y="524.00" font-size="4.50" text-anchor="start" font-weight="normal" fill="#333" >20</text>
<circle cx="292.60" cy="528.30" r="1.70" fill="#000"/>
<text x="297.70" y="529.90" font-size="4.50" text-anchor="start" font-weight="normal" fill="#333" >25</text>
<text x="289.60" y="541.20" font-size="5.50" text-anchor="start" font-weight="normal" fill="#222" >Average Expression</text>
<rect x="289.60" y="544.20" width="5.60" height="30.10" fill="url(#gavg)"/>
<text x="297.80" y="551.40" font-size="4.50" text-anchor="start" font-weight="normal" fill="#333" >1</text>
<text x="297.80" y="559.10" font-size="4.50" text-anchor="start" font-weight="normal" fill="#333" >0</text>
<text x="297.80" y="567.00" font-size="4.50" text-anchor="start" font-weight="normal" fill="#333" >-1</text>
<text x="297.80" y="574.60" font-size="4.50" text-anchor="start" font-weight="normal" fill="#333" >-2</text>
<line x1="377.40" y1="499.00" x2="377.40" y2="641.05" stroke="#444" stroke-width="0.7"/>
<line x1="377.05" y1="640.70" x2="503.90" y2="640.70" stroke="#444" stroke-width="0.7"/>
<line x1="375.80" y1="508.10" x2="377.40" y2="508.10" stroke="#444" stroke-width="0.6"/>
<text x="375.00" y="509.75" font-size="4.75" text-anchor="end" font-weight="normal" fill="#333" >TAM-MG</text>
<circle cx="440.80" cy="508.10" r="1.15" fill="#a48ae8"/>
<line x1="375.80" y1="523.50" x2="377.40" y2="523.50" stroke="#444" stroke-width="0.6"/>
<text x="375.00" y="525.15" font-size="4.75" text-anchor="end" font-weight="normal" fill="#333" >TAM-BDM</text>
<circle cx="440.80" cy="523.50" r="2.15" fill="#c0b4e4"/>
<line x1="375.80" y1="538.90" x2="377.40" y2="538.90" stroke="#444" stroke-width="0.6"/>
<text x="375.00" y="540.55" font-size="4.75" text-anchor="end" font-weight="normal" fill="#333" >Plasma B</text>
<circle cx="440.80" cy="538.90" r="1.00" fill="#2a1df8"/>
<line x1="375.80" y1="554.30" x2="377.40" y2="554.30" stroke="#444" stroke-width="0.6"/>
<text x="375.00" y="555.95" font-size="4.75" text-anchor="end" font-weight="normal" fill="#333" >NK</text>
<circle cx="440.80" cy="554.30" r="0.40" fill="#e4e4e8"/>
<line x1="375.80" y1="569.70" x2="377.40" y2="569.70" stroke="#444" stroke-width="0.6"/>
<text x="375.00" y="571.35" font-size="4.75" text-anchor="end" font-weight="normal" fill="#333" >Mono</text>
<circle cx="440.80" cy="569.70" r="2.30" fill="#a88ee6"/>
<line x1="375.80" y1="585.10" x2="377.40" y2="585.10" stroke="#444" stroke-width="0.6"/>
<text x="375.00" y="586.75" font-size="4.75" text-anchor="end" font-weight="normal" fill="#333" >Mast</text>
<circle cx="440.80" cy="585.10" r="1.50" fill="#b9a9e4"/>
<line x1="375.80" y1="600.50" x2="377.40" y2="600.50" stroke="#444" stroke-width="0.6"/>
<text x="375.00" y="602.15" font-size="4.75" text-anchor="end" font-weight="normal" fill="#333" >Endothelial</text>
<circle cx="440.80" cy="600.50" r="2.60" fill="#4a2ef0"/>
<line x1="375.80" y1="615.90" x2="377.40" y2="615.90" stroke="#444" stroke-width="0.6"/>
<text x="375.00" y="617.55" font-size="4.75" text-anchor="end" font-weight="normal" fill="#333" >DC</text>
<circle cx="440.80" cy="615.90" r="2.50" fill="#cec8de"/>
<line x1="375.80" y1="631.30" x2="377.40" y2="631.30" stroke="#444" stroke-width="0.6"/>
<text x="375.00" y="632.95" font-size="4.75" text-anchor="end" font-weight="normal" fill="#333" >CD4/CD8</text>
<circle cx="440.80" cy="631.30" r="0.40" fill="#e8e8ea"/>
<line x1="440.80" y1="640.70" x2="440.80" y2="642.30" stroke="#444" stroke-width="0.6"/>
<text transform="translate(442.40,643.50) rotate(-90)" font-size="4.5" text-anchor="end" fill="#333">XIAP</text>
<text x="461.80" y="504.70" font-size="5.50" text-anchor="start" font-weight="normal" fill="#222" >Percent Expressed</text>
<circle cx="464.30" cy="510.20" r="0.45" fill="#000"/>
<text x="470.00" y="511.80" font-size="4.50" text-anchor="start" font-weight="normal" fill="#333" >12.5</text>
<circle cx="464.30" cy="516.00" r="0.85" fill="#000"/>
<text x="470.00" y="517.60" font-size="4.50" text-anchor="start" font-weight="normal" fill="#333" >15.0</text>
<circle cx="464.30" cy="521.90" r="1.25" fill="#000"/>
<text x="470.00" y="523.50" font-size="4.50" text-anchor="start" font-weight="normal" fill="#333" >17.5</text>
<circle cx="464.30" cy="527.60" r="1.65" fill="#000"/>
<text x="470.00" y="529.20" font-size="4.50" text-anchor="start" font-weight="normal" fill="#333" >20.0</text>
<circle cx="464.30" cy="534.00" r="2.10" fill="#000"/>
<text x="470.00" y="535.60" font-size="4.50" text-anchor="start" font-weight="normal" fill="#333" >22.5</text>
<text x="461.80" y="546.80" font-size="5.50" text-anchor="start" font-weight="normal" fill="#222" >Average Expression</text>
<rect x="461.80" y="550.00" width="5.30" height="28.10" fill="url(#gavg)"/>
<text x="469.70" y="560.10" font-size="4.50" text-anchor="start" font-weight="normal" fill="#333" >1</text>
<text x="469.70" y="570.00" font-size="4.50" text-anchor="start" font-weight="normal" fill="#333" >0</text>
<text x="469.70" y="580.30" font-size="4.50" text-anchor="start" font-weight="normal" fill="#333" >-1</text>
<line x1="550.40" y1="497.70" x2="550.40" y2="637.55" stroke="#444" stroke-width="0.7"/>
<line x1="550.05" y1="637.20" x2="677.30" y2="637.20" stroke="#444" stroke-width="0.7"/>
<line x1="548.80" y1="506.90" x2="550.40" y2="506.90" stroke="#444" stroke-width="0.6"/>
<text x="548.00" y="508.55" font-size="4.75" text-anchor="end" font-weight="normal" fill="#333" >TAM-MG</text>
<circle cx="614.00" cy="506.90" r="2.30" fill="#8a6aee"/>
<line x1="548.80" y1="522.04" x2="550.40" y2="522.04" stroke="#444" stroke-width="0.6"/>
<text x="548.00" y="523.69" font-size="4.75" text-anchor="end" font-weight="normal" fill="#333" >TAM-BDM</text>
<circle cx="614.00" cy="522.04" r="3.00" fill="#0d0df8"/>
<line x1="548.80" y1="537.18" x2="550.40" y2="537.18" stroke="#444" stroke-width="0.6"/>
<text x="548.00" y="538.83" font-size="4.75" text-anchor="end" font-weight="normal" fill="#333" >Plasma B</text>
<circle cx="614.00" cy="537.18" r="0.40" fill="#eeeeee"/>
<line x1="548.80" y1="552.32" x2="550.40" y2="552.32" stroke="#444" stroke-width="0.6"/>
<text x="548.00" y="553.97" font-size="4.75" text-anchor="end" font-weight="normal" fill="#333" >NK</text>
<circle cx="614.00" cy="552.32" r="0.40" fill="#eeeeee"/>
<line x1="548.80" y1="567.46" x2="550.40" y2="567.46" stroke="#444" stroke-width="0.6"/>
<text x="548.00" y="569.11" font-size="4.75" text-anchor="end" font-weight="normal" fill="#333" >Mono</text>
<circle cx="614.00" cy="567.46" r="1.60" fill="#9a78ec"/>
<line x1="548.80" y1="582.60" x2="550.40" y2="582.60" stroke="#444" stroke-width="0.6"/>
<text x="548.00" y="584.25" font-size="4.75" text-anchor="end" font-weight="normal" fill="#333" >Mast</text>
<circle cx="614.00" cy="582.60" r="0.40" fill="#eeeeee"/>
<line x1="548.80" y1="597.74" x2="550.40" y2="597.74" stroke="#444" stroke-width="0.6"/>
<text x="548.00" y="599.39" font-size="4.75" text-anchor="end" font-weight="normal" fill="#333" >Endothelial</text>
<circle cx="614.00" cy="597.74" r="0.40" fill="#eeeeee"/>
<line x1="548.80" y1="612.88" x2="550.40" y2="612.88" stroke="#444" stroke-width="0.6"/>
<text x="548.00" y="614.53" font-size="4.75" text-anchor="end" font-weight="normal" fill="#333" >DC</text>
<circle cx="614.00" cy="612.88" r="0.40" fill="#eeeeee"/>
<line x1="548.80" y1="628.02" x2="550.40" y2="628.02" stroke="#444" stroke-width="0.6"/>
<text x="548.00" y="629.67" font-size="4.75" text-anchor="end" font-weight="normal" fill="#333" >CD4/CD8</text>
<circle cx="614.00" cy="628.02" r="0.40" fill="#eeeeee"/>
<line x1="614.00" y1="637.20" x2="614.00" y2="638.80" stroke="#444" stroke-width="0.6"/>
<text transform="translate(615.60,640.00) rotate(-90)" font-size="4.5" text-anchor="end" fill="#333">BIRC7</text>
<text x="636.50" y="507.70" font-size="5.50" text-anchor="start" font-weight="normal" fill="#222" >Percent Expressed</text>
<circle cx="639.50" cy="513.50" r="0.45" fill="#000"/>
<text x="644.60" y="515.10" font-size="4.50" text-anchor="start" font-weight="normal" fill="#333" >0.0</text>
<circle cx="639.50" cy="519.10" r="0.90" fill="#000"/>
<text x="644.60" y="520.70" font-size="4.50" text-anchor="start" font-weight="normal" fill="#333" >0.5</text>
<circle cx="639.50" cy="525.00" r="1.35" fill="#000"/>
<text x="644.60" y="526.60" font-size="4.50" text-anchor="start" font-weight="normal" fill="#333" >1.0</text>
<circle cx="639.50" cy="530.90" r="1.80" fill="#000"/>
<text x="644.60" y="532.50" font-size="4.50" text-anchor="start" font-weight="normal" fill="#333" >1.5</text>
<text x="636.50" y="544.00" font-size="5.50" text-anchor="start" font-weight="normal" fill="#222" >Average Expression</text>
<rect x="636.50" y="546.70" width="5.50" height="28.90" fill="url(#gavg)"/>
<text x="644.60" y="549.10" font-size="4.50" text-anchor="start" font-weight="normal" fill="#333" >2.0</text>
<text x="644.60" y="554.70" font-size="4.50" text-anchor="start" font-weight="normal" fill="#333" >1.5</text>
<text x="644.60" y="560.10" font-size="4.50" text-anchor="start" font-weight="normal" fill="#333" >1.0</text>
<text x="644.60" y="565.40" font-size="4.50" text-anchor="start" font-weight="normal" fill="#333" >0.5</text>
<text x="644.60" y="570.80" font-size="4.50" text-anchor="start" font-weight="normal" fill="#333" >0.0</text>
<text x="644.60" y="575.90" font-size="4.50" text-anchor="start" font-weight="normal" fill="#333" >-0.5</text>
</svg>
</body></html>
